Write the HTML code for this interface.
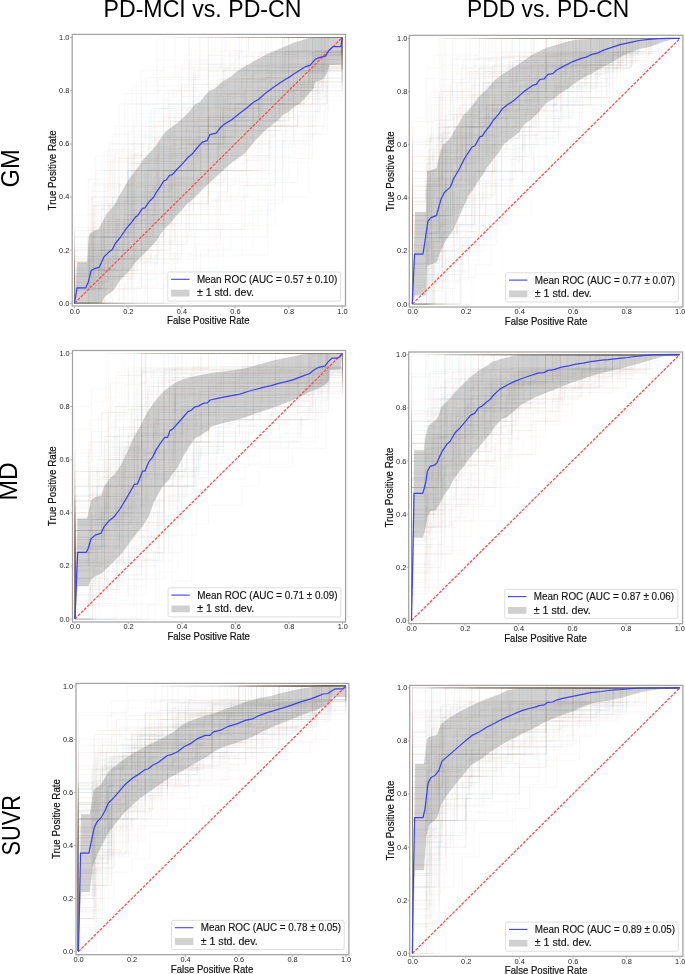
<!DOCTYPE html>
<html><head><meta charset="utf-8"><title>ROC curves</title>
<style>html,body{margin:0;padding:0;background:#fff;width:685px;height:974px;overflow:hidden}
svg{display:block;font-family:"Liberation Sans",sans-serif;will-change:transform;opacity:0.999}</style></head>
<body>
<svg width="685" height="974" viewBox="0 0 685 974" font-family='"Liberation Sans", sans-serif'>
<g><g fill="none" stroke-width="0.9" stroke-opacity="0.05"><path d="M74.5 303.3V288.5H108V259H141.4V214.7H174.9V155.7H208.3V140.9H241.8V111.4H275.3V81.9H308.7V52.4H342.2V37.6" stroke="#437394"/>
<path d="M74.5 303.3V256.4H104.2V225.2H134V147H163.7V115.7H193.5V84.5H223.2V68.9H253V53.2H282.7V37.6H312.5H342.2" stroke="#c88143"/>
<path d="M74.5 303.3V236.9H104.2V187.1H134V153.8H163.7V120.6H193.5V87.4H223.2V70.8H253H282.7V54.2H312.5V37.6H342.2" stroke="#3d7d3d"/>
<path d="M74.5 303.3H95.1V276.7H115.7H136.3V263.4H156.9H177.5V236.9H198.1H218.6V197H239.2V170.5H259.8V130.6H280.4V117.3H301V90.7H321.6V64.2H342.2V37.6" stroke="#a24142"/>
<path d="M74.5 303.3V276.7H87.9H101.3V197H114.7H128H141.4H154.8V170.5H168.2V117.3H181.6H195H208.3V64.2H221.7H235.1H248.5H261.9H275.3H288.7H302H315.4V37.6H328.8H342.2" stroke="#937baa"/>
<path d="M74.5 303.3H93.6V289.3H112.7H131.9V261.3H151V219.4H170.1V205.4H189.2H208.3V191.4H227.5V163.5H246.6V121.5H265.7H284.8V107.5H304V93.5H323.1V65.6H342.2V37.6" stroke="#7a5c56"/>
<path d="M74.5 303.3V265.3H91.2H108V189.4H124.7H141.4H158.2V151.5H174.9H191.6V132.5H208.3V113.5H225.1H241.8V75.6H258.5V56.6H275.3H292H308.7V37.6H325.5H342.2" stroke="#ce92bc"/>
<path d="M74.5 303.3V286.7H90.2V270.1H106V236.9H121.7H137.5H153.2V203.7H169V170.5H184.7H200.5V137.2H216.2H232V120.6H247.7H263.5H279.2V87.4H295H310.7V70.8H326.5V54.2H342.2V37.6" stroke="#7f7f7f"/>
<path d="M74.5 303.3H108H141.4H174.9V256.4H208.3H241.8V225.2H275.3V162.6H308.7V100.1H342.2V37.6" stroke="#a5a650"/>
<path d="M74.5 303.3H92.3H110.2H128H145.9H163.7V285.6H181.6H199.4V267.9H217.3V250.2H235.1H253V214.7H270.8V179.3H288.7V143.9H306.5V126.2H324.4V90.7H342.2V37.6" stroke="#4ca8b1"/>
<path d="M74.5 303.3V281.2H91.2H108V259H124.7V214.7H141.4H158.2V170.5H174.9H191.6H208.3H225.1V126.2H241.8H258.5V81.9H275.3H292H308.7V59.7H325.5H342.2V37.6" stroke="#437394"/>
<path d="M74.5 303.3V281.2H92.3H110.2V259H128V214.7H145.9H163.7V148.3H181.6H199.4V126.2H217.3H235.1H253V104H270.8V81.9H288.7V37.6H306.5H324.4H342.2" stroke="#c88143"/>
<path d="M74.5 303.3H89.4H104.2H119.1V273.8H134V244.3H148.9H163.7V214.7H178.6H193.5V185.2H208.3H223.2V155.7H238.1V126.2H253H267.8H282.7H297.6V96.6H312.5V67.1H327.3H342.2V37.6" stroke="#3d7d3d"/>
<path d="M74.5 303.3V287.7H92.3H110.2V256.4H128V240.8H145.9V225.2H163.7H181.6V193.9H199.4V162.6H217.3V147H235.1H253V115.7H270.8H288.7V84.5H306.5H324.4V68.9H342.2V37.6" stroke="#a24142"/>
<path d="M74.5 303.3V272H95.1V240.8H115.7V225.2H136.3V209.5H156.9V131.4H177.5H198.1V68.9H218.6H239.2V37.6H259.8H280.4H301H321.6H342.2" stroke="#937baa"/>
<path d="M74.5 303.3H87.9H101.3V270.1H114.7V236.9H128H141.4V203.7H154.8H168.2V170.5H181.6H195H208.3V137.2H221.7H235.1H248.5H261.9H275.3V70.8H288.7H302H315.4V37.6H328.8H342.2" stroke="#7a5c56"/>
<path d="M74.5 303.3H96.8V289.3H119.1H141.4V205.4H163.7H186V191.4H208.3V149.5H230.7H253V135.5H275.3V93.5H297.6H319.9V65.6H342.2V37.6" stroke="#ce92bc"/>
<path d="M74.5 303.3V273.8H89.4V244.3H104.2V214.7H119.1V185.2H134V126.2H148.9H163.7H178.6H193.5V67.1H208.3H223.2H238.1H253H267.8H282.7V37.6H297.6H312.5H327.3H342.2" stroke="#7f7f7f"/>
<path d="M74.5 303.3H93.6H112.7H131.9V262.4H151V242H170.1V201.1H189.2H208.3H227.5V180.7H246.6V139.8H265.7V119.4H284.8H304V98.9H323.1V58H342.2V37.6" stroke="#a5a650"/>
<path d="M74.5 303.3V270.1H87.9H101.3V236.9H114.7H128V137.2H141.4H154.8V104H168.2H181.6H195H208.3H221.7V70.8H235.1H248.5H261.9H275.3H288.7V37.6H302H315.4H328.8H342.2" stroke="#4ca8b1"/>
<path d="M74.5 303.3H92.3H110.2V244.3H128V155.7H145.9H163.7H181.6H199.4V126.2H217.3V67.1H235.1H253H270.8H288.7H306.5V37.6H324.4H342.2" stroke="#437394"/>
<path d="M74.5 303.3V244.3H101.3V229.5H128V155.7H154.8V126.2H181.6H208.3V81.9H235.1H261.9V37.6H288.7H315.4H342.2" stroke="#c88143"/>
<path d="M74.5 303.3H92.3H110.2H128V273.8H145.9V259H163.7H181.6V229.5H199.4H217.3V185.2H235.1V155.7H253H270.8V126.2H288.7V111.4H306.5V81.9H324.4V52.4H342.2V37.6" stroke="#3d7d3d"/>
<path d="M74.5 303.3H93.6V288.5H112.7V229.5H131.9H151V214.7H170.1V170.5H189.2H208.3V155.7H227.5H246.6V111.4H265.7H284.8V96.6H304V67.1H323.1V52.4H342.2V37.6" stroke="#a24142"/>
<path d="M74.5 303.3H95.1V270.1H115.7H136.3V203.7H156.9H177.5V170.5H198.1H218.6V137.2H239.2H259.8V104H280.4H301V70.8H321.6V37.6H342.2" stroke="#937baa"/>
<path d="M74.5 303.3V270.1H87.9V236.9H101.3V203.7H114.7V153.8H128H141.4V104H154.8H168.2H181.6V87.4H195V70.8H208.3H221.7V37.6H235.1H248.5H261.9H275.3H288.7H302H315.4H328.8H342.2" stroke="#7a5c56"/>
<path d="M74.5 303.3V276.7H88.6V236.9H102.7H116.8V223.6H130.9H144.9V210.3H159H173.1V183.7H187.2V117.3H201.3H215.4V90.7H229.5H243.6H257.7H271.8H285.8V50.9H299.9H314H328.1V37.6H342.2" stroke="#ce92bc"/>
<path d="M74.5 303.3V273.8H96.8V244.3H119.1H141.4V214.7H163.7H186V126.2H208.3H230.7H253H275.3V67.1H297.6H319.9V37.6H342.2" stroke="#7f7f7f"/>
<path d="M74.5 303.3H88.6V288.5H102.7V259H116.8H130.9H144.9V185.2H159H173.1H187.2H201.3V140.9H215.4H229.5H243.6H257.7V126.2H271.8V67.1H285.8H299.9H314H328.1H342.2V37.6" stroke="#a5a650"/>
<path d="M74.5 303.3V286.7H92.3V236.9H110.2H128V170.5H145.9H163.7V153.8H181.6V137.2H199.4V104H217.3V87.4H235.1H253V70.8H270.8V54.2H288.7H306.5H324.4V37.6H342.2" stroke="#4ca8b1"/>
<path d="M74.5 303.3H89.4V267.9H104.2H119.1H134V250.2H148.9V197H163.7H178.6H193.5V161.6H208.3H223.2V126.2H238.1H253V108.5H267.8H282.7V90.7H297.6V73H312.5H327.3V55.3H342.2V37.6" stroke="#437394"/>
<path d="M74.5 303.3H108V259H141.4V236.9H174.9V170.5H208.3V126.2H241.8H275.3H308.7V59.7H342.2V37.6" stroke="#c88143"/>
<path d="M74.5 303.3V227.4H108H141.4V151.5H174.9H208.3V94.5H241.8V56.6H275.3H308.7H342.2V37.6" stroke="#3d7d3d"/>
<path d="M74.5 303.3H96.8V288.5H119.1H141.4V273.8H163.7V244.3H186V214.7H208.3H230.7V185.2H253H275.3V126.2H297.6V111.4H319.9V67.1H342.2V37.6" stroke="#a24142"/>
<path d="M74.5 303.3V288.5H101.3V273.8H128V229.5H154.8V200H181.6V140.9H208.3V126.2H235.1H261.9V96.6H288.7V67.1H315.4V52.4H342.2V37.6" stroke="#937baa"/>
<path d="M74.5 303.3V282.9H98.8V201.1H123.2H147.5V160.2H171.8V139.8H196.2V119.4H220.5V78.5H244.9H269.2V58H293.5V37.6H317.9H342.2" stroke="#7a5c56"/>
<path d="M74.5 303.3V282.9H101.3V221.5H128H154.8V139.8H181.6H208.3H235.1V78.5H261.9H288.7V58H315.4H342.2V37.6" stroke="#ce92bc"/>
<path d="M74.5 303.3H108H141.4H174.9V223.6H208.3H241.8V197H275.3H308.7V90.7H342.2V37.6" stroke="#7f7f7f"/>
<path d="M74.5 303.3V285.6H98.8V250.2H123.2H147.5H171.8V197H196.2V179.3H220.5V108.5H244.9V73H269.2H293.5H317.9V55.3H342.2V37.6" stroke="#a5a650"/>
<path d="M74.5 303.3V270.1H89.4V236.9H104.2V170.5H119.1H134V137.2H148.9V104H163.7H178.6H193.5H208.3H223.2V70.8H238.1H253H267.8H282.7V37.6H297.6H312.5H327.3H342.2" stroke="#4ca8b1"/>
<path d="M74.5 303.3H98.8V270.1H123.2V220.3H147.5V187.1H171.8V153.8H196.2H220.5H244.9V87.4H269.2V70.8H293.5H317.9V54.2H342.2V37.6" stroke="#437394"/>
<path d="M74.5 303.3V261.3H95.1V205.4H115.7V191.4H136.3V163.5H156.9V121.5H177.5H198.1H218.6V93.5H239.2V79.6H259.8H280.4V51.6H301H321.6V37.6H342.2" stroke="#c88143"/>
<path d="M74.5 303.3V256.4H101.3V209.5H128V131.4H154.8H181.6V84.5H208.3V37.6H235.1H261.9H288.7H315.4H342.2" stroke="#3d7d3d"/>
<path d="M74.5 303.3V285.6H88.6H102.7V232.4H116.8H130.9V214.7H144.9V197H159H173.1H187.2V143.9H201.3H215.4H229.5V108.5H243.6H257.7V90.7H271.8H285.8H299.9V73H314V55.3H328.1H342.2V37.6" stroke="#a24142"/>
<path d="M74.5 303.3V230.8H93.6V206.7H112.7V158.4H131.9V85.9H151H170.1H189.2V37.6H208.3H227.5H246.6H265.7H284.8H304H323.1H342.2" stroke="#937baa"/>
<path d="M74.5 303.3H92.3H110.2V236.9H128H145.9H163.7V170.5H181.6H199.4H217.3V137.2H235.1V104H253H270.8V70.8H288.7H306.5H324.4V37.6H342.2" stroke="#7a5c56"/>
<path d="M74.5 303.3H98.8H123.2H147.5V236.9H171.8H196.2H220.5V170.5H244.9H269.2V137.2H293.5V104H317.9V70.8H342.2V37.6" stroke="#ce92bc"/>
<path d="M74.5 303.3H87.9V289.3H101.3H114.7V233.4H128H141.4V191.4H154.8V177.4H168.2H181.6H195H208.3V135.5H221.7V121.5H235.1H248.5V107.5H261.9V93.5H275.3H288.7H302V79.6H315.4V65.6H328.8V51.6H342.2V37.6" stroke="#7f7f7f"/>
<path d="M74.5 303.3H98.8V276.7H123.2V250.2H147.5V197H171.8V143.9H196.2H220.5V117.3H244.9V90.7H269.2H293.5H317.9V64.2H342.2V37.6" stroke="#a5a650"/>
<path d="M74.5 303.3H98.8V250.2H123.2H147.5V197H171.8V170.5H196.2V143.9H220.5V117.3H244.9V90.7H269.2H293.5V64.2H317.9V37.6H342.2" stroke="#4ca8b1"/>
<path d="M74.5 303.3H92.3V236.9H110.2V203.7H128H145.9H163.7V170.5H181.6H199.4V137.2H217.3H235.1V104H253H270.8H288.7V70.8H306.5H324.4V37.6H342.2" stroke="#437394"/>
<path d="M74.5 303.3V261.3H90.2V205.4H106V177.4H121.7V149.5H137.5V135.5H153.2V121.5H169V93.5H184.7V79.6H200.5V37.6H216.2H232H247.7H263.5H279.2H295H310.7H326.5H342.2" stroke="#c88143"/>
<path d="M74.5 303.3V276.7H93.6V250.2H112.7V197H131.9H151V170.5H170.1H189.2H208.3V117.3H227.5V104H246.6H265.7V77.5H284.8V37.6H304H323.1H342.2" stroke="#3d7d3d"/>
<path d="M74.5 303.3H98.8H123.2H147.5V273.8H171.8V259H196.2V244.3H220.5V229.5H244.9V185.2H269.2V126.2H293.5H317.9V81.9H342.2V37.6" stroke="#a24142"/>
<path d="M74.5 303.3V265.3H104.2V151.5H134V113.5H163.7H193.5V75.6H223.2V56.6H253H282.7V37.6H312.5H342.2" stroke="#937baa"/>
<path d="M74.5 303.3V263.4H87.9V236.9H101.3H114.7V157.2H128H141.4V143.9H154.8H168.2V104H181.6H195V64.2H208.3H221.7V50.9H235.1H248.5V37.6H261.9H275.3H288.7H302H315.4H328.8H342.2" stroke="#7a5c56"/>
<path d="M74.5 303.3V273.8H101.3H128V214.7H154.8V185.2H181.6V126.2H208.3H235.1H261.9V96.6H288.7H315.4V67.1H342.2V37.6" stroke="#ce92bc"/>
<path d="M74.5 303.3V281.2H89.4H104.2V236.9H119.1H134V214.7H148.9H163.7H178.6V192.6H193.5V148.3H208.3H223.2H238.1V104H253H267.8H282.7V81.9H297.6H312.5H327.3V59.7H342.2V37.6" stroke="#7f7f7f"/>
<path d="M74.5 303.3V286.7H89.4V253.5H104.2H119.1V220.3H134V187.1H148.9V137.2H163.7H178.6H193.5V70.8H208.3H223.2H238.1H253H267.8V54.2H282.7H297.6V37.6H312.5H327.3H342.2" stroke="#a5a650"/>
<path d="M74.5 303.3H89.4V250.2H104.2H119.1H134H148.9V223.6H163.7H178.6V170.5H193.5H208.3V143.9H223.2V117.3H238.1H253H267.8H282.7V90.7H297.6H312.5H327.3V64.2H342.2V37.6" stroke="#4ca8b1"/>
<path d="M74.5 303.3V244.3H95.1V155.7H115.7V126.2H136.3V81.9H156.9V37.6H177.5H198.1H218.6H239.2H259.8H280.4H301H321.6H342.2" stroke="#437394"/>
<path d="M74.5 303.3H93.6H112.7H131.9V259H151H170.1V236.9H189.2V214.7H208.3V192.6H227.5V170.5H246.6H265.7V126.2H284.8V104H304V81.9H323.1V59.7H342.2V37.6" stroke="#c88143"/>
<path d="M74.5 303.3H98.8V270.1H123.2V236.9H147.5V170.5H171.8H196.2V137.2H220.5V104H244.9H269.2H293.5V70.8H317.9V37.6H342.2" stroke="#3d7d3d"/>
<path d="M74.5 303.3V282.9H91.2H108V221.5H124.7V201.1H141.4V160.2H158.2V139.8H174.9H191.6H208.3V119.4H225.1H241.8H258.5V98.9H275.3V78.5H292V37.6H308.7H325.5H342.2" stroke="#a24142"/>
<path d="M74.5 303.3V270.1H95.1V236.9H115.7V203.7H136.3V187.1H156.9V153.8H177.5H198.1V137.2H218.6V120.6H239.2H259.8V87.4H280.4H301H321.6V54.2H342.2V37.6" stroke="#937baa"/>
<path d="M74.5 303.3V284.3H98.8V246.4H123.2V227.4H147.5V189.4H171.8V170.5H196.2V132.5H220.5V113.5H244.9H269.2H293.5V94.5H317.9V56.6H342.2V37.6" stroke="#7a5c56"/>
<path d="M74.5 303.3V284.3H93.6V227.4H112.7H131.9V170.5H151H170.1H189.2V132.5H208.3H227.5V94.5H246.6H265.7V75.6H284.8V37.6H304H323.1H342.2" stroke="#ce92bc"/>
<path d="M74.5 303.3H91.2V276.7H108H124.7V223.6H141.4H158.2V210.3H174.9V197H191.6H208.3V157.2H225.1V130.6H241.8H258.5H275.3V104H292V90.7H308.7V64.2H325.5V50.9H342.2V37.6" stroke="#7f7f7f"/>
<path d="M74.5 303.3H91.2H108H124.7V273.8H141.4V259H158.2H174.9V244.3H191.6V229.5H208.3H225.1H241.8H258.5V185.2H275.3V155.7H292V140.9H308.7V126.2H325.5V81.9H342.2V37.6" stroke="#a5a650"/>
<path d="M74.5 303.3V270.1H108V203.7H141.4V137.2H174.9V104H208.3H241.8V70.8H275.3V37.6H308.7H342.2" stroke="#4ca8b1"/>
<path d="M74.5 303.3H104.2H134V288.5H163.7V229.5H193.5H223.2V214.7H253V200H282.7V140.9H312.5V96.6H342.2V37.6" stroke="#437394"/>
<path d="M74.5 303.3V259H96.8V170.5H119.1V155.7H141.4V126.2H163.7V67.1H186H208.3H230.7V37.6H253H275.3H297.6H319.9H342.2" stroke="#c88143"/>
<path d="M74.5 303.3V267.9H96.8V250.2H119.1V214.7H141.4V161.6H163.7H186V143.9H208.3V108.5H230.7V90.7H253V73H275.3H297.6H319.9V55.3H342.2V37.6" stroke="#3d7d3d"/>
<path d="M74.5 303.3V279.1H96.8V255H119.1V158.4H141.4H163.7H186V110.1H208.3H230.7H253H275.3V61.8H297.6H319.9V37.6H342.2" stroke="#a24142"/>
<path d="M74.5 303.3V289.3H98.8V247.4H123.2V219.4H147.5V191.4H171.8V163.5H196.2V149.5H220.5V93.5H244.9H269.2V65.6H293.5H317.9V51.6H342.2V37.6" stroke="#937baa"/>
<path d="M74.5 303.3V273.8H93.6V185.2H112.7H131.9V155.7H151V126.2H170.1V96.6H189.2V37.6H208.3H227.5H246.6H265.7H284.8H304H323.1H342.2" stroke="#7a5c56"/>
<path d="M74.5 303.3V250.2H92.3V197H110.2H128H145.9V170.5H163.7V117.3H181.6H199.4H217.3V90.7H235.1V64.2H253H270.8H288.7V37.6H306.5H324.4H342.2" stroke="#ce92bc"/>
<path d="M74.5 303.3H95.1V270.1H115.7V236.9H136.3V220.3H156.9H177.5V153.8H198.1V120.6H218.6H239.2V104H259.8V54.2H280.4H301H321.6V37.6H342.2" stroke="#7f7f7f"/>
<path d="M74.5 303.3V259H104.2H134V185.2H163.7V155.7H193.5V140.9H223.2V81.9H253H282.7H312.5V52.4H342.2V37.6" stroke="#a5a650"/>
<path d="M74.5 303.3H88.6V270.1H102.7H116.8V236.9H130.9V203.7H144.9V170.5H159V137.2H173.1H187.2H201.3H215.4V104H229.5H243.6H257.7H271.8H285.8V70.8H299.9H314V37.6H328.1H342.2" stroke="#4ca8b1"/>
<path d="M74.5 303.3V275.3H89.4V247.4H104.2V205.4H119.1V177.4H134H148.9V121.5H163.7V93.5H178.6V79.6H193.5H208.3V65.6H223.2H238.1H253H267.8V37.6H282.7H297.6H312.5H327.3H342.2" stroke="#437394"/>
<path d="M74.5 303.3V256.4H92.3V209.5H110.2V162.6H128H145.9H163.7V100.1H181.6V68.9H199.4H217.3H235.1H253V37.6H270.8H288.7H306.5H324.4H342.2" stroke="#c88143"/>
<path d="M74.5 303.3H104.2V236.9H134H163.7V170.5H193.5V137.2H223.2H253V104H282.7V70.8H312.5V37.6H342.2" stroke="#3d7d3d"/>
<path d="M74.5 303.3V290H93.6V263.4H112.7V250.2H131.9V210.3H151V197H170.1V157.2H189.2V130.6H208.3V117.3H227.5H246.6V90.7H265.7V77.5H284.8V50.9H304H323.1V37.6H342.2" stroke="#a24142"/>
<path d="M74.5 303.3V288.5H101.3V229.5H128V214.7H154.8V170.5H181.6V140.9H208.3V96.6H235.1H261.9V81.9H288.7V52.4H315.4H342.2V37.6" stroke="#937baa"/>
<path d="M74.5 303.3H96.8H119.1V259H141.4V244.3H163.7V229.5H186V185.2H208.3V170.5H230.7H253V155.7H275.3V126.2H297.6V81.9H319.9H342.2V37.6" stroke="#7a5c56"/>
<path d="M74.5 303.3V272H108V225.2H141.4V209.5H174.9V178.3H208.3V115.7H241.8V100.1H275.3V84.5H308.7V53.2H342.2V37.6" stroke="#ce92bc"/>
<path d="M74.5 303.3V279.1H93.6V230.8H112.7H131.9V158.4H151H170.1V110.1H189.2H208.3V85.9H227.5H246.6V61.8H265.7H284.8V37.6H304H323.1H342.2" stroke="#7f7f7f"/>
<path d="M74.5 303.3H93.6H112.7V259H131.9H151V214.7H170.1H189.2V170.5H208.3H227.5V126.2H246.6H265.7H284.8V104H304V81.9H323.1V59.7H342.2V37.6" stroke="#a5a650"/>
<path d="M74.5 303.3H93.6H112.7H131.9H151V262.4H170.1V242H189.2V201.1H208.3H227.5H246.6V160.2H265.7H284.8V139.8H304V78.5H323.1H342.2V37.6" stroke="#4ca8b1"/>
<path d="M74.5 303.3V259H101.3H128V170.5H154.8H181.6V96.6H208.3H235.1H261.9V81.9H288.7V37.6H315.4H342.2" stroke="#437394"/>
<path d="M74.5 303.3V285.6H93.6H112.7H131.9V232.4H151H170.1H189.2V197H208.3V179.3H227.5V143.9H246.6V126.2H265.7H284.8V90.7H304H323.1V55.3H342.2V37.6" stroke="#c88143"/>
<path d="M74.5 303.3V272H108V256.4H141.4V240.8H174.9V178.3H208.3V100.1H241.8H275.3H308.7V68.9H342.2V37.6" stroke="#3d7d3d"/>
<path d="M74.5 303.3V276.7H89.4V250.2H104.2H119.1V223.6H134H148.9H163.7V170.5H178.6H193.5V143.9H208.3V117.3H223.2H238.1H253H267.8V90.7H282.7H297.6V64.2H312.5H327.3H342.2V37.6" stroke="#a24142"/>
<path d="M74.5 303.3H95.1V270.1H115.7V203.7H136.3H156.9V170.5H177.5H198.1H218.6V104H239.2H259.8H280.4H301V70.8H321.6V37.6H342.2" stroke="#937baa"/>
<path d="M74.5 303.3V250.2H92.3V197H110.2V143.9H128H145.9V117.3H163.7H181.6V64.2H199.4H217.3H235.1V37.6H253H270.8H288.7H306.5H324.4H342.2" stroke="#7a5c56"/>
<path d="M74.5 303.3V250.2H88.6V179.3H102.7H116.8H130.9V143.9H144.9V126.2H159V108.5H173.1V90.7H187.2V55.3H201.3H215.4V37.6H229.5H243.6H257.7H271.8H285.8H299.9H314H328.1H342.2" stroke="#ce92bc"/>
<path d="M74.5 303.3H90.2H106V285.6H121.7V232.4H137.5H153.2V214.7H169V179.3H184.7H200.5V143.9H216.2V126.2H232V108.5H247.7H263.5H279.2H295V55.3H310.7H326.5H342.2V37.6" stroke="#7f7f7f"/>
<path d="M74.5 303.3V288.5H88.6V229.5H102.7H116.8V185.2H130.9H144.9H159V170.5H173.1V126.2H187.2H201.3V111.4H215.4V96.6H229.5H243.6H257.7V67.1H271.8V52.4H285.8H299.9H314H328.1H342.2V37.6" stroke="#a5a650"/>
<path d="M74.5 303.3V259H101.3H128V170.5H154.8V148.3H181.6V126.2H208.3H235.1V81.9H261.9V59.7H288.7V37.6H315.4H342.2" stroke="#4ca8b1"/>
<path d="M74.5 303.3H87.9H101.3V279.1H114.7H128H141.4H154.8V255H168.2H181.6H195V230.8H208.3V182.5H221.7H235.1H248.5H261.9V134.2H275.3H288.7H302H315.4V85.9H328.8V61.8H342.2V37.6" stroke="#437394"/>
<path d="M74.5 303.3H104.2V279.1H134V255H163.7V182.5H193.5H223.2V110.1H253H282.7V85.9H312.5V61.8H342.2V37.6" stroke="#c88143"/>
<path d="M74.5 303.3V273.8H95.1V244.3H115.7H136.3H156.9V155.7H177.5H198.1H218.6V126.2H239.2H259.8V96.6H280.4V67.1H301H321.6V37.6H342.2" stroke="#3d7d3d"/>
<path d="M74.5 303.3H90.2H106H121.7H137.5H153.2H169V290H184.7V276.7H200.5V250.2H216.2V197H232H247.7V157.2H263.5H279.2H295V143.9H310.7V104H326.5V77.5H342.2V37.6" stroke="#a24142"/>
<path d="M74.5 303.3V236.9H95.1V170.5H115.7H136.3V104H156.9V59.7H177.5H198.1H218.6H239.2V37.6H259.8H280.4H301H321.6H342.2" stroke="#937baa"/>
<path d="M74.5 303.3V236.9H96.8V203.7H119.1V104H141.4V70.8H163.7V37.6H186H208.3H230.7H253H275.3H297.6H319.9H342.2" stroke="#7a5c56"/>
<path d="M74.5 303.3V281.2H93.6V236.9H112.7V214.7H131.9V170.5H151H170.1V148.3H189.2V126.2H208.3H227.5V81.9H246.6H265.7V59.7H284.8H304V37.6H323.1H342.2" stroke="#ce92bc"/>
<path d="M74.5 303.3V250.2H104.2V232.4H134V161.6H163.7H193.5V126.2H223.2V108.5H253V73H282.7V55.3H312.5H342.2V37.6" stroke="#7f7f7f"/>
<path d="M74.5 303.3V247.4H108V219.4H141.4V177.4H174.9V107.5H208.3H241.8V79.6H275.3V51.6H308.7V37.6H342.2" stroke="#a5a650"/>
<path d="M74.5 303.3V290H101.3V276.7H128V210.3H154.8V197H181.6V183.7H208.3V170.5H235.1V104H261.9V77.5H288.7H315.4V50.9H342.2V37.6" stroke="#4ca8b1"/>
<path d="M74.5 303.3H98.8V263.4H123.2V236.9H147.5V223.6H171.8V183.7H196.2H220.5V130.6H244.9H269.2V117.3H293.5V50.9H317.9H342.2V37.6" stroke="#437394"/>
<path d="M74.5 303.3H101.3V270.1H128H154.8V253.5H181.6V203.7H208.3V170.5H235.1H261.9V120.6H288.7H315.4V70.8H342.2V37.6" stroke="#c88143"/>
<path d="M74.5 303.3H98.8V250.2H123.2V223.6H147.5H171.8V170.5H196.2H220.5V143.9H244.9H269.2V117.3H293.5V90.7H317.9V64.2H342.2V37.6" stroke="#3d7d3d"/>
<path d="M74.5 303.3V261.3H88.6H102.7H116.8V219.4H130.9V205.4H144.9H159V135.5H173.1V121.5H187.2H201.3H215.4H229.5V93.5H243.6H257.7V79.6H271.8V37.6H285.8H299.9H314H328.1H342.2" stroke="#a24142"/>
<path d="M74.5 303.3H104.2H134H163.7V253.5H193.5V170.5H223.2H253H282.7V104H312.5V87.4H342.2V37.6" stroke="#937baa"/>
<path d="M74.5 303.3V261.3H92.3V233.4H110.2V205.4H128V163.5H145.9V149.5H163.7H181.6V107.5H199.4V93.5H217.3V79.6H235.1H253V65.6H270.8V51.6H288.7H306.5V37.6H324.4H342.2" stroke="#7a5c56"/>
<path d="M74.5 303.3H88.6V279.1H102.7H116.8H130.9V255H144.9V230.8H159H173.1V182.5H187.2H201.3H215.4V158.4H229.5H243.6V134.2H257.7H271.8H285.8V85.9H299.9H314V61.8H328.1H342.2V37.6" stroke="#ce92bc"/>
<path d="M74.5 303.3V275.3H93.6V233.4H112.7H131.9V219.4H151V191.4H170.1V163.5H189.2V107.5H208.3H227.5V93.5H246.6V65.6H265.7V37.6H284.8H304H323.1H342.2" stroke="#7f7f7f"/>
<path d="M74.5 303.3H89.4V276.7H104.2V250.2H119.1H134V197H148.9H163.7H178.6H193.5V143.9H208.3H223.2H238.1H253V117.3H267.8V64.2H282.7H297.6H312.5H327.3V37.6H342.2" stroke="#a5a650"/>
<path d="M74.5 303.3V281.2H89.4V236.9H104.2H119.1V214.7H134V192.6H148.9H163.7V170.5H178.6V148.3H193.5H208.3V126.2H223.2V104H238.1H253H267.8V81.9H282.7H297.6V37.6H312.5H327.3H342.2" stroke="#4ca8b1"/>
<path d="M74.5 303.3H101.3V236.9H128V220.3H154.8V187.1H181.6V170.5H208.3V120.6H235.1H261.9H288.7V87.4H315.4V54.2H342.2V37.6" stroke="#437394"/>
<path d="M74.5 303.3V282.9H92.3V221.5H110.2V160.2H128H145.9H163.7V139.8H181.6V119.4H199.4H217.3V98.9H235.1V58H253H270.8V37.6H288.7H306.5H324.4H342.2" stroke="#c88143"/>
<path d="M74.5 303.3V270.1H87.9H101.3V236.9H114.7V203.7H128V170.5H141.4H154.8V137.2H168.2H181.6V104H195H208.3V70.8H221.7H235.1H248.5H261.9H275.3H288.7V37.6H302H315.4H328.8H342.2" stroke="#3d7d3d"/>
<path d="M74.5 303.3V263.4H92.3V183.7H110.2H128V104H145.9V77.5H163.7H181.6H199.4V37.6H217.3H235.1H253H270.8H288.7H306.5H324.4H342.2" stroke="#a24142"/>
<path d="M74.5 303.3V285.6H88.6H102.7V267.9H116.8H130.9V214.7H144.9H159V179.3H173.1H187.2H201.3V143.9H215.4V126.2H229.5H243.6V108.5H257.7H271.8V73H285.8H299.9H314H328.1V37.6H342.2" stroke="#937baa"/>
<path d="M74.5 303.3V230.8H93.6H112.7V134.2H131.9H151V110.1H170.1H189.2V61.8H208.3V37.6H227.5H246.6H265.7H284.8H304H323.1H342.2" stroke="#7a5c56"/>
<path d="M74.5 303.3V214.7H108V143.9H141.4V90.7H174.9H208.3V55.3H241.8V37.6H275.3H308.7H342.2" stroke="#ce92bc"/>
<path d="M74.5 303.3V267.9H87.9V179.3H101.3V161.6H114.7H128H141.4V143.9H154.8V108.5H168.2V90.7H181.6H195H208.3V55.3H221.7H235.1H248.5V37.6H261.9H275.3H288.7H302H315.4H328.8H342.2" stroke="#7f7f7f"/>
<path d="M74.5 303.3H108V250.2H141.4V197H174.9V143.9H208.3H241.8V117.3H275.3V90.7H308.7V64.2H342.2V37.6" stroke="#a5a650"/>
<path d="M74.5 303.3H96.8V270.1H119.1H141.4V236.9H163.7V203.7H186H208.3V170.5H230.7V104H253H275.3H297.6V70.8H319.9H342.2V37.6" stroke="#4ca8b1"/>
<path d="M74.5 303.3H87.9V286.7H101.3V270.1H114.7H128H141.4V203.7H154.8H168.2V153.8H181.6H195H208.3V137.2H221.7H235.1V120.6H248.5H261.9H275.3H288.7V87.4H302H315.4V54.2H328.8H342.2V37.6" stroke="#437394"/>
<path d="M74.5 303.3V279.1H93.6V230.8H112.7V206.7H131.9V182.5H151H170.1H189.2V158.4H208.3H227.5V110.1H246.6V85.9H265.7H284.8H304V61.8H323.1V37.6H342.2" stroke="#c88143"/>
<path d="M74.5 303.3H89.4H104.2H119.1H134H148.9H163.7V279.1H178.6H193.5V255H208.3H223.2H238.1H253H267.8V182.5H282.7H297.6V158.4H312.5V134.2H327.3V85.9H342.2V37.6" stroke="#3d7d3d"/>
<path d="M74.5 303.3V282.9H91.2V242H108H124.7V201.1H141.4H158.2V180.7H174.9V139.8H191.6V119.4H208.3H225.1V98.9H241.8V78.5H258.5H275.3H292V58H308.7H325.5V37.6H342.2" stroke="#a24142"/>
<path d="M74.5 303.3V289.3H93.6V205.4H112.7H131.9V191.4H151H170.1V121.5H189.2H208.3V93.5H227.5H246.6V79.6H265.7V51.6H284.8H304V37.6H323.1H342.2" stroke="#937baa"/>
<path d="M74.5 303.3V290H104.2V263.4H134V223.6H163.7V210.3H193.5V143.9H223.2H253V104H282.7V90.7H312.5V64.2H342.2V37.6" stroke="#7a5c56"/>
<path d="M74.5 303.3V275.3H101.3V219.4H128H154.8V205.4H181.6V191.4H208.3V135.5H235.1V107.5H261.9V51.6H288.7H315.4H342.2V37.6" stroke="#ce92bc"/>
<path d="M74.5 303.3V275.3H93.6V261.3H112.7V247.4H131.9V163.5H151H170.1V121.5H189.2H208.3H227.5H246.6V79.6H265.7V65.6H284.8V51.6H304V37.6H323.1H342.2" stroke="#7f7f7f"/>
<path d="M74.5 303.3H95.1V284.3H115.7V265.3H136.3H156.9V208.4H177.5V189.4H198.1V170.5H218.6V132.5H239.2H259.8V113.5H280.4V94.5H301V75.6H321.6V56.6H342.2V37.6" stroke="#a5a650"/>
<path d="M74.5 303.3H98.8H123.2V287.7H147.5V272H171.8H196.2V209.5H220.5V178.3H244.9H269.2V147H293.5V115.7H317.9V68.9H342.2V37.6" stroke="#4ca8b1"/>
<path d="M74.5 303.3V287.7H88.6V256.4H102.7H116.8V225.2H130.9V193.9H144.9H159V147H173.1V131.4H187.2V115.7H201.3V84.5H215.4H229.5V53.2H243.6H257.7H271.8H285.8H299.9H314V37.6H328.1H342.2" stroke="#437394"/>
<path d="M74.5 303.3H89.4H104.2V270.1H119.1V203.7H134H148.9H163.7H178.6H193.5H208.3V170.5H223.2V137.2H238.1V104H253H267.8H282.7H297.6H312.5V70.8H327.3H342.2V37.6" stroke="#c88143"/>
<path d="M74.5 303.3V276.7H89.4V250.2H104.2V223.6H119.1H134H148.9V143.9H163.7H178.6H193.5V117.3H208.3H223.2H238.1H253V90.7H267.8V64.2H282.7H297.6V37.6H312.5H327.3H342.2" stroke="#3d7d3d"/>
<path d="M74.5 303.3H93.6H112.7V276.7H131.9V250.2H151H170.1V210.3H189.2V197H208.3V170.5H227.5H246.6V130.6H265.7V104H284.8H304V90.7H323.1V50.9H342.2V37.6" stroke="#a24142"/>
<path d="M74.5 303.3V270.1H92.3H110.2V236.9H128H145.9V203.7H163.7H181.6V137.2H199.4H217.3H235.1V104H253H270.8V70.8H288.7H306.5H324.4V37.6H342.2" stroke="#937baa"/>
<path d="M74.5 303.3H88.6H102.7H116.8H130.9H144.9V244.3H159H173.1H187.2V214.7H201.3V200H215.4H229.5H243.6V185.2H257.7V140.9H271.8H285.8V126.2H299.9H314V111.4H328.1V67.1H342.2V37.6" stroke="#7a5c56"/>
<path d="M74.5 303.3H98.8H123.2V259H147.5H171.8V170.5H196.2H220.5H244.9V148.3H269.2V126.2H293.5V81.9H317.9V59.7H342.2V37.6" stroke="#ce92bc"/>
<path d="M74.5 303.3V288.5H104.2V244.3H134V229.5H163.7V185.2H193.5V96.6H223.2H253H282.7V67.1H312.5V52.4H342.2V37.6" stroke="#7f7f7f"/>
<path d="M74.5 303.3V263.4H91.2V197H108V183.7H124.7V143.9H141.4V104H158.2V90.7H174.9H191.6V50.9H208.3H225.1H241.8V37.6H258.5H275.3H292H308.7H325.5H342.2" stroke="#a5a650"/>
<path d="M74.5 303.3V267.9H93.6H112.7V197H131.9H151V108.5H170.1H189.2H208.3V90.7H227.5V73H246.6V55.3H265.7V37.6H284.8H304H323.1H342.2" stroke="#4ca8b1"/>
<path d="M74.5 303.3H91.2V282.9H108V262.4H124.7H141.4H158.2V201.1H174.9H191.6V160.2H208.3V139.8H225.1V119.4H241.8H258.5V98.9H275.3H292V78.5H308.7H325.5V58H342.2V37.6" stroke="#437394"/>
<path d="M74.5 303.3H89.4H104.2V281.2H119.1V259H134H148.9V192.6H163.7H178.6V170.5H193.5H208.3V126.2H223.2H238.1H253H267.8H282.7V104H297.6H312.5V59.7H327.3H342.2V37.6" stroke="#c88143"/>
<path d="M74.5 303.3V247.4H91.2V191.4H108V149.5H124.7V93.5H141.4H158.2V79.6H174.9V37.6H191.6H208.3H225.1H241.8H258.5H275.3H292H308.7H325.5H342.2" stroke="#3d7d3d"/>
<path d="M74.5 303.3V273.8H90.2H106V244.3H121.7H137.5H153.2V185.2H169H184.7H200.5V126.2H216.2H232H247.7H263.5H279.2V67.1H295H310.7H326.5H342.2V37.6" stroke="#a24142"/>
<path d="M74.5 303.3H91.2H108H124.7V282.9H141.4V242H158.2H174.9V201.1H191.6V180.7H208.3H225.1V160.2H241.8H258.5V98.9H275.3H292H308.7H325.5V78.5H342.2V37.6" stroke="#937baa"/>
<path d="M74.5 303.3H90.2H106V276.7H121.7V250.2H137.5H153.2H169V223.6H184.7H200.5V143.9H216.2H232H247.7H263.5H279.2H295V90.7H310.7V64.2H326.5H342.2V37.6" stroke="#7a5c56"/>
<path d="M74.5 303.3V272H91.2V256.4H108V225.2H124.7V193.9H141.4H158.2V147H174.9V131.4H191.6H208.3V115.7H225.1V68.9H241.8H258.5V53.2H275.3H292H308.7V37.6H325.5H342.2" stroke="#ce92bc"/>
<path d="M74.5 303.3H89.4H104.2H119.1H134H148.9H163.7H178.6V270.1H193.5H208.3H223.2V236.9H238.1H253H267.8V203.7H282.7V137.2H297.6H312.5V104H327.3V70.8H342.2V37.6" stroke="#7f7f7f"/>
<path d="M74.5 303.3H101.3V250.2H128V210.3H154.8V197H181.6V130.6H208.3V117.3H235.1H261.9V90.7H288.7H315.4V50.9H342.2V37.6" stroke="#a5a650"/>
<path d="M74.5 303.3H92.3V250.2H110.2H128H145.9V157.2H163.7H181.6H199.4H217.3V130.6H235.1V117.3H253H270.8V104H288.7V50.9H306.5H324.4H342.2V37.6" stroke="#4ca8b1"/>
<path d="M74.5 303.3V287.7H91.2V256.4H108H124.7H141.4H158.2V209.5H174.9V193.9H191.6H208.3V115.7H225.1H241.8H258.5V100.1H275.3H292V84.5H308.7V68.9H325.5H342.2V37.6" stroke="#437394"/>
<path d="M74.5 303.3H101.3V276.7H128V250.2H154.8V223.6H181.6V143.9H208.3H235.1H261.9V130.6H288.7V104H315.4V64.2H342.2V37.6" stroke="#c88143"/>
<path d="M74.5 303.3H104.2V236.9H134V170.5H163.7V137.2H193.5H223.2V104H253V70.8H282.7H312.5V37.6H342.2" stroke="#3d7d3d"/>
<path d="M74.5 303.3H89.4V270.1H104.2H119.1H134V236.9H148.9H163.7V203.7H178.6H193.5H208.3V170.5H223.2V104H238.1H253H267.8H282.7H297.6H312.5H327.3V70.8H342.2V37.6" stroke="#a24142"/>
<path d="M74.5 303.3V276.7H104.2H134V223.6H163.7V143.9H193.5H223.2V117.3H253H282.7V64.2H312.5H342.2V37.6" stroke="#937baa"/>
<path d="M74.5 303.3V287.7H90.2H106V272H121.7H137.5V240.8H153.2V178.3H169H184.7H200.5H216.2V147H232V131.4H247.7H263.5V115.7H279.2V84.5H295H310.7V68.9H326.5V53.2H342.2V37.6" stroke="#7a5c56"/>
<path d="M74.5 303.3H93.6H112.7H131.9H151H170.1V279.1H189.2V255H208.3V206.7H227.5H246.6H265.7V158.4H284.8H304V134.2H323.1V85.9H342.2V37.6" stroke="#ce92bc"/>
<path d="M74.5 303.3V290H88.6V263.4H102.7H116.8V197H130.9H144.9V170.5H159H173.1V143.9H187.2H201.3H215.4V117.3H229.5V104H243.6V90.7H257.7V77.5H271.8V64.2H285.8H299.9H314V50.9H328.1V37.6H342.2" stroke="#7f7f7f"/>
<path d="M74.5 303.3H98.8H123.2V273.8H147.5V229.5H171.8V214.7H196.2H220.5V155.7H244.9H269.2V140.9H293.5V96.6H317.9V81.9H342.2V37.6" stroke="#a5a650"/>
<path d="M74.5 303.3H96.8H119.1H141.4H163.7H186H208.3V250.2H230.7V223.6H253V210.3H275.3V130.6H297.6V117.3H319.9V90.7H342.2V37.6" stroke="#4ca8b1"/>
<path d="M74.5 303.3V261.3H95.1H115.7V219.4H136.3V163.5H156.9H177.5H198.1V149.5H218.6V93.5H239.2V51.6H259.8H280.4H301H321.6H342.2V37.6" stroke="#437394"/>
<path d="M74.5 303.3V276.7H101.3V250.2H128V183.7H154.8H181.6V143.9H208.3V104H235.1V90.7H261.9H288.7V64.2H315.4V50.9H342.2V37.6" stroke="#c88143"/>
<path d="M74.5 303.3V276.7H91.2V250.2H108H124.7V197H141.4H158.2H174.9V170.5H191.6V143.9H208.3H225.1V117.3H241.8H258.5V90.7H275.3H292H308.7V64.2H325.5V37.6H342.2" stroke="#3d7d3d"/>
<path d="M74.5 303.3V267.9H104.2V250.2H134H163.7V161.6H193.5V143.9H223.2V108.5H253V90.7H282.7H312.5V55.3H342.2V37.6" stroke="#a24142"/>
<path d="M74.5 303.3H95.1H115.7H136.3V286.7H156.9V236.9H177.5V203.7H198.1H218.6V120.6H239.2H259.8H280.4V104H301V87.4H321.6V70.8H342.2V37.6" stroke="#937baa"/>
<path d="M74.5 303.3V290H93.6V223.6H112.7H131.9V170.5H151H170.1H189.2V157.2H208.3V104H227.5V90.7H246.6V37.6H265.7H284.8H304H323.1H342.2" stroke="#7a5c56"/>
<path d="M74.5 303.3V265.3H88.6V246.4H102.7V208.4H116.8H130.9V170.5H144.9H159V132.5H173.1H187.2V113.5H201.3H215.4V94.5H229.5H243.6H257.7V56.6H271.8H285.8H299.9H314H328.1V37.6H342.2" stroke="#ce92bc"/>
<path d="M74.5 303.3V276.7H91.2V236.9H108V197H124.7H141.4V170.5H158.2H174.9V117.3H191.6H208.3H225.1V37.6H241.8H258.5H275.3H292H308.7H325.5H342.2" stroke="#7f7f7f"/>
<path d="M74.5 303.3V288.5H92.3H110.2H128V244.3H145.9V185.2H163.7H181.6V155.7H199.4V126.2H217.3H235.1V111.4H253H270.8V81.9H288.7V67.1H306.5V52.4H324.4H342.2V37.6" stroke="#a5a650"/>
<path d="M74.5 303.3V273.8H104.2V259H134V200H163.7V170.5H193.5V126.2H223.2V96.6H253H282.7H312.5V52.4H342.2V37.6" stroke="#4ca8b1"/></g></g>
<polygon points="74.5,303.3 77.2,262.1 87.2,262.1 88.4,241.7 89.5,233.5 95.4,230 98.2,229.4 102.2,222.4 106.2,214.3 114.3,205.3 119.8,195 128.6,179.7 137.3,168 144.6,157.8 150.5,151.9 157.8,143.2 163.6,133.7 169.5,128.6 176.8,123.5 184,116.9 189.9,111.1 195,103.9 199.7,102.2 204.3,96.3 209,91.1 213.7,89.3 218.4,85.2 223,81.1 227.7,78.8 232.4,75.3 237,71.2 241.7,68.3 246.4,65.4 251.1,63 255.7,60.1 260.4,57.8 266,54.6 271.8,52.3 277.7,49.4 283.5,47 289.4,44.7 295.2,42.3 301,40.6 306.9,38.8 310.4,37.9 342.3,37.6 342.3,37.6 340.7,64.5 329.6,65.1 327.9,70.4 325.6,76.2 322.1,79.7 315.1,82 313.9,87.9 311,91.3 305.5,97.7 299.3,103.8 293.3,107.6 288.1,112.2 282.8,114.8 277.6,120.7 272.3,124.7 265.7,129.9 260.5,135.2 255.2,140.4 250,147 244.7,153.6 238.1,158.2 231.6,162.8 224.5,169 218.8,174.5 213.6,179.1 208.3,183.7 203.1,188.9 197.8,194.2 192.6,199.4 187.3,203.4 182,209.9 176.8,215.2 171.5,221.8 166.3,227 161,233.6 155.8,241.5 149.1,248.7 144.4,253.4 139.7,258 135.1,262.7 130.4,269.7 125.7,274.4 121,279 116.4,286.1 112.9,290.7 109.4,293.6 104.7,296.6 101.8,303.3 77.2,303.3" fill="#808080" fill-opacity="0.37"/>
<line x1="74.5" y1="303.3" x2="342.2" y2="37.6" stroke="#ff4d4d" stroke-width="1.3" stroke-dasharray="2.98 1.35" stroke-dashoffset="-0.2"/>
<polyline points="74.4,303.3 77,287.8 85.7,287.8 88.1,282.8 91.1,270.7 94.2,268.7 99.2,267.3 104.2,256.6 108.3,252.6 112.3,249.6 115.3,243.5 120.3,237.5 126.4,228.4 132.4,221.4 135.5,216.9 137.5,215.9 142.5,208.3 144.9,207.9 149.6,201.2 153.6,197.2 156.6,191.8 159.2,188.4 163.6,181.1 166.5,179.7 169.5,175.3 172.4,174.6 176.8,169.5 182.6,163.6 188.4,157 192.1,154.1 197,148 202.1,142.4 207.3,140.3 209.8,134.7 216.2,133.1 220.1,128 224,124.4 231.7,119.8 239.4,113.4 245.8,108.7 253.5,102.3 258.6,99.2 265.1,93.6 272.8,87.7 283.1,80.7 290.8,76.1 298.5,71 306.2,66.3 310,65.3 315.2,59.4 319,57.6 325.4,56.1 329.3,49.9 333.2,46.6 340.9,46.6 342.3,37.6" fill="none" stroke="#4040f0" stroke-width="1.25" stroke-linejoin="round"/>
<rect x="72.2" y="34.4" width="273.3" height="271.6" fill="none" stroke="#a2a2a2" stroke-width="1.25"/>
<line x1="74.5" y1="306.3" x2="74.5" y2="308.5" stroke="#a2a2a2" stroke-width="0.8"/>
<line x1="70" y1="303.3" x2="72.2" y2="303.3" stroke="#a2a2a2" stroke-width="0.8"/>
<text x="74.8" y="313.6" text-anchor="middle" font-size="7.4" fill="#262626">0.0</text>
<text x="69.4" y="305.7" text-anchor="end" font-size="7.4" fill="#262626">0.0</text>
<line x1="128" y1="306.3" x2="128" y2="308.5" stroke="#a2a2a2" stroke-width="0.8"/>
<line x1="70" y1="250.2" x2="72.2" y2="250.2" stroke="#a2a2a2" stroke-width="0.8"/>
<text x="128.3" y="313.6" text-anchor="middle" font-size="7.4" fill="#262626">0.2</text>
<text x="69.4" y="252.6" text-anchor="end" font-size="7.4" fill="#262626">0.2</text>
<line x1="181.6" y1="306.3" x2="181.6" y2="308.5" stroke="#a2a2a2" stroke-width="0.8"/>
<line x1="70" y1="197" x2="72.2" y2="197" stroke="#a2a2a2" stroke-width="0.8"/>
<text x="181.9" y="313.6" text-anchor="middle" font-size="7.4" fill="#262626">0.4</text>
<text x="69.4" y="199.4" text-anchor="end" font-size="7.4" fill="#262626">0.4</text>
<line x1="235.1" y1="306.3" x2="235.1" y2="308.5" stroke="#a2a2a2" stroke-width="0.8"/>
<line x1="70" y1="143.9" x2="72.2" y2="143.9" stroke="#a2a2a2" stroke-width="0.8"/>
<text x="235.4" y="313.6" text-anchor="middle" font-size="7.4" fill="#262626">0.6</text>
<text x="69.4" y="146.3" text-anchor="end" font-size="7.4" fill="#262626">0.6</text>
<line x1="288.7" y1="306.3" x2="288.7" y2="308.5" stroke="#a2a2a2" stroke-width="0.8"/>
<line x1="70" y1="90.7" x2="72.2" y2="90.7" stroke="#a2a2a2" stroke-width="0.8"/>
<text x="289" y="313.6" text-anchor="middle" font-size="7.4" fill="#262626">0.8</text>
<text x="69.4" y="93.1" text-anchor="end" font-size="7.4" fill="#262626">0.8</text>
<line x1="342.2" y1="306.3" x2="342.2" y2="308.5" stroke="#a2a2a2" stroke-width="0.8"/>
<line x1="70" y1="37.6" x2="72.2" y2="37.6" stroke="#a2a2a2" stroke-width="0.8"/>
<text x="342.5" y="313.6" text-anchor="middle" font-size="7.4" fill="#262626">1.0</text>
<text x="69.4" y="40" text-anchor="end" font-size="7.4" fill="#262626">1.0</text>
<text x="208.3" y="324.3" text-anchor="middle" font-size="10.3" fill="#111" stroke="#111" stroke-width="0.2" textLength="82.5" lengthAdjust="spacingAndGlyphs">False Positive Rate</text>
<text transform="translate(55.9,170.4) rotate(-90)" x="0" y="0" text-anchor="middle" font-size="10.3" fill="#111" stroke="#111" stroke-width="0.2" textLength="80" lengthAdjust="spacingAndGlyphs">True Positive Rate</text>
<rect x="167.8" y="272" width="172.8" height="29.1" rx="1.6" fill="#ffffff" fill-opacity="0.85" stroke="#d6d6d6" stroke-width="0.8"/>
<line x1="171.1" y1="279.3" x2="189.5" y2="279.3" stroke="#4040f0" stroke-width="1.1"/>
<rect x="171.1" y="289.7" width="18.4" height="6.8" fill="#d0d0d0"/>
<text x="196.9" y="282.7" font-size="10.0" fill="#111" stroke="#111" stroke-width="0.15" textLength="140.3" lengthAdjust="spacingAndGlyphs">Mean ROC (AUC = 0.57 ± 0.10)</text>
<text x="196.9" y="296.3" font-size="10.0" fill="#111" stroke="#111" stroke-width="0.15" textLength="57" lengthAdjust="spacingAndGlyphs">± 1 std. dev.</text>
<g><g fill="none" stroke-width="0.9" stroke-opacity="0.05"><path d="M412.4 304.1H433V241.6H453.6V226H474.1V194.7H494.7V179.1H515.3V147.9H535.9V116.6H556.4V101H577V85.4H597.6V54.1H618.2H638.7V38.5H659.3H679.9" stroke="#437394"/>
<path d="M412.4 304.1V215.6H442.1V162.4H471.8V109.3H501.6V56.2H531.3H561H590.7V38.5H620.5H650.2H679.9" stroke="#c88143"/>
<path d="M412.4 304.1H434.7V237.7H457V224.4H479.3V144.7H501.6V131.5H523.9H546.1H568.4V78.3H590.7V65.1H613V51.8H635.3V38.5H657.6H679.9" stroke="#3d7d3d"/>
<path d="M412.4 304.1H427.3V268.7H442.1V233.3H457V180.2H471.8V162.4H486.7V127H501.6H516.4V109.3H531.3H546.1H561V73.9H575.9H590.7H605.6V56.2H620.5V38.5H635.3H650.2H665H679.9" stroke="#a24142"/>
<path d="M412.4 304.1H430.2H448.1V264.3H465.9V251H483.7V211.1H501.6V171.3H519.4V144.7H537.2V131.5H555.1V91.6H572.9H590.7V78.3H608.6V65.1H626.4V51.8H644.2H662.1V38.5H679.9" stroke="#937baa"/>
<path d="M412.4 304.1V190.3H445.8V114.4H479.3V76.4H512.7H546.1H579.6V38.5H613H646.5H679.9" stroke="#7a5c56"/>
<path d="M412.4 304.1V193.4H429.1H445.8V127H462.6V104.9H479.3H496H512.7V60.6H529.4H546.1V38.5H562.9H579.6H596.3H613H629.7H646.5H663.2H679.9" stroke="#ce92bc"/>
<path d="M412.4 304.1V268.7H426.5V233.3H440.6V197.9H454.6H468.7V144.7H482.8H496.9V109.3H511H525H539.1V73.9H553.2H567.3V56.2H581.3H595.4H609.5H623.6V38.5H637.7H651.7H665.8H679.9" stroke="#7f7f7f"/>
<path d="M412.4 304.1V186.1H428.1V97.5H443.9V68H459.6H475.3V38.5H491.1H506.8H522.5H538.3H554H569.8H585.5H601.2H617H632.7H648.4H664.2H679.9" stroke="#a5a650"/>
<path d="M412.4 304.1V255.8H427.3V183.4H442.1V159.2H457H471.8H486.7V86.8H501.6H516.4H531.3V62.6H546.1H561H575.9V38.5H590.7H605.6H620.5H635.3H650.2H665H679.9" stroke="#4ca8b1"/>
<path d="M412.4 304.1H431.5V231.7H450.6V207.5H469.7V183.4H488.8V110.9H507.9V86.8H527H546.1H565.3H584.4V62.6H603.5H622.6V38.5H641.7H660.8H679.9" stroke="#437394"/>
<path d="M412.4 304.1V204.5H429.1V138.1H445.8H462.6V88.3H479.3H496V38.5H512.7H529.4H546.1H562.9H579.6H596.3H613H629.7H646.5H663.2H679.9" stroke="#c88143"/>
<path d="M412.4 304.1V272.9H428.1V241.6H443.9V210.4H459.6V179.1H475.3V147.9H491.1H506.8V101H522.5H538.3V85.4H554H569.8H585.5V69.7H601.2V54.1H617V38.5H632.7H648.4H664.2H679.9" stroke="#3d7d3d"/>
<path d="M412.4 304.1V270.9H429.1V204.5H445.8V171.3H462.6V138.1H479.3V104.9H496H512.7H529.4V71.7H546.1H562.9H579.6H596.3V38.5H613H629.7H646.5H663.2H679.9" stroke="#a24142"/>
<path d="M412.4 304.1V224.4H430.2V171.3H448.1H465.9V118.2H483.7H501.6V65.1H519.4H537.2H555.1H572.9V38.5H590.7H608.6H626.4H644.2H662.1H679.9" stroke="#937baa"/>
<path d="M412.4 304.1V156.5H445.8H479.3V68H512.7H546.1H579.6H613V38.5H646.5H679.9" stroke="#7a5c56"/>
<path d="M412.4 304.1V204.5H442.1H471.8V138.1H501.6V104.9H531.3V71.7H561H590.7V55.1H620.5V38.5H650.2H679.9" stroke="#ce92bc"/>
<path d="M412.4 304.1H436.7H461V237.7H485.4V204.5H509.7V171.3H534V138.1H558.3V104.9H582.6H606.9V71.7H631.3V38.5H655.6H679.9" stroke="#7f7f7f"/>
<path d="M412.4 304.1V231.7H439.1V135.1H465.9H492.6V110.9H519.4V86.8H546.1V62.6H572.9H599.6V38.5H626.4H653.1H679.9" stroke="#a5a650"/>
<path d="M412.4 304.1H429.1V233.3H445.8H462.6V180.2H479.3H496H512.7V144.7H529.4V91.6H546.1H562.9H579.6V73.9H596.3H613V56.2H629.7V38.5H646.5H663.2H679.9" stroke="#4ca8b1"/>
<path d="M412.4 304.1H426.5H440.6H454.6V270.9H468.7V237.7H482.8H496.9V204.5H511V171.3H525H539.1V138.1H553.2V104.9H567.3H581.3H595.4H609.5V71.7H623.6V38.5H637.7H651.7H665.8H679.9" stroke="#437394"/>
<path d="M412.4 304.1V186.1H426.5H440.6V141.8H454.6V97.5H468.7H482.8V82.8H496.9V53.3H511V38.5H525H539.1H553.2H567.3H581.3H595.4H609.5H623.6H637.7H651.7H665.8H679.9" stroke="#c88143"/>
<path d="M412.4 304.1V285.1H428.1V266.2H443.9V209.2H459.6V190.3H475.3V152.3H491.1H506.8H522.5V114.4H538.3H554V95.4H569.8V76.4H585.5V57.5H601.2H617H632.7V38.5H648.4H664.2H679.9" stroke="#3d7d3d"/>
<path d="M412.4 304.1H433V251H453.6V224.4H474.1V171.3H494.7V91.6H515.3H535.9H556.4V65.1H577H597.6H618.2V38.5H638.7H659.3H679.9" stroke="#a24142"/>
<path d="M412.4 304.1V251H442.1V171.3H471.8V118.2H501.6V91.6H531.3V65.1H561H590.7V38.5H620.5H650.2H679.9" stroke="#937baa"/>
<path d="M412.4 304.1V141.8H431.5V127H450.6V82.8H469.7V38.5H488.8H507.9H527H546.1H565.3H584.4H603.5H622.6H641.7H660.8H679.9" stroke="#7a5c56"/>
<path d="M412.4 304.1V141.8H442.1V53.3H471.8V38.5H501.6H531.3H561H590.7H620.5H650.2H679.9" stroke="#ce92bc"/>
<path d="M412.4 304.1V171.3H439.1V127H465.9V38.5H492.6H519.4H546.1H572.9H599.6H626.4H653.1H679.9" stroke="#7f7f7f"/>
<path d="M412.4 304.1V285.1H427.3V228.2H442.1V152.3H457V133.4H471.8H486.7V114.4H501.6H516.4V76.4H531.3H546.1V57.5H561H575.9H590.7H605.6V38.5H620.5H635.3H650.2H665H679.9" stroke="#a5a650"/>
<path d="M412.4 304.1H434.7V288.5H457V226H479.3H501.6V179.1H523.9H546.1V116.6H568.4V101H590.7V85.4H613V54.1H635.3H657.6V38.5H679.9" stroke="#4ca8b1"/>
<path d="M412.4 304.1V215.6H434.7V144.7H457V56.2H479.3V38.5H501.6H523.9H546.1H568.4H590.7H613H635.3H657.6H679.9" stroke="#437394"/>
<path d="M412.4 304.1V247.2H433V152.3H453.6H474.1V95.4H494.7H515.3H535.9V76.4H556.4V57.5H577H597.6V38.5H618.2H638.7H659.3H679.9" stroke="#c88143"/>
<path d="M412.4 304.1V226H427.3H442.1V132.2H457H471.8V85.4H486.7H501.6H516.4V69.7H531.3V54.1H546.1H561H575.9H590.7V38.5H605.6H620.5H635.3H650.2H665H679.9" stroke="#3d7d3d"/>
<path d="M412.4 304.1V228.2H427.3V171.3H442.1V133.4H457V114.4H471.8H486.7V76.4H501.6V57.5H516.4H531.3V38.5H546.1H561H575.9H590.7H605.6H620.5H635.3H650.2H665H679.9" stroke="#a24142"/>
<path d="M412.4 304.1V237.7H445.8V149.2H479.3V82.8H512.7V60.6H546.1V38.5H579.6H613H646.5H679.9" stroke="#937baa"/>
<path d="M412.4 304.1V257.2H428.1V226H443.9V163.5H459.6H475.3V147.9H491.1V132.2H506.8V116.6H522.5H538.3V69.7H554V54.1H569.8H585.5H601.2H617V38.5H632.7H648.4H664.2H679.9" stroke="#7a5c56"/>
<path d="M412.4 304.1V197.9H428.1V180.2H443.9H459.6V144.7H475.3V127H491.1V109.3H506.8V73.9H522.5V56.2H538.3H554H569.8H585.5H601.2V38.5H617H632.7H648.4H664.2H679.9" stroke="#ce92bc"/>
<path d="M412.4 304.1V209.2H433V152.3H453.6V114.4H474.1V76.4H494.7V38.5H515.3H535.9H556.4H577H597.6H618.2H638.7H659.3H679.9" stroke="#7f7f7f"/>
<path d="M412.4 304.1V127H427.3V68H442.1V38.5H457H471.8H486.7H501.6H516.4H531.3H546.1H561H575.9H590.7H605.6H620.5H635.3H650.2H665H679.9" stroke="#a5a650"/>
<path d="M412.4 304.1V282H426.5V237.7H440.6V215.6H454.6V171.3H468.7H482.8V149.2H496.9V104.9H511H525V82.8H539.1H553.2V60.6H567.3H581.3H595.4H609.5H623.6H637.7V38.5H651.7H665.8H679.9" stroke="#4ca8b1"/>
<path d="M412.4 304.1V144.7H442.1V65.1H471.8H501.6V38.5H531.3H561H590.7H620.5H650.2H679.9" stroke="#437394"/>
<path d="M412.4 304.1H429.1H445.8V274.6H462.6V245.1H479.3H496V186.1H512.7V156.5H529.4V97.5H546.1H562.9H579.6H596.3V68H613H629.7V38.5H646.5H663.2H679.9" stroke="#c88143"/>
<path d="M412.4 304.1V190.3H445.8V95.4H479.3V57.5H512.7V38.5H546.1H579.6H613H646.5H679.9" stroke="#3d7d3d"/>
<path d="M412.4 304.1V197.9H430.2V91.6H448.1H465.9H483.7V38.5H501.6H519.4H537.2H555.1H572.9H590.7H608.6H626.4H644.2H662.1H679.9" stroke="#a24142"/>
<path d="M412.4 304.1V224.4H431.5V197.9H450.6V144.7H469.7H488.8V118.2H507.9V91.6H527H546.1V65.1H565.3H584.4H603.5H622.6V38.5H641.7H660.8H679.9" stroke="#937baa"/>
<path d="M412.4 304.1H427.3H442.1V231.7H457H471.8H486.7V183.4H501.6V159.2H516.4V135.1H531.3H546.1H561V86.8H575.9H590.7H605.6V62.6H620.5H635.3V38.5H650.2H665H679.9" stroke="#7a5c56"/>
<path d="M412.4 304.1V136.4H442.1V108.4H471.8V94.4H501.6V38.5H531.3H561H590.7H620.5H650.2H679.9" stroke="#ce92bc"/>
<path d="M412.4 304.1V254.3H427.3V187.9H442.1V171.3H457V138.1H471.8H486.7V104.9H501.6H516.4H531.3V71.7H546.1H561H575.9V55.1H590.7H605.6H620.5V38.5H635.3H650.2H665H679.9" stroke="#7f7f7f"/>
<path d="M412.4 304.1V215.6H428.1V156.5H443.9V127H459.6V97.5H475.3H491.1V38.5H506.8H522.5H538.3H554H569.8H585.5H601.2H617H632.7H648.4H664.2H679.9" stroke="#a5a650"/>
<path d="M412.4 304.1V254.3H431.5V204.5H450.6H469.7V138.1H488.8V121.5H507.9H527V88.3H546.1H565.3V55.1H584.4H603.5V38.5H622.6H641.7H660.8H679.9" stroke="#4ca8b1"/>
<path d="M412.4 304.1V215.6H430.2V171.3H448.1H465.9V127H483.7V60.6H501.6H519.4H537.2H555.1H572.9H590.7V38.5H608.6H626.4H644.2H662.1H679.9" stroke="#437394"/>
<path d="M412.4 304.1V171.3H431.5V104.9H450.6V71.7H469.7H488.8V38.5H507.9H527H546.1H565.3H584.4H603.5H622.6H641.7H660.8H679.9" stroke="#c88143"/>
<path d="M412.4 304.1V245.1H430.2V215.6H448.1V127H465.9V97.5H483.7H501.6H519.4H537.2V68H555.1H572.9V38.5H590.7H608.6H626.4H644.2H662.1H679.9" stroke="#3d7d3d"/>
<path d="M412.4 304.1V215.6H428.1V162.4H443.9V127H459.6H475.3V73.9H491.1H506.8H522.5H538.3V56.2H554H569.8H585.5H601.2V38.5H617H632.7H648.4H664.2H679.9" stroke="#a24142"/>
<path d="M412.4 304.1V245.1H429.1V186.1H445.8V156.5H462.6V127H479.3V68H496H512.7H529.4H546.1H562.9V38.5H579.6H596.3H613H629.7H646.5H663.2H679.9" stroke="#937baa"/>
<path d="M412.4 304.1V201.9H433V120.2H453.6V99.8H474.1V58.9H494.7H515.3V38.5H535.9H556.4H577H597.6H618.2H638.7H659.3H679.9" stroke="#7a5c56"/>
<path d="M412.4 304.1V251H430.2H448.1V224.4H465.9V144.7H483.7H501.6V118.2H519.4V91.6H537.2H555.1V65.1H572.9H590.7H608.6H626.4V38.5H644.2H662.1H679.9" stroke="#ce92bc"/>
<path d="M412.4 304.1V263.2H439.1V222.4H465.9V181.5H492.6V161.1H519.4V99.8H546.1H572.9V79.4H599.6V58.9H626.4V38.5H653.1H679.9" stroke="#7f7f7f"/>
<path d="M412.4 304.1V230.3H430.2V171.3H448.1V156.5H465.9V127H483.7V82.8H501.6H519.4V53.3H537.2H555.1H572.9H590.7V38.5H608.6H626.4H644.2H662.1H679.9" stroke="#a5a650"/>
<path d="M412.4 304.1V237.7H433V149.2H453.6V127H474.1V104.9H494.7V82.8H515.3V60.6H535.9H556.4H577H597.6H618.2V38.5H638.7H659.3H679.9" stroke="#4ca8b1"/>
<path d="M412.4 304.1V221.1H439.1V171.3H465.9V154.7H492.6V104.9H519.4V38.5H546.1H572.9H599.6H626.4H653.1H679.9" stroke="#437394"/>
<path d="M412.4 304.1V264.3H433V184.6H453.6V118.2H474.1H494.7V65.1H515.3H535.9H556.4V38.5H577H597.6H618.2H638.7H659.3H679.9" stroke="#c88143"/>
<path d="M412.4 304.1V247.2H425.8V190.3H439.1V152.3H452.5H465.9V133.4H479.3V95.4H492.6V76.4H506H519.4V57.5H532.8V38.5H546.1H559.5H572.9H586.3H599.6H613H626.4H639.8H653.1H666.5H679.9" stroke="#3d7d3d"/>
<path d="M412.4 304.1V233.3H436.7V180.2H461V127H485.4V109.3H509.7V56.2H534H558.3V38.5H582.6H606.9H631.3H655.6H679.9" stroke="#a24142"/>
<path d="M412.4 304.1H433V237.7H453.6V171.3H474.1H494.7V118.2H515.3V104.9H535.9H556.4H577V78.3H597.6V65.1H618.2V51.8H638.7V38.5H659.3H679.9" stroke="#937baa"/>
<path d="M412.4 304.1V282H431.5V215.6H450.6V171.3H469.7V127H488.8V104.9H507.9H527V82.8H546.1H565.3V60.6H584.4V38.5H603.5H622.6H641.7H660.8H679.9" stroke="#7a5c56"/>
<path d="M412.4 304.1V220.2H431.5V178.3H450.6V136.4H469.7V122.4H488.8V38.5H507.9H527H546.1H565.3H584.4H603.5H622.6H641.7H660.8H679.9" stroke="#ce92bc"/>
<path d="M412.4 304.1V286.4H427.3V233.3H442.1H457V197.9H471.8H486.7V144.7H501.6V127H516.4V109.3H531.3H546.1V91.6H561H575.9H590.7V73.9H605.6V56.2H620.5H635.3V38.5H650.2H665H679.9" stroke="#7f7f7f"/>
<path d="M412.4 304.1V263.2H425.8V242.8H439.1V201.9H452.5V161.1H465.9H479.3H492.6V120.2H506V99.8H519.4H532.8H546.1V79.4H559.5H572.9H586.3V58.9H599.6H613H626.4V38.5H639.8H653.1H666.5H679.9" stroke="#a5a650"/>
<path d="M412.4 304.1H436.7H461V245.1H485.4V171.3H509.7H534V141.8H558.3V112.3H582.6V82.8H606.9V68H631.3V53.3H655.6V38.5H679.9" stroke="#4ca8b1"/>
<path d="M412.4 304.1V181.5H439.1V79.4H465.9V58.9H492.6V38.5H519.4H546.1H572.9H599.6H626.4H653.1H679.9" stroke="#437394"/>
<path d="M412.4 304.1V158H436.7V144.7H461V78.3H485.4V51.8H509.7H534V38.5H558.3H582.6H606.9H631.3H655.6H679.9" stroke="#c88143"/>
<path d="M412.4 304.1V224.4H445.8V184.6H479.3V118.2H512.7V91.6H546.1V78.3H579.6V65.1H613V51.8H646.5V38.5H679.9" stroke="#3d7d3d"/>
<path d="M412.4 304.1V215.6H436.7V186.1H461V127H485.4V97.5H509.7V68H534V38.5H558.3H582.6H606.9H631.3H655.6H679.9" stroke="#a24142"/>
<path d="M412.4 304.1V234.2H434.7V178.3H457V108.4H479.3H501.6V80.4H523.9V66.5H546.1H568.4V38.5H590.7H613H635.3H657.6H679.9" stroke="#937baa"/>
<path d="M412.4 304.1V245.1H425.8V215.6H439.1H452.5V186.1H465.9V127H479.3H492.6H506V68H519.4H532.8H546.1H559.5H572.9H586.3V38.5H599.6H613H626.4H639.8H653.1H666.5H679.9" stroke="#7a5c56"/>
<path d="M412.4 304.1V204.5H436.7V171.3H461V138.1H485.4V71.7H509.7H534H558.3H582.6V38.5H606.9H631.3H655.6H679.9" stroke="#ce92bc"/>
<path d="M412.4 304.1H426.5V259.8H440.6V215.6H454.6V200.8H468.7H482.8V186.1H496.9V141.8H511V127H525V112.3H539.1V97.5H553.2H567.3H581.3V68H595.4V53.3H609.5H623.6H637.7H651.7V38.5H665.8H679.9" stroke="#7f7f7f"/>
<path d="M412.4 304.1V290.8H442.1V237.7H471.8V171.3H501.6V158H531.3V118.2H561V104.9H590.7V65.1H620.5V51.8H650.2V38.5H679.9" stroke="#a5a650"/>
<path d="M412.4 304.1V233.3H425.8H439.1V162.4H452.5H465.9V127H479.3V109.3H492.6H506V91.6H519.4H532.8H546.1V73.9H559.5H572.9V56.2H586.3V38.5H599.6H613H626.4H639.8H653.1H666.5H679.9" stroke="#4ca8b1"/>
<path d="M412.4 304.1V138.1H445.8V38.5H479.3H512.7H546.1H579.6H613H646.5H679.9" stroke="#437394"/>
<path d="M412.4 304.1V251H425.8V184.6H439.1H452.5V158H465.9V144.7H479.3V131.5H492.6V104.9H506V91.6H519.4H532.8H546.1V51.8H559.5V38.5H572.9H586.3H599.6H613H626.4H639.8H653.1H666.5H679.9" stroke="#c88143"/>
<path d="M412.4 304.1V201.9H425.8V140.7H439.1V120.2H452.5V38.5H465.9H479.3H492.6H506H519.4H532.8H546.1H559.5H572.9H586.3H599.6H613H626.4H639.8H653.1H666.5H679.9" stroke="#3d7d3d"/>
<path d="M412.4 304.1H433V237.7H453.6H474.1V171.3H494.7V149.2H515.3V127H535.9V104.9H556.4V82.8H577V60.6H597.6H618.2V38.5H638.7H659.3H679.9" stroke="#a24142"/>
<path d="M412.4 304.1V248.2H439.1V150.3H465.9H492.6V136.4H519.4V80.4H546.1H572.9V66.5H599.6V52.5H626.4V38.5H653.1H679.9" stroke="#937baa"/>
<path d="M412.4 304.1V201.9H425.8V181.5H439.1V99.8H452.5V58.9H465.9H479.3H492.6H506V38.5H519.4H532.8H546.1H559.5H572.9H586.3H599.6H613H626.4H639.8H653.1H666.5H679.9" stroke="#7a5c56"/>
<path d="M412.4 304.1V245.1H430.2V156.5H448.1V127H465.9H483.7H501.6V38.5H519.4H537.2H555.1H572.9H590.7H608.6H626.4H644.2H662.1H679.9" stroke="#ce92bc"/>
<path d="M412.4 304.1V287.5H442.1V237.7H471.8V204.5H501.6V171.3H531.3V121.5H561V104.9H590.7V71.7H620.5V55.1H650.2V38.5H679.9" stroke="#7f7f7f"/>
<path d="M412.4 304.1V226H445.8V194.7H479.3V147.9H512.7V101H546.1V85.4H579.6V69.7H613V38.5H646.5H679.9" stroke="#a5a650"/>
<path d="M412.4 304.1V264.3H426.5V237.7H440.6V184.6H454.6H468.7V171.3H482.8V131.5H496.9V118.2H511V104.9H525V91.6H539.1H553.2H567.3V65.1H581.3H595.4V51.8H609.5H623.6H637.7V38.5H651.7H665.8H679.9" stroke="#4ca8b1"/>
<path d="M412.4 304.1V237.7H427.3V171.3H442.1V138.1H457H471.8V104.9H486.7H501.6V71.7H516.4H531.3H546.1H561V38.5H575.9H590.7H605.6H620.5H635.3H650.2H665H679.9" stroke="#437394"/>
<path d="M412.4 304.1V259.8H436.7V193.4H461H485.4V127H509.7H534V104.9H558.3V82.8H582.6V60.6H606.9V38.5H631.3H655.6H679.9" stroke="#c88143"/>
<path d="M412.4 304.1V241.6H439.1V179.1H465.9V116.6H492.6V101H519.4V85.4H546.1V54.1H572.9H599.6V38.5H626.4H653.1H679.9" stroke="#3d7d3d"/>
<path d="M412.4 304.1V215.6H442.1V91.6H471.8V73.9H501.6V56.2H531.3H561V38.5H590.7H620.5H650.2H679.9" stroke="#a24142"/>
<path d="M412.4 304.1V228.2H433V133.4H453.6V114.4H474.1H494.7V95.4H515.3V76.4H535.9V57.5H556.4V38.5H577H597.6H618.2H638.7H659.3H679.9" stroke="#937baa"/>
<path d="M412.4 304.1V251H429.1V233.3H445.8V180.2H462.6V144.7H479.3H496V109.3H512.7H529.4V73.9H546.1V56.2H562.9H579.6V38.5H596.3H613H629.7H646.5H663.2H679.9" stroke="#7a5c56"/>
<path d="M412.4 304.1V234.2H430.2V220.2H448.1V192.3H465.9V136.4H483.7V108.4H501.6H519.4V66.5H537.2H555.1H572.9V38.5H590.7H608.6H626.4H644.2H662.1H679.9" stroke="#ce92bc"/>
<path d="M412.4 304.1H429.1V270.9H445.8V254.3H462.6V237.7H479.3V204.5H496V154.7H512.7V138.1H529.4V121.5H546.1H562.9V88.3H579.6H596.3V71.7H613V55.1H629.7V38.5H646.5H663.2H679.9" stroke="#7f7f7f"/>
<path d="M412.4 304.1V288.5H428.1V241.6H443.9V194.7H459.6V163.5H475.3H491.1V116.6H506.8H522.5V101H538.3V85.4H554V69.7H569.8H585.5H601.2H617V54.1H632.7V38.5H648.4H664.2H679.9" stroke="#a5a650"/>
<path d="M412.4 304.1V237.7H431.5V204.5H450.6V138.1H469.7V71.7H488.8H507.9H527H546.1V38.5H565.3H584.4H603.5H622.6H641.7H660.8H679.9" stroke="#4ca8b1"/>
<path d="M412.4 304.1V144.7H439.1V91.6H465.9H492.6V65.1H519.4V51.8H546.1V38.5H572.9H599.6H626.4H653.1H679.9" stroke="#437394"/>
<path d="M412.4 304.1V156.5H436.7H461V68H485.4H509.7V53.3H534H558.3H582.6V38.5H606.9H631.3H655.6H679.9" stroke="#c88143"/>
<path d="M412.4 304.1H430.2V237.7H448.1V204.5H465.9H483.7V171.3H501.6V138.1H519.4V104.9H537.2V71.7H555.1H572.9H590.7H608.6V38.5H626.4H644.2H662.1H679.9" stroke="#3d7d3d"/>
<path d="M412.4 304.1V251H426.5H440.6H454.6V171.3H468.7H482.8V118.2H496.9H511H525V65.1H539.1H553.2H567.3H581.3V38.5H595.4H609.5H623.6H637.7H651.7H665.8H679.9" stroke="#a24142"/>
<path d="M412.4 304.1V171.3H428.1H443.9V38.5H459.6H475.3H491.1H506.8H522.5H538.3H554H569.8H585.5H601.2H617H632.7H648.4H664.2H679.9" stroke="#937baa"/>
<path d="M412.4 304.1V282H428.1H443.9H459.6V215.6H475.3H491.1V171.3H506.8H522.5V127H538.3V82.8H554H569.8H585.5H601.2V60.6H617H632.7H648.4V38.5H664.2H679.9" stroke="#7a5c56"/>
<path d="M412.4 304.1V280H429.1H445.8V159.2H462.6V135.1H479.3H496V110.9H512.7V62.6H529.4H546.1H562.9V38.5H579.6H596.3H613H629.7H646.5H663.2H679.9" stroke="#ce92bc"/>
<path d="M412.4 304.1V178.3H439.1V94.4H465.9H492.6V66.5H519.4V38.5H546.1H572.9H599.6H626.4H653.1H679.9" stroke="#7f7f7f"/>
<path d="M412.4 304.1V234.2H442.1V150.3H471.8V94.4H501.6H531.3V66.5H561H590.7V52.5H620.5V38.5H650.2H679.9" stroke="#a5a650"/>
<path d="M412.4 304.1V224.4H436.7V197.9H461V144.7H485.4H509.7V91.6H534H558.3V38.5H582.6H606.9H631.3H655.6H679.9" stroke="#4ca8b1"/>
<path d="M412.4 304.1V268.7H425.8V233.3H439.1V215.6H452.5V162.4H465.9H479.3V127H492.6H506H519.4V109.3H532.8V91.6H546.1H559.5V73.9H572.9H586.3H599.6V56.2H613V38.5H626.4H639.8H653.1H666.5H679.9" stroke="#437394"/>
<path d="M412.4 304.1H433V215.6H453.6V186.1H474.1H494.7V127H515.3V97.5H535.9H556.4V68H577H597.6H618.2V38.5H638.7H659.3H679.9" stroke="#c88143"/>
<path d="M412.4 304.1V237.7H427.3V184.6H442.1H457V144.7H471.8H486.7V104.9H501.6V91.6H516.4H531.3V78.3H546.1H561V51.8H575.9V38.5H590.7H605.6H620.5H635.3H650.2H665H679.9" stroke="#3d7d3d"/>
<path d="M412.4 304.1V274.6H427.3H442.1V245.1H457V215.6H471.8V156.5H486.7V127H501.6H516.4H531.3V97.5H546.1H561V68H575.9H590.7H605.6H620.5V38.5H635.3H650.2H665H679.9" stroke="#a24142"/>
<path d="M412.4 304.1V231.7H442.1H471.8V135.1H501.6V110.9H531.3H561V62.6H590.7H620.5V38.5H650.2H679.9" stroke="#937baa"/>
<path d="M412.4 304.1V215.6H429.1V149.2H445.8V127H462.6V60.6H479.3V38.5H496H512.7H529.4H546.1H562.9H579.6H596.3H613H629.7H646.5H663.2H679.9" stroke="#7a5c56"/>
<path d="M412.4 304.1V211.1H442.1V144.7H471.8V118.2H501.6V51.8H531.3V38.5H561H590.7H620.5H650.2H679.9" stroke="#ce92bc"/>
<path d="M412.4 304.1V197.9H445.8V184.6H479.3V104.9H512.7V78.3H546.1V51.8H579.6H613V38.5H646.5H679.9" stroke="#7f7f7f"/>
<path d="M412.4 304.1V204.5H430.2V138.1H448.1H465.9V71.7H483.7H501.6H519.4V38.5H537.2H555.1H572.9H590.7H608.6H626.4H644.2H662.1H679.9" stroke="#a5a650"/>
<path d="M412.4 304.1H426.5V274.6H440.6H454.6V245.1H468.7H482.8H496.9V186.1H511H525V127H539.1H553.2H567.3H581.3V97.5H595.4V68H609.5H623.6H637.7V38.5H651.7H665.8H679.9" stroke="#4ca8b1"/>
<path d="M412.4 304.1V207.5H430.2V135.1H448.1V110.9H465.9H483.7V86.8H501.6V62.6H519.4H537.2V38.5H555.1H572.9H590.7H608.6H626.4H644.2H662.1H679.9" stroke="#437394"/>
<path d="M412.4 304.1H442.1H471.8V274.6H501.6V215.6H531.3V171.3H561V141.8H590.7V97.5H620.5V53.3H650.2V38.5H679.9" stroke="#c88143"/>
<path d="M412.4 304.1H439.1V251H465.9V197.9H492.6V144.7H519.4H546.1V118.2H572.9V65.1H599.6H626.4V38.5H653.1H679.9" stroke="#3d7d3d"/>
<path d="M412.4 304.1H428.1V255.8H443.9V231.7H459.6H475.3V135.1H491.1H506.8H522.5H538.3V110.9H554V86.8H569.8V62.6H585.5H601.2H617H632.7V38.5H648.4H664.2H679.9" stroke="#a24142"/>
<path d="M412.4 304.1V197.9H445.8V144.7H479.3V91.6H512.7V65.1H546.1H579.6V38.5H613H646.5H679.9" stroke="#937baa"/>
<path d="M412.4 304.1H428.1H443.9H459.6V277.5H475.3V264.3H491.1V224.4H506.8V197.9H522.5V131.5H538.3H554V118.2H569.8V104.9H585.5H601.2V78.3H617V65.1H632.7V51.8H648.4H664.2V38.5H679.9" stroke="#7a5c56"/>
<path d="M412.4 304.1V197.9H425.8V180.2H439.1V127H452.5V73.9H465.9H479.3H492.6V56.2H506H519.4H532.8H546.1V38.5H559.5H572.9H586.3H599.6H613H626.4H639.8H653.1H666.5H679.9" stroke="#ce92bc"/>
<path d="M412.4 304.1V262.2H427.3V248.2H442.1V220.2H457V164.3H471.8V136.4H486.7H501.6V94.4H516.4H531.3H546.1V66.5H561H575.9H590.7V52.5H605.6H620.5V38.5H635.3H650.2H665H679.9" stroke="#7f7f7f"/>
<path d="M412.4 304.1V171.3H426.5V138.1H440.6V38.5H454.6H468.7H482.8H496.9H511H525H539.1H553.2H567.3H581.3H595.4H609.5H623.6H637.7H651.7H665.8H679.9" stroke="#a5a650"/>
<path d="M412.4 304.1V237.7H431.5H450.6V138.1H469.7V121.5H488.8V88.3H507.9H527H546.1V55.1H565.3V38.5H584.4H603.5H622.6H641.7H660.8H679.9" stroke="#4ca8b1"/>
<path d="M412.4 304.1V274.6H436.7V215.6H461V127H485.4H509.7H534V97.5H558.3V68H582.6H606.9H631.3V38.5H655.6H679.9" stroke="#437394"/>
<path d="M412.4 304.1V159.2H436.7H461V110.9H485.4V86.8H509.7V62.6H534H558.3V38.5H582.6H606.9H631.3H655.6H679.9" stroke="#c88143"/>
<path d="M412.4 304.1H434.7V215.6H457H479.3V171.3H501.6V149.2H523.9V127H546.1V104.9H568.4V82.8H590.7V60.6H613H635.3V38.5H657.6H679.9" stroke="#3d7d3d"/>
<path d="M412.4 304.1V118.2H425.8V78.3H439.1V38.5H452.5H465.9H479.3H492.6H506H519.4H532.8H546.1H559.5H572.9H586.3H599.6H613H626.4H639.8H653.1H666.5H679.9" stroke="#a24142"/>
<path d="M412.4 304.1V285.1H433V247.2H453.6V171.3H474.1V152.3H494.7V133.4H515.3V114.4H535.9V76.4H556.4H577V57.5H597.6V38.5H618.2H638.7H659.3H679.9" stroke="#937baa"/>
<path d="M412.4 304.1H431.5V224.4H450.6V197.9H469.7V171.3H488.8V144.7H507.9V118.2H527V91.6H546.1H565.3V65.1H584.4H603.5V38.5H622.6H641.7H660.8H679.9" stroke="#7a5c56"/>
<path d="M412.4 304.1V242.8H427.3V201.9H442.1V140.7H457H471.8V120.2H486.7V99.8H501.6H516.4V79.4H531.3H546.1V58.9H561H575.9V38.5H590.7H605.6H620.5H635.3H650.2H665H679.9" stroke="#ce92bc"/>
<path d="M412.4 304.1V237.7H427.3H442.1V171.3H457V82.8H471.8H486.7H501.6H516.4V60.6H531.3H546.1H561V38.5H575.9H590.7H605.6H620.5H635.3H650.2H665H679.9" stroke="#7f7f7f"/>
<path d="M412.4 304.1H434.7V251H457H479.3V144.7H501.6H523.9V118.2H546.1V91.6H568.4H590.7V65.1H613V38.5H635.3H657.6H679.9" stroke="#a5a650"/>
<path d="M412.4 304.1V163.5H445.8V116.6H479.3V69.7H512.7V38.5H546.1H579.6H613H646.5H679.9" stroke="#4ca8b1"/>
<path d="M412.4 304.1V186.1H436.7V97.5H461V68H485.4V38.5H509.7H534H558.3H582.6H606.9H631.3H655.6H679.9" stroke="#437394"/>
<path d="M412.4 304.1V234.2H429.1V150.3H445.8H462.6V122.4H479.3H496V108.4H512.7V80.4H529.4V66.5H546.1V38.5H562.9H579.6H596.3H613H629.7H646.5H663.2H679.9" stroke="#c88143"/>
<path d="M412.4 304.1V264.3H425.8V224.4H439.1V158H452.5H465.9H479.3V118.2H492.6H506V104.9H519.4V91.6H532.8V78.3H546.1H559.5H572.9V65.1H586.3V51.8H599.6H613H626.4H639.8V38.5H653.1H666.5H679.9" stroke="#3d7d3d"/>
<path d="M412.4 304.1V266.2H428.1V247.2H443.9V209.2H459.6V190.3H475.3V171.3H491.1V152.3H506.8V114.4H522.5H538.3V95.4H554V76.4H569.8H585.5H601.2V57.5H617H632.7H648.4V38.5H664.2H679.9" stroke="#a24142"/>
<path d="M412.4 304.1H426.5V259.8H440.6H454.6V230.3H468.7V186.1H482.8V171.3H496.9V156.5H511H525V112.3H539.1H553.2V97.5H567.3H581.3V82.8H595.4V68H609.5V53.3H623.6H637.7V38.5H651.7H665.8H679.9" stroke="#937baa"/>
<path d="M412.4 304.1V251H427.3V184.6H442.1V171.3H457V158H471.8H486.7V104.9H501.6H516.4V91.6H531.3H546.1V65.1H561V51.8H575.9H590.7H605.6V38.5H620.5H635.3H650.2H665H679.9" stroke="#7a5c56"/>
<path d="M412.4 304.1V171.3H436.7V138.1H461V104.9H485.4V71.7H509.7H534V38.5H558.3H582.6H606.9H631.3H655.6H679.9" stroke="#ce92bc"/>
<path d="M412.4 304.1V280H445.8V207.5H479.3V110.9H512.7H546.1V86.8H579.6V62.6H613V38.5H646.5H679.9" stroke="#7f7f7f"/>
<path d="M412.4 304.1V221.1H431.5V171.3H450.6V88.3H469.7V71.7H488.8H507.9V38.5H527H546.1H565.3H584.4H603.5H622.6H641.7H660.8H679.9" stroke="#a5a650"/>
<path d="M412.4 304.1V257.2H436.7V179.1H461V163.5H485.4V116.6H509.7V101H534V69.7H558.3H582.6V54.1H606.9V38.5H631.3H655.6H679.9" stroke="#4ca8b1"/>
<path d="M412.4 304.1V200.8H426.5V186.1H440.6V141.8H454.6V127H468.7V112.3H482.8V82.8H496.9H511V68H525V38.5H539.1H553.2H567.3H581.3H595.4H609.5H623.6H637.7H651.7H665.8H679.9" stroke="#437394"/>
<path d="M412.4 304.1H445.8V259.8H479.3V215.6H512.7V171.3H546.1V127H579.6V82.8H613V60.6H646.5V38.5H679.9" stroke="#c88143"/>
<path d="M412.4 304.1V268.7H431.5V215.6H450.6V144.7H469.7V127H488.8V73.9H507.9H527V56.2H546.1H565.3V38.5H584.4H603.5H622.6H641.7H660.8H679.9" stroke="#3d7d3d"/>
<path d="M412.4 304.1V194.7H434.7V163.5H457V116.6H479.3V101H501.6V69.7H523.9H546.1V54.1H568.4V38.5H590.7H613H635.3H657.6H679.9" stroke="#a24142"/>
<path d="M412.4 304.1V290.8H442.1V224.4H471.8V131.5H501.6H531.3V104.9H561V51.8H590.7H620.5H650.2V38.5H679.9" stroke="#937baa"/>
<path d="M412.4 304.1H429.1H445.8V274.6H462.6V245.1H479.3V215.6H496V156.5H512.7H529.4V127H546.1H562.9H579.6V97.5H596.3H613V68H629.7V38.5H646.5H663.2H679.9" stroke="#7a5c56"/>
<path d="M412.4 304.1V194.7H426.5V163.5H440.6V85.4H454.6H468.7H482.8H496.9V54.1H511V38.5H525H539.1H553.2H567.3H581.3H595.4H609.5H623.6H637.7H651.7H665.8H679.9" stroke="#ce92bc"/>
<path d="M412.4 304.1V121.5H434.7V55.1H457H479.3V38.5H501.6H523.9H546.1H568.4H590.7H613H635.3H657.6H679.9" stroke="#7f7f7f"/>
<path d="M412.4 304.1V220.2H439.1V206.2H465.9V150.3H492.6V94.4H519.4H546.1V80.4H572.9V52.5H599.6H626.4V38.5H653.1H679.9" stroke="#a5a650"/>
<path d="M412.4 304.1V255.8H431.5V231.7H450.6V159.2H469.7H488.8V110.9H507.9V86.8H527H546.1H565.3V62.6H584.4H603.5H622.6V38.5H641.7H660.8H679.9" stroke="#4ca8b1"/>
<path d="M412.4 304.1V231.7H427.3V159.2H442.1H457V135.1H471.8H486.7V86.8H501.6H516.4V62.6H531.3H546.1H561H575.9V38.5H590.7H605.6H620.5H635.3H650.2H665H679.9" stroke="#437394"/>
<path d="M412.4 304.1V224.4H439.1V144.7H465.9V118.2H492.6V91.6H519.4V65.1H546.1V38.5H572.9H599.6H626.4H653.1H679.9" stroke="#c88143"/>
<path d="M412.4 304.1V245.1H431.5V186.1H450.6H469.7V127H488.8V112.3H507.9H527V68H546.1H565.3V53.3H584.4H603.5V38.5H622.6H641.7H660.8H679.9" stroke="#3d7d3d"/>
<path d="M412.4 304.1V264.3H428.1V197.9H443.9V171.3H459.6V104.9H475.3V78.3H491.1H506.8H522.5H538.3V65.1H554H569.8V51.8H585.5H601.2V38.5H617H632.7H648.4H664.2H679.9" stroke="#a24142"/>
<path d="M412.4 304.1V287.5H433V237.7H453.6V204.5H474.1V171.3H494.7H515.3V138.1H535.9V104.9H556.4V88.3H577H597.6V55.1H618.2H638.7V38.5H659.3H679.9" stroke="#937baa"/>
<path d="M412.4 304.1H425.8V277.5H439.1V224.4H452.5V171.3H465.9H479.3H492.6V144.7H506V118.2H519.4V91.6H532.8H546.1H559.5H572.9H586.3V65.1H599.6H613H626.4V38.5H639.8H653.1H666.5H679.9" stroke="#7a5c56"/>
<path d="M412.4 304.1V231.7H439.1V159.2H465.9V135.1H492.6V110.9H519.4V62.6H546.1H572.9H599.6V38.5H626.4H653.1H679.9" stroke="#ce92bc"/>
<path d="M412.4 304.1V263.2H445.8V161.1H479.3V140.7H512.7V58.9H546.1H579.6H613V38.5H646.5H679.9" stroke="#7f7f7f"/>
<path d="M412.4 304.1V228.2H427.3V209.2H442.1V171.3H457V133.4H471.8V95.4H486.7H501.6V76.4H516.4H531.3V57.5H546.1V38.5H561H575.9H590.7H605.6H620.5H635.3H650.2H665H679.9" stroke="#a5a650"/>
<path d="M412.4 304.1H430.2V237.7H448.1V204.5H465.9V171.3H483.7V138.1H501.6H519.4V104.9H537.2H555.1V71.7H572.9H590.7V38.5H608.6H626.4H644.2H662.1H679.9" stroke="#4ca8b1"/>
<path d="M412.4 304.1H428.1H443.9V251H459.6V224.4H475.3V197.9H491.1V171.3H506.8H522.5V144.7H538.3H554V91.6H569.8H585.5H601.2H617V65.1H632.7V38.5H648.4H664.2H679.9" stroke="#437394"/>
<path d="M412.4 304.1H425.8H439.1H452.5V241.6H465.9H479.3V194.7H492.6V163.5H506H519.4V132.2H532.8H546.1H559.5V116.6H572.9V101H586.3V69.7H599.6H613H626.4V54.1H639.8H653.1V38.5H666.5H679.9" stroke="#c88143"/>
<path d="M412.4 304.1V178.3H442.1V136.4H471.8V66.5H501.6H531.3V52.5H561V38.5H590.7H620.5H650.2H679.9" stroke="#3d7d3d"/>
<path d="M412.4 304.1H436.7H461V215.6H485.4V186.1H509.7H534V156.5H558.3V127H582.6V97.5H606.9V68H631.3V38.5H655.6H679.9" stroke="#a24142"/>
<path d="M412.4 304.1V263.2H439.1V181.5H465.9V140.7H492.6V99.8H519.4H546.1V58.9H572.9H599.6H626.4V38.5H653.1H679.9" stroke="#937baa"/>
<path d="M412.4 304.1H426.5V280H440.6H454.6H468.7V231.7H482.8V183.4H496.9H511V159.2H525V135.1H539.1V110.9H553.2H567.3V86.8H581.3H595.4H609.5V62.6H623.6H637.7H651.7V38.5H665.8H679.9" stroke="#7a5c56"/>
<path d="M412.4 304.1V186.1H445.8V141.8H479.3V82.8H512.7V68H546.1V53.3H579.6V38.5H613H646.5H679.9" stroke="#ce92bc"/>
<path d="M412.4 304.1V206.2H439.1V178.3H465.9V122.4H492.6V80.4H519.4H546.1V66.5H572.9V52.5H599.6V38.5H626.4H653.1H679.9" stroke="#7f7f7f"/>
<path d="M412.4 304.1V274.6H442.1V156.5H471.8H501.6V127H531.3V97.5H561V68H590.7H620.5V38.5H650.2H679.9" stroke="#a5a650"/>
<path d="M412.4 304.1V237.7H430.2V138.1H448.1H465.9V104.9H483.7V71.7H501.6V38.5H519.4H537.2H555.1H572.9H590.7H608.6H626.4H644.2H662.1H679.9" stroke="#4ca8b1"/></g></g>
<polygon points="412.4,304.1 415.1,212 426,212 427,171 430,170.6 436.4,168.2 440.4,152 442.8,144.1 445.5,143.4 450.7,137.2 454.7,130.1 458.8,123.9 462.9,115.8 468,110.7 473.1,104.5 477.2,98.4 483.4,92.3 487.3,89 494.6,80.3 501.9,74.4 509.2,70 516.5,65.7 523.8,60.5 531.1,55.4 538.4,51.8 545.7,48.1 553,46 560.3,43.8 567.6,41.6 574.9,40.1 580,39.4 596.2,38.6 679.9,38.5 679.9,38.5 671.4,39.4 663.3,41.8 655.3,45 647.3,47.5 639.2,49.1 631.2,52.3 623.2,55.5 615.1,60.3 607.1,65.1 599.1,69.1 591.1,74 583,78 575,83 567.6,89 560.3,93.4 553,99.2 545.7,103.6 538.4,112.4 531.1,119.7 524.7,124 518.5,133 511.9,137.7 503.9,144.1 499.1,152.1 494.2,158.5 487.8,166.6 483,174.6 478.2,181 473.4,189 468.5,195.5 462.1,209.9 453.3,230 446,240 441,250 437,262 427,266 425.6,295.6 415.1,295.6" fill="#808080" fill-opacity="0.37"/>
<line x1="412.4" y1="304.1" x2="679.9" y2="38.5" stroke="#ff4d4d" stroke-width="1.3" stroke-dasharray="2.98 1.35" stroke-dashoffset="-0.2"/>
<polyline points="412.2,304.1 414.6,254 423,254 428,221 431,217.6 436.4,215.6 441.2,198.7 444.5,192.3 450.1,187.4 454.1,177.8 458.9,169.8 464.5,158.5 471.8,147.3 475,145.7 479.8,136.9 482.2,136.1 485.4,131.1 489.4,126.4 493.4,120 499,113.8 501.9,109.2 507,105.1 513.6,100.7 519.4,95.6 525.3,90.5 532.6,85.4 536.2,84.3 539.9,79.5 544.2,78.8 547.9,74.4 553,73.7 555.9,70.5 561.8,67.1 567.6,64.2 573.4,61.3 581.4,58.4 586.2,57.1 591.1,54.7 597.5,53.1 602.3,50.7 610.3,47.8 620,44.6 629.6,42.6 639.2,40.5 648.9,39.4 658.5,38.6 668.1,38.3 679.9,38.3" fill="none" stroke="#4040f0" stroke-width="1.25" stroke-linejoin="round"/>
<rect x="409.3" y="35.3" width="273.6" height="271.7" fill="none" stroke="#a2a2a2" stroke-width="1.25"/>
<line x1="412.4" y1="307.1" x2="412.4" y2="309.3" stroke="#a2a2a2" stroke-width="0.8"/>
<line x1="407.9" y1="304.1" x2="410.1" y2="304.1" stroke="#a2a2a2" stroke-width="0.8"/>
<text x="412.7" y="314.4" text-anchor="middle" font-size="7.4" fill="#262626">0.0</text>
<text x="407.3" y="306.5" text-anchor="end" font-size="7.4" fill="#262626">0.0</text>
<line x1="465.9" y1="307.1" x2="465.9" y2="309.3" stroke="#a2a2a2" stroke-width="0.8"/>
<line x1="407.9" y1="251" x2="410.1" y2="251" stroke="#a2a2a2" stroke-width="0.8"/>
<text x="466.2" y="314.4" text-anchor="middle" font-size="7.4" fill="#262626">0.2</text>
<text x="407.3" y="253.4" text-anchor="end" font-size="7.4" fill="#262626">0.2</text>
<line x1="519.4" y1="307.1" x2="519.4" y2="309.3" stroke="#a2a2a2" stroke-width="0.8"/>
<line x1="407.9" y1="197.9" x2="410.1" y2="197.9" stroke="#a2a2a2" stroke-width="0.8"/>
<text x="519.7" y="314.4" text-anchor="middle" font-size="7.4" fill="#262626">0.4</text>
<text x="407.3" y="200.3" text-anchor="end" font-size="7.4" fill="#262626">0.4</text>
<line x1="572.9" y1="307.1" x2="572.9" y2="309.3" stroke="#a2a2a2" stroke-width="0.8"/>
<line x1="407.9" y1="144.7" x2="410.1" y2="144.7" stroke="#a2a2a2" stroke-width="0.8"/>
<text x="573.2" y="314.4" text-anchor="middle" font-size="7.4" fill="#262626">0.6</text>
<text x="407.3" y="147.1" text-anchor="end" font-size="7.4" fill="#262626">0.6</text>
<line x1="626.4" y1="307.1" x2="626.4" y2="309.3" stroke="#a2a2a2" stroke-width="0.8"/>
<line x1="407.9" y1="91.6" x2="410.1" y2="91.6" stroke="#a2a2a2" stroke-width="0.8"/>
<text x="626.7" y="314.4" text-anchor="middle" font-size="7.4" fill="#262626">0.8</text>
<text x="407.3" y="94" text-anchor="end" font-size="7.4" fill="#262626">0.8</text>
<line x1="679.9" y1="307.1" x2="679.9" y2="309.3" stroke="#a2a2a2" stroke-width="0.8"/>
<line x1="407.9" y1="38.5" x2="410.1" y2="38.5" stroke="#a2a2a2" stroke-width="0.8"/>
<text x="680.2" y="314.4" text-anchor="middle" font-size="7.4" fill="#262626">1.0</text>
<text x="407.3" y="40.9" text-anchor="end" font-size="7.4" fill="#262626">1.0</text>
<text x="546.1" y="325.1" text-anchor="middle" font-size="10.3" fill="#111" stroke="#111" stroke-width="0.2" textLength="82.5" lengthAdjust="spacingAndGlyphs">False Positive Rate</text>
<text transform="translate(393.8,171.3) rotate(-90)" x="0" y="0" text-anchor="middle" font-size="10.3" fill="#111" stroke="#111" stroke-width="0.2" textLength="80" lengthAdjust="spacingAndGlyphs">True Positive Rate</text>
<rect x="505.7" y="272.8" width="172.6" height="29.1" rx="1.6" fill="#ffffff" fill-opacity="0.85" stroke="#d6d6d6" stroke-width="0.8"/>
<line x1="509" y1="280.1" x2="527.4" y2="280.1" stroke="#4040f0" stroke-width="1.1"/>
<rect x="509" y="290.5" width="18.4" height="6.8" fill="#d0d0d0"/>
<text x="534.8" y="283.5" font-size="10.0" fill="#111" stroke="#111" stroke-width="0.15" textLength="140.3" lengthAdjust="spacingAndGlyphs">Mean ROC (AUC = 0.77 ± 0.07)</text>
<text x="534.8" y="297.1" font-size="10.0" fill="#111" stroke="#111" stroke-width="0.15" textLength="57" lengthAdjust="spacingAndGlyphs">± 1 std. dev.</text>
<g><g fill="none" stroke-width="0.9" stroke-opacity="0.05"><path d="M74.8 619.1V525.3H90.5H106.3H122V447.2H137.8V415.9H153.5V369H169.3H185H200.8H216.5H232.3H248H263.8H279.5H295.3V353.4H311H326.8H342.5" stroke="#437394"/>
<path d="M74.8 619.1H89.7V589.6H104.5H119.4H134.3V530.5H149.2V501H164H178.9V471.5H193.8V442H208.6H223.5H238.4H253.3V412.4H268.1H283H297.9H312.8V382.9H327.6H342.5V353.4" stroke="#c88143"/>
<path d="M74.8 619.1V462.8H91.5V431.5H108.3V415.9H125V384.7H141.7V353.4H158.5H175.2H191.9H208.6H225.4H242.1H258.8H275.6H292.3H309H325.8H342.5" stroke="#3d7d3d"/>
<path d="M74.8 619.1V536.1H104.5V486.2H134.3V419.8H164V370H193.8H223.5H253.3H283V353.4H312.8H342.5" stroke="#a24142"/>
<path d="M74.8 619.1V552.7H104.5V519.5H134.3V486.2H164V453H193.8V386.6H223.5H253.3H283H312.8H342.5V353.4" stroke="#937baa"/>
<path d="M74.8 619.1V512.8H88.9V442H103H117.1H131.2V406.5H145.2V353.4H159.3H173.4H187.5H201.6H215.7H229.8H243.9H258H272.1H286.1H300.2H314.3H328.4H342.5" stroke="#7a5c56"/>
<path d="M74.8 619.1V603.5H88.9V572.2H103H117.1V525.3H131.2V509.7H145.2V478.4H159.3H173.4V447.2H187.5V400.3H201.6H215.7H229.8H243.9H258H272.1H286.1V384.7H300.2H314.3V369H328.4H342.5V353.4" stroke="#ce92bc"/>
<path d="M74.8 619.1H92.6V570.8H110.5H128.3V522.5H146.2H164V450H181.9H199.7H217.6H235.4V425.9H253.3H271.1V401.7H289H306.8V377.6H324.7H342.5V353.4" stroke="#7f7f7f"/>
<path d="M74.8 619.1V429.3H95.4H116V372.4H136.6V353.4H157.2H177.8H198.4H218.9H239.5H260.1H280.7H301.3H321.9H342.5" stroke="#a5a650"/>
<path d="M74.8 619.1V530.5H97.1V459.7H119.4H141.7V406.5H164V353.4H186.3H208.6H231H253.3H275.6H297.9H320.2H342.5" stroke="#4ca8b1"/>
<path d="M74.8 619.1V501H97.1V486.2H119.4V427.2H141.7V382.9H164V353.4H186.3H208.6H231H253.3H275.6H297.9H320.2H342.5" stroke="#437394"/>
<path d="M74.8 619.1V479.3H108.3H141.7V409.3H175.2V353.4H208.6H242.1H275.6H309H342.5" stroke="#c88143"/>
<path d="M74.8 619.1V594.9H99.1V546.6H123.5V498.3H147.8V474.2H172.1V425.9H196.5V401.7H220.8V377.6H245.2H269.5H293.8H318.2V353.4H342.5" stroke="#3d7d3d"/>
<path d="M74.8 619.1V552.7H104.5V486.2H134.3V453H164V419.8H193.8V386.6H223.5H253.3H283H312.8V353.4H342.5" stroke="#a24142"/>
<path d="M74.8 619.1V570.8H90.5V522.5H106.3H122V498.3H137.8V450H153.5H169.3V425.9H185H200.8H216.5V401.7H232.3V377.6H248H263.8H279.5H295.3H311V353.4H326.8H342.5" stroke="#937baa"/>
<path d="M74.8 619.1V539.4H91.5V512.8H108.3V473H125V446.4H141.7V406.5H158.5H175.2V393.3H191.9H208.6V380H225.4H242.1V366.7H258.8H275.6H292.3H309V353.4H325.8H342.5" stroke="#7a5c56"/>
<path d="M74.8 619.1V505.2H99.1H123.5V429.3H147.8V410.3H172.1V372.4H196.5H220.8V353.4H245.2H269.5H293.8H318.2H342.5" stroke="#ce92bc"/>
<path d="M74.8 619.1V574.8H108.3H141.7V486.2H175.2V442H208.6V419.8H242.1H275.6H309V375.5H342.5V353.4" stroke="#7f7f7f"/>
<path d="M74.8 619.1V545.3H90.5H106.3V471.5H122H137.8V427.2H153.5H169.3V353.4H185H200.8H216.5H232.3H248H263.8H279.5H295.3H311H326.8H342.5" stroke="#a5a650"/>
<path d="M74.8 619.1V505.2H97.1V486.2H119.4V467.3H141.7V372.4H164H186.3V353.4H208.6H231H253.3H275.6H297.9H320.2H342.5" stroke="#4ca8b1"/>
<path d="M74.8 619.1V562.2H101.6H128.3V505.2H155.1V410.3H181.9H208.6V391.4H235.4V372.4H262.2H289H315.7H342.5V353.4" stroke="#437394"/>
<path d="M74.8 619.1V592.5H92.6H110.5H128.3V579.2H146.2V486.2H164H181.9V459.7H199.7V446.4H217.6V433.1H235.4V419.8H253.3V406.5H271.1H289V393.3H306.8V380H324.7V366.7H342.5V353.4" stroke="#c88143"/>
<path d="M74.8 619.1V560.1H97.1V545.3H119.4V530.5H141.7V471.5H164H186.3V442H208.6V412.4H231H253.3V397.7H275.6H297.9V382.9H320.2V368.2H342.5V353.4" stroke="#3d7d3d"/>
<path d="M74.8 619.1V501H92.6V442H110.5V382.9H128.3H146.2V353.4H164H181.9H199.7H217.6H235.4H253.3H271.1H289H306.8H324.7H342.5" stroke="#a24142"/>
<path d="M74.8 619.1V563.2H88.2V549.2H101.6V507.2H115H128.3V493.2H141.7V479.3H155.1V409.3H168.5H181.9H195.3H208.6V381.4H222H235.4V367.4H248.8H262.2H275.6H289H302.3H315.7H329.1V353.4H342.5" stroke="#937baa"/>
<path d="M74.8 619.1V549.2H90.5H106.3V521.2H122V451.3H137.8H153.5H169.3V423.3H185V395.4H200.8H216.5H232.3H248V367.4H263.8H279.5H295.3H311H326.8V353.4H342.5" stroke="#7a5c56"/>
<path d="M74.8 619.1V519.5H104.5H134.3V419.8H164H193.8V386.6H223.5V353.4H253.3H283H312.8H342.5" stroke="#ce92bc"/>
<path d="M74.8 619.1V530.5H97.1V464.1H119.4V375.5H141.7V353.4H164H186.3H208.6H231H253.3H275.6H297.9H320.2H342.5" stroke="#7f7f7f"/>
<path d="M74.8 619.1V552.7H93.9V530.5H113V419.8H132.2H151.3H170.4H189.5V375.5H208.6H227.8H246.9H266V353.4H285.1H304.3H323.4H342.5" stroke="#a5a650"/>
<path d="M74.8 619.1V406.5H91.5V388.8H108.3V353.4H125H141.7H158.5H175.2H191.9H208.6H225.4H242.1H258.8H275.6H292.3H309H325.8H342.5" stroke="#4ca8b1"/>
<path d="M74.8 619.1V578.2H89.7V557.8H104.5V496.5H119.4H134.3V435.2H149.2H164H178.9H193.8V414.7H208.6V394.3H223.5H238.4H253.3V373.8H268.1H283H297.9H312.8H327.6V353.4H342.5" stroke="#437394"/>
<path d="M74.8 619.1V512.8H104.5V446.4H134.3H164V393.3H193.8V366.7H223.5H253.3V353.4H283H312.8H342.5" stroke="#c88143"/>
<path d="M74.8 619.1V578.2H97.1H119.4V537.3H141.7H164V496.5H186.3V455.6H208.6V414.7H231H253.3H275.6H297.9V373.8H320.2V353.4H342.5" stroke="#3d7d3d"/>
<path d="M74.8 619.1V530.5H101.6V508.4H128.3V486.2H155.1V442H181.9V397.7H208.6H235.4H262.2H289V375.5H315.7H342.5V353.4" stroke="#a24142"/>
<path d="M74.8 619.1V471.5H108.3V412.4H141.7H175.2V382.9H208.6H242.1H275.6V353.4H309H342.5" stroke="#937baa"/>
<path d="M74.8 619.1V566H88.2V539.4H101.6V512.8H115H128.3H141.7H155.1V433.1H168.5H181.9V406.5H195.3H208.6H222H235.4V380H248.8H262.2H275.6H289H302.3H315.7H329.1V353.4H342.5" stroke="#7a5c56"/>
<path d="M74.8 619.1V560.1H90.5H106.3H122V501H137.8V471.5H153.5H169.3H185V442H200.8V412.4H216.5V382.9H232.3H248H263.8H279.5H295.3H311H326.8V353.4H342.5" stroke="#ce92bc"/>
<path d="M74.8 619.1V499.5H108.3V459.7H141.7V433.1H175.2V366.7H208.6H242.1H275.6H309V353.4H342.5" stroke="#7f7f7f"/>
<path d="M74.8 619.1V486.2H90.5V469.6H106.3H122H137.8V370H153.5H169.3H185H200.8H216.5H232.3H248V353.4H263.8H279.5H295.3H311H326.8H342.5" stroke="#a5a650"/>
<path d="M74.8 619.1V539.4H89.7H104.5H119.4V512.8H134.3V486.2H149.2H164V433.1H178.9V406.5H193.8H208.6H223.5H238.4H253.3H268.1V380H283H297.9H312.8H327.6V353.4H342.5" stroke="#4ca8b1"/>
<path d="M74.8 619.1V546.6H89.7H104.5V522.5H119.4V450H134.3H149.2H164H178.9V425.9H193.8H208.6V401.7H223.5V377.6H238.4H253.3H268.1H283H297.9H312.8V353.4H327.6H342.5" stroke="#437394"/>
<path d="M74.8 619.1V543.2H95.4V524.2H116V448.3H136.6H157.2V429.3H177.8V410.3H198.4V391.4H218.9H239.5V372.4H260.1H280.7H301.3H321.9V353.4H342.5" stroke="#c88143"/>
<path d="M74.8 619.1V585.9H95.4V536.1H116H136.6H157.2V486.2H177.8V436.4H198.4H218.9V403.2H239.5H260.1V386.6H280.7H301.3H321.9V370H342.5V353.4" stroke="#3d7d3d"/>
<path d="M74.8 619.1V496.5H108.3V476H141.7V435.2H175.2V373.8H208.6H242.1V353.4H275.6H309H342.5" stroke="#a24142"/>
<path d="M74.8 619.1V604.3H88.9H103V589.6H117.1V560.1H131.2H145.2H159.3V486.2H173.4H187.5V456.7H201.6V442H215.7V427.2H229.8V412.4H243.9H258H272.1H286.1H300.2V397.7H314.3V382.9H328.4V368.2H342.5V353.4" stroke="#937baa"/>
<path d="M74.8 619.1H95.4V598.7H116V557.8H136.6V537.3H157.2V516.9H177.8V476H198.4V435.2H218.9H239.5V414.7H260.1V394.3H280.7H301.3H321.9V373.8H342.5V353.4" stroke="#7a5c56"/>
<path d="M74.8 619.1V524.2H91.5H108.3V486.2H125V448.3H141.7V391.4H158.5H175.2H191.9V372.4H208.6H225.4H242.1H258.8H275.6H292.3V353.4H309H325.8H342.5" stroke="#ce92bc"/>
<path d="M74.8 619.1V552.7H90.5V519.5H106.3V486.2H122H137.8V453H153.5V419.8H169.3V386.6H185H200.8H216.5H232.3H248V353.4H263.8H279.5H295.3H311H326.8H342.5" stroke="#7f7f7f"/>
<path d="M74.8 619.1V521.2H92.6V479.3H110.5V437.3H128.3V409.3H146.2H164V395.4H181.9V367.4H199.7H217.6H235.4V353.4H253.3H271.1H289H306.8H324.7H342.5" stroke="#a5a650"/>
<path d="M74.8 619.1V524.2H99.1V486.2H123.5V448.3H147.8V391.4H172.1H196.5H220.8H245.2V353.4H269.5H293.8H318.2H342.5" stroke="#4ca8b1"/>
<path d="M74.8 619.1V562.2H97.1V524.2H119.4H141.7V486.2H164V429.3H186.3H208.6V410.3H231H253.3V391.4H275.6V353.4H297.9H320.2H342.5" stroke="#437394"/>
<path d="M74.8 619.1V581.1H92.6V562.2H110.5V524.2H128.3H146.2V467.3H164H181.9V448.3H199.7V391.4H217.6H235.4H253.3H271.1H289H306.8H324.7V372.4H342.5V353.4" stroke="#c88143"/>
<path d="M74.8 619.1V583.7H93.9V566H113V548.2H132.2H151.3V477.4H170.4H189.5H208.6V406.5H227.8H246.9H266H285.1H304.3V388.8H323.4V371.1H342.5V353.4" stroke="#3d7d3d"/>
<path d="M74.8 619.1H91.5H108.3H125H141.7H158.5H175.2V581.1H191.9V524.2H208.6V505.2H225.4H242.1V486.2H258.8V467.3H275.6H292.3V448.3H309H325.8V391.4H342.5V353.4" stroke="#a24142"/>
<path d="M74.8 619.1V552.7H91.5V519.5H108.3V486.2H125V453H141.7H158.5H175.2V386.6H191.9H208.6H225.4H242.1H258.8V353.4H275.6H292.3H309H325.8H342.5" stroke="#937baa"/>
<path d="M74.8 619.1V563.2H88.2V535.2H101.6H115V507.2H128.3H141.7V437.3H155.1V423.3H168.5H181.9H195.3V409.3H208.6V395.4H222H235.4H248.8H262.2H275.6V367.4H289H302.3H315.7H329.1V353.4H342.5" stroke="#7a5c56"/>
<path d="M74.8 619.1V578.2H108.3V516.9H141.7V476H175.2V394.3H208.6H242.1H275.6H309V373.8H342.5V353.4" stroke="#ce92bc"/>
<path d="M74.8 619.1V605.8H104.5H134.3V579.2H164V486.2H193.8V433.1H223.5V419.8H253.3H283H312.8V380H342.5V353.4" stroke="#7f7f7f"/>
<path d="M74.8 619.1V549.2H88.2H101.6V535.2H115H128.3H141.7V465.3H155.1V437.3H168.5H181.9V423.3H195.3H208.6H222H235.4V409.3H248.8H262.2V395.4H275.6V381.4H289H302.3H315.7V367.4H329.1H342.5V353.4" stroke="#a5a650"/>
<path d="M74.8 619.1V570.8H88.9V450H103H117.1H131.2H145.2V401.7H159.3H173.4V377.6H187.5H201.6H215.7H229.8H243.9H258V353.4H272.1H286.1H300.2H314.3H328.4H342.5" stroke="#4ca8b1"/>
<path d="M74.8 619.1V486.2H99.1V436.4H123.5V403.2H147.8V386.6H172.1V353.4H196.5H220.8H245.2H269.5H293.8H318.2H342.5" stroke="#437394"/>
<path d="M74.8 619.1V552.7H90.5V508.4H106.3V486.2H122H137.8V442H153.5V419.8H169.3V397.7H185V375.5H200.8H216.5H232.3H248H263.8H279.5H295.3H311H326.8V353.4H342.5" stroke="#c88143"/>
<path d="M74.8 619.1V495.1H108.3V406.5H141.7V371.1H175.2V353.4H208.6H242.1H275.6H309H342.5" stroke="#3d7d3d"/>
<path d="M74.8 619.1V471.5H108.3V427.2H141.7V353.4H175.2H208.6H242.1H275.6H309H342.5" stroke="#a24142"/>
<path d="M74.8 619.1V519.5H95.4H116V453H136.6H157.2V386.6H177.8V353.4H198.4H218.9H239.5H260.1H280.7H301.3H321.9H342.5" stroke="#937baa"/>
<path d="M74.8 619.1V524.2H97.1V486.2H119.4V429.3H141.7V372.4H164H186.3H208.6H231H253.3H275.6V353.4H297.9H320.2H342.5" stroke="#7a5c56"/>
<path d="M74.8 619.1V563.2H88.2H101.6H115H128.3V521.2H141.7H155.1V507.2H168.5V437.3H181.9H195.3V423.3H208.6H222H235.4V409.3H248.8H262.2H275.6V395.4H289V381.4H302.3H315.7H329.1V367.4H342.5V353.4" stroke="#ce92bc"/>
<path d="M74.8 619.1V516.9H95.4V496.5H116V435.2H136.6V373.8H157.2H177.8H198.4V353.4H218.9H239.5H260.1H280.7H301.3H321.9H342.5" stroke="#7f7f7f"/>
<path d="M74.8 619.1V572.2H93.9H113V541H132.2V494.1H151.3V478.4H170.4V431.5H189.5V415.9H208.6H227.8H246.9V369H266H285.1H304.3H323.4H342.5V353.4" stroke="#a5a650"/>
<path d="M74.8 619.1V548.2H92.6V530.5H110.5V477.4H128.3H146.2V442H164H181.9V406.5H199.7H217.6H235.4H253.3V371.1H271.1H289H306.8H324.7V353.4H342.5" stroke="#4ca8b1"/>
<path d="M74.8 619.1H101.6H128.3H155.1V552.7H181.9V486.2H208.6V464.1H235.4H262.2H289V442H315.7V397.7H342.5V353.4" stroke="#437394"/>
<path d="M74.8 619.1H90.5V583.7H106.3H122H137.8V566H153.5V548.2H169.3V495.1H185H200.8V477.4H216.5V442H232.3H248H263.8H279.5V424.3H295.3H311V406.5H326.8V388.8H342.5V353.4" stroke="#c88143"/>
<path d="M74.8 619.1V522.5H99.1V498.3H123.5V450H147.8V377.6H172.1H196.5H220.8H245.2V353.4H269.5H293.8H318.2H342.5" stroke="#3d7d3d"/>
<path d="M74.8 619.1V548.2H99.1V477.4H123.5H147.8V424.3H172.1H196.5V406.5H220.8H245.2V388.8H269.5H293.8H318.2V353.4H342.5" stroke="#a24142"/>
<path d="M74.8 619.1V566H97.1V548.2H119.4V512.8H141.7H164V442H186.3V406.5H208.6V388.8H231H253.3H275.6H297.9H320.2V371.1H342.5V353.4" stroke="#937baa"/>
<path d="M74.8 619.1V512.8H90.5H106.3V459.7H122H137.8H153.5V433.1H169.3V380H185H200.8H216.5V353.4H232.3H248H263.8H279.5H295.3H311H326.8H342.5" stroke="#7a5c56"/>
<path d="M74.8 619.1V546.6H92.6V498.3H110.5H128.3V425.9H146.2H164V401.7H181.9V377.6H199.7H217.6H235.4H253.3V353.4H271.1H289H306.8H324.7H342.5" stroke="#ce92bc"/>
<path d="M74.8 619.1V546.6H108.3H141.7V474.2H175.2V377.6H208.6H242.1H275.6H309V353.4H342.5" stroke="#7f7f7f"/>
<path d="M74.8 619.1V512.8H90.5V459.7H106.3H122H137.8V442H153.5V406.5H169.3V371.1H185H200.8V353.4H216.5H232.3H248H263.8H279.5H295.3H311H326.8H342.5" stroke="#a5a650"/>
<path d="M74.8 619.1V577.1H101.6V563.2H128.3V507.2H155.1V479.3H181.9V409.3H208.6H235.4H262.2H289H315.7V367.4H342.5V353.4" stroke="#4ca8b1"/>
<path d="M74.8 619.1V522.5H91.5H108.3V474.2H125V450H141.7V425.9H158.5V377.6H175.2H191.9H208.6H225.4H242.1H258.8H275.6V353.4H292.3H309H325.8H342.5" stroke="#437394"/>
<path d="M74.8 619.1V471.5H90.5V442H106.3V412.4H122V353.4H137.8H153.5H169.3H185H200.8H216.5H232.3H248H263.8H279.5H295.3H311H326.8H342.5" stroke="#c88143"/>
<path d="M74.8 619.1H97.1H119.4H141.7V560.1H164V471.5H186.3H208.6V442H231H253.3H275.6H297.9V412.4H320.2V382.9H342.5V353.4" stroke="#3d7d3d"/>
<path d="M74.8 619.1V525.3H108.3V447.2H141.7V369H175.2H208.6V353.4H242.1H275.6H309H342.5" stroke="#a24142"/>
<path d="M74.8 619.1V539.4H104.5V499.5H134.3V433.1H164V380H193.8H223.5V366.7H253.3V353.4H283H312.8H342.5" stroke="#937baa"/>
<path d="M74.8 619.1V552.7H92.6V519.5H110.5H128.3V486.2H146.2V453H164H181.9V419.8H199.7V386.6H217.6H235.4H253.3H271.1H289H306.8H324.7V353.4H342.5" stroke="#7a5c56"/>
<path d="M74.8 619.1V519.5H108.3V486.2H141.7V469.6H175.2V419.8H208.6V386.6H242.1H275.6V370H309V353.4H342.5" stroke="#ce92bc"/>
<path d="M74.8 619.1V579.2H104.5H134.3V499.5H164V486.2H193.8V446.4H223.5V433.1H253.3V406.5H283H312.8V393.3H342.5V353.4" stroke="#7f7f7f"/>
<path d="M74.8 619.1V530.5H90.5H106.3V501H122V471.5H137.8H153.5V412.4H169.3H185V382.9H200.8H216.5H232.3H248H263.8H279.5V353.4H295.3H311H326.8H342.5" stroke="#a5a650"/>
<path d="M74.8 619.1V585.9H88.9V552.7H103V536.1H117.1H131.2V502.9H145.2V469.6H159.3H173.4H187.5V419.8H201.6V403.2H215.7H229.8H243.9H258H272.1V386.6H286.1H300.2H314.3H328.4V370H342.5V353.4" stroke="#4ca8b1"/>
<path d="M74.8 619.1H95.4H116H136.6V566H157.2V526.1H177.8V486.2H198.4V446.4H218.9H239.5H260.1H280.7V433.1H301.3V419.8H321.9V366.7H342.5V353.4" stroke="#437394"/>
<path d="M74.8 619.1V530.5H101.6H128.3V495.1H155.1V442H181.9H208.6V406.5H235.4H262.2V371.1H289H315.7H342.5V353.4" stroke="#c88143"/>
<path d="M74.8 619.1V456.7H101.6V412.4H128.3V368.2H155.1H181.9V353.4H208.6H235.4H262.2H289H315.7H342.5" stroke="#3d7d3d"/>
<path d="M74.8 619.1V501H97.1V471.5H119.4V442H141.7V397.7H164V368.2H186.3H208.6V353.4H231H253.3H275.6H297.9H320.2H342.5" stroke="#a24142"/>
<path d="M74.8 619.1V578.2H97.1V557.8H119.4H141.7V516.9H164V455.6H186.3V435.2H208.6V414.7H231H253.3H275.6V394.3H297.9H320.2V353.4H342.5" stroke="#937baa"/>
<path d="M74.8 619.1V560.1H88.9V545.3H103V515.8H117.1H131.2V456.7H145.2H159.3H173.4V427.2H187.5H201.6V412.4H215.7V397.7H229.8H243.9H258H272.1H286.1V382.9H300.2V353.4H314.3H328.4H342.5" stroke="#7a5c56"/>
<path d="M74.8 619.1V521.2H91.5V493.2H108.3V479.3H125V465.3H141.7V381.4H158.5H175.2V353.4H191.9H208.6H225.4H242.1H258.8H275.6H292.3H309H325.8H342.5" stroke="#ce92bc"/>
<path d="M74.8 619.1V519.5H108.3H141.7V453H175.2V403.2H208.6V370H242.1H275.6H309V353.4H342.5" stroke="#7f7f7f"/>
<path d="M74.8 619.1V569.3H92.6V519.5H110.5V453H128.3V436.4H146.2V403.2H164H181.9V386.6H199.7H217.6H235.4V370H253.3H271.1V353.4H289H306.8H324.7H342.5" stroke="#a5a650"/>
<path d="M74.8 619.1V530.5H91.5H108.3V508.4H125H141.7V442H158.5H175.2V419.8H191.9H208.6V397.7H225.4H242.1V375.5H258.8H275.6H292.3H309H325.8V353.4H342.5" stroke="#4ca8b1"/>
<path d="M74.8 619.1V562.2H99.1H123.5V505.2H147.8V486.2H172.1V410.3H196.5H220.8H245.2H269.5V372.4H293.8H318.2V353.4H342.5" stroke="#437394"/>
<path d="M74.8 619.1V539.4H95.4V512.8H116V486.2H136.6V433.1H157.2V406.5H177.8H198.4V380H218.9H239.5H260.1H280.7H301.3V353.4H321.9H342.5" stroke="#c88143"/>
<path d="M74.8 619.1V600.1H90.5V581.1H106.3H122V524.2H137.8V505.2H153.5H169.3H185V467.3H200.8V448.3H216.5H232.3H248V429.3H263.8H279.5V410.3H295.3H311V391.4H326.8V372.4H342.5V353.4" stroke="#3d7d3d"/>
<path d="M74.8 619.1V566H101.6V512.8H128.3V459.7H155.1H181.9V424.3H208.6V406.5H235.4V371.1H262.2H289H315.7V353.4H342.5" stroke="#a24142"/>
<path d="M74.8 619.1V589.6H97.1H119.4V501H141.7H164V442H186.3V412.4H208.6H231H253.3H275.6V382.9H297.9H320.2V353.4H342.5" stroke="#937baa"/>
<path d="M74.8 619.1V604.3H99.1V560.1H123.5H147.8V515.8H172.1V471.5H196.5V442H220.8H245.2V397.7H269.5H293.8H318.2V368.2H342.5V353.4" stroke="#7a5c56"/>
<path d="M74.8 619.1V543.2H88.9V524.2H103H117.1V505.2H131.2H145.2V448.3H159.3V429.3H173.4H187.5H201.6H215.7V410.3H229.8V391.4H243.9V372.4H258H272.1H286.1H300.2H314.3H328.4V353.4H342.5" stroke="#ce92bc"/>
<path d="M74.8 619.1V530.5H90.5H106.3V501H122V442H137.8H153.5V382.9H169.3H185H200.8V353.4H216.5H232.3H248H263.8H279.5H295.3H311H326.8H342.5" stroke="#7f7f7f"/>
<path d="M74.8 619.1V548.2H90.5V530.5H106.3V477.4H122V459.7H137.8H153.5V424.3H169.3V388.8H185H200.8H216.5H232.3H248H263.8H279.5V371.1H295.3H311V353.4H326.8H342.5" stroke="#a5a650"/>
<path d="M74.8 619.1H88.2V597H101.6H115H128.3V574.8H141.7H155.1V552.7H168.5V508.4H181.9V486.2H195.3V464.1H208.6H222V442H235.4H248.8V419.8H262.2H275.6H289H302.3H315.7V397.7H329.1V375.5H342.5V353.4" stroke="#4ca8b1"/>
<path d="M74.8 619.1V566H88.9V539.4H103V512.8H117.1H131.2H145.2H159.3V486.2H173.4V433.1H187.5H201.6V406.5H215.7H229.8H243.9V380H258H272.1H286.1H300.2H314.3H328.4V353.4H342.5" stroke="#437394"/>
<path d="M74.8 619.1V594.9H92.6H110.5H128.3H146.2V522.5H164H181.9V474.2H199.7H217.6V450H235.4V425.9H253.3H271.1H289V401.7H306.8H324.7V377.6H342.5V353.4" stroke="#c88143"/>
<path d="M74.8 619.1V537.3H101.6V496.5H128.3V435.2H155.1H181.9V414.7H208.6V394.3H235.4V373.8H262.2H289V353.4H315.7H342.5" stroke="#3d7d3d"/>
<path d="M74.8 619.1V530.5H91.5H108.3V501H125V486.2H141.7V427.2H158.5V382.9H175.2H191.9H208.6H225.4H242.1H258.8H275.6H292.3H309V368.2H325.8H342.5V353.4" stroke="#a24142"/>
<path d="M74.8 619.1V507.2H108.3V493.2H141.7V423.3H175.2V395.4H208.6V381.4H242.1V367.4H275.6H309H342.5V353.4" stroke="#937baa"/>
<path d="M74.8 619.1V537.3H88.9H103V455.6H117.1H131.2H145.2H159.3V435.2H173.4V414.7H187.5V394.3H201.6H215.7V373.8H229.8H243.9H258H272.1H286.1H300.2H314.3V353.4H328.4H342.5" stroke="#7a5c56"/>
<path d="M74.8 619.1V530.5H101.6V501H128.3V471.5H155.1H181.9V412.4H208.6H235.4H262.2V382.9H289H315.7V353.4H342.5" stroke="#ce92bc"/>
<path d="M74.8 619.1V516.9H104.5V496.5H134.3V394.3H164H193.8H223.5V373.8H253.3V353.4H283H312.8H342.5" stroke="#7f7f7f"/>
<path d="M74.8 619.1V486.2H89.7H104.5V459.7H119.4H134.3V433.1H149.2V380H164H178.9H193.8V353.4H208.6H223.5H238.4H253.3H268.1H283H297.9H312.8H327.6H342.5" stroke="#a5a650"/>
<path d="M74.8 619.1V591.1H89.7V563.2H104.5V507.2H119.4H134.3V479.3H149.2V465.3H164V409.3H178.9H193.8H208.6H223.5H238.4H253.3V395.4H268.1H283H297.9H312.8V367.4H327.6V353.4H342.5" stroke="#4ca8b1"/>
<path d="M74.8 619.1V581.1H88.2H101.6V524.2H115H128.3H141.7V429.3H155.1H168.5H181.9H195.3V391.4H208.6H222H235.4H248.8H262.2H275.6H289H302.3H315.7H329.1V372.4H342.5V353.4" stroke="#437394"/>
<path d="M74.8 619.1V585.9H104.5V552.7H134.3H164V486.2H193.8V453H223.5V419.8H253.3V386.6H283H312.8H342.5V353.4" stroke="#c88143"/>
<path d="M74.8 619.1V530.5H91.5V515.8H108.3H125V471.5H141.7V427.2H158.5V412.4H175.2V397.7H191.9V368.2H208.6H225.4H242.1H258.8V353.4H275.6H292.3H309H325.8H342.5" stroke="#3d7d3d"/>
<path d="M74.8 619.1V537.3H99.1V516.9H123.5V455.6H147.8V394.3H172.1H196.5H220.8V373.8H245.2H269.5H293.8H318.2V353.4H342.5" stroke="#a24142"/>
<path d="M74.8 619.1V526.1H95.4V473H116V406.5H136.6H157.2V380H177.8V353.4H198.4H218.9H239.5H260.1H280.7H301.3H321.9H342.5" stroke="#937baa"/>
<path d="M74.8 619.1V545.3H88.9V530.5H103H117.1V515.8H131.2V486.2H145.2H159.3V442H173.4H187.5H201.6V427.2H215.7V382.9H229.8H243.9H258H272.1H286.1H300.2H314.3H328.4V368.2H342.5V353.4" stroke="#7a5c56"/>
<path d="M74.8 619.1V546.6H101.6V522.5H128.3V474.2H155.1V450H181.9V401.7H208.6H235.4H262.2V377.6H289H315.7H342.5V353.4" stroke="#ce92bc"/>
<path d="M74.8 619.1V587.8H89.7H104.5V556.6H119.4V525.3H134.3H149.2H164H178.9V494.1H193.8V431.5H208.6H223.5H238.4H253.3H268.1V415.9H283H297.9V400.3H312.8H327.6V369H342.5V353.4" stroke="#7f7f7f"/>
<path d="M74.8 619.1V507.2H108.3V409.3H141.7V367.4H175.2H208.6V353.4H242.1H275.6H309H342.5" stroke="#a5a650"/>
<path d="M74.8 619.1H88.9H103H117.1V604.3H131.2H145.2H159.3V560.1H173.4V501H187.5V471.5H201.6H215.7V456.7H229.8H243.9H258V442H272.1H286.1V427.2H300.2V412.4H314.3H328.4V382.9H342.5V353.4" stroke="#4ca8b1"/>
<path d="M74.8 619.1H92.6V585.9H110.5H128.3H146.2V552.7H164V519.5H181.9V453H199.7H217.6V419.8H235.4H253.3H271.1H289H306.8V386.6H324.7H342.5V353.4" stroke="#437394"/>
<path d="M74.8 619.1V579.2H89.7V566H104.5H119.4V539.4H134.3V526.1H149.2V512.8H164V446.4H178.9V433.1H193.8H208.6V419.8H223.5H238.4H253.3V406.5H268.1V393.3H283H297.9V380H312.8H327.6V366.7H342.5V353.4" stroke="#c88143"/>
<path d="M74.8 619.1H92.6V545.3H110.5H128.3V530.5H146.2V486.2H164V471.5H181.9V442H199.7V427.2H217.6H235.4H253.3H271.1V412.4H289V382.9H306.8H324.7V368.2H342.5V353.4" stroke="#3d7d3d"/>
<path d="M74.8 619.1V552.7H91.5H108.3V519.5H125V453H141.7H158.5V419.8H175.2V386.6H191.9H208.6H225.4H242.1H258.8H275.6H292.3H309H325.8V353.4H342.5" stroke="#a24142"/>
<path d="M74.8 619.1V486.2H88.2V453H101.6H115V419.8H128.3H141.7V353.4H155.1H168.5H181.9H195.3H208.6H222H235.4H248.8H262.2H275.6H289H302.3H315.7H329.1H342.5" stroke="#937baa"/>
<path d="M74.8 619.1V566H88.9V539.4H103H117.1V512.8H131.2V459.7H145.2H159.3H173.4V433.1H187.5V406.5H201.6H215.7H229.8H243.9H258V380H272.1H286.1H300.2V353.4H314.3H328.4H342.5" stroke="#7a5c56"/>
<path d="M74.8 619.1V450H91.5V401.7H108.3V377.6H125V353.4H141.7H158.5H175.2H191.9H208.6H225.4H242.1H258.8H275.6H292.3H309H325.8H342.5" stroke="#ce92bc"/>
<path d="M74.8 619.1V560.1H95.4V530.5H116V501H136.6H157.2H177.8V412.4H198.4H218.9V382.9H239.5H260.1H280.7H301.3H321.9V353.4H342.5" stroke="#7f7f7f"/>
<path d="M74.8 619.1V486.2H88.9V419.8H103V397.7H117.1V375.5H131.2H145.2V353.4H159.3H173.4H187.5H201.6H215.7H229.8H243.9H258H272.1H286.1H300.2H314.3H328.4H342.5" stroke="#a5a650"/>
<path d="M74.8 619.1V569.3H95.4V536.1H116H136.6H157.2H177.8V469.6H198.4V453H218.9V436.4H239.5V419.8H260.1V403.2H280.7H301.3H321.9V370H342.5V353.4" stroke="#4ca8b1"/>
<path d="M74.8 619.1V552.7H101.6V512.8H128.3V433.1H155.1V419.8H181.9V406.5H208.6V393.3H235.4V380H262.2V366.7H289H315.7H342.5V353.4" stroke="#437394"/>
<path d="M74.8 619.1V453H90.5V419.8H106.3V353.4H122H137.8H153.5H169.3H185H200.8H216.5H232.3H248H263.8H279.5H295.3H311H326.8H342.5" stroke="#c88143"/>
<path d="M74.8 619.1V519.5H90.5V486.2H106.3V436.4H122H137.8V386.6H153.5H169.3V370H185H200.8H216.5H232.3H248V353.4H263.8H279.5H295.3H311H326.8H342.5" stroke="#3d7d3d"/>
<path d="M74.8 619.1V530.5H90.5H106.3H122H137.8V471.5H153.5V442H169.3H185H200.8V412.4H216.5H232.3H248V382.9H263.8H279.5H295.3H311H326.8V353.4H342.5" stroke="#a24142"/>
<path d="M74.8 619.1V601.4H90.5V583.7H106.3V566H122V548.2H137.8H153.5V512.8H169.3V459.7H185H200.8V424.3H216.5H232.3V406.5H248H263.8H279.5H295.3H311V388.8H326.8V371.1H342.5V353.4" stroke="#937baa"/>
<path d="M74.8 619.1V516.9H97.1H119.4H141.7V435.2H164V373.8H186.3H208.6H231H253.3H275.6H297.9H320.2V353.4H342.5" stroke="#7a5c56"/>
<path d="M74.8 619.1H95.4V603.5H116H136.6H157.2V572.2H177.8V509.7H198.4V478.4H218.9V462.8H239.5H260.1V447.2H280.7H301.3V415.9H321.9V384.7H342.5V353.4" stroke="#ce92bc"/>
<path d="M74.8 619.1V585.9H91.5H108.3V552.7H125H141.7H158.5V519.5H175.2V486.2H191.9V453H208.6H225.4H242.1V419.8H258.8H275.6H292.3H309V386.6H325.8V353.4H342.5" stroke="#7f7f7f"/>
<path d="M74.8 619.1V552.7H89.7V486.2H104.5H119.4H134.3V419.8H149.2V386.6H164H178.9H193.8H208.6H223.5H238.4H253.3H268.1H283H297.9V353.4H312.8H327.6H342.5" stroke="#a5a650"/>
<path d="M74.8 619.1H99.1V585.9H123.5V552.7H147.8V486.2H172.1H196.5V419.8H220.8H245.2H269.5H293.8V386.6H318.2V353.4H342.5" stroke="#4ca8b1"/>
<path d="M74.8 619.1V524.2H88.9V467.3H103H117.1H131.2V410.3H145.2V353.4H159.3H173.4H187.5H201.6H215.7H229.8H243.9H258H272.1H286.1H300.2H314.3H328.4H342.5" stroke="#437394"/>
<path d="M74.8 619.1V471.5H101.6V412.4H128.3V353.4H155.1H181.9H208.6H235.4H262.2H289H315.7H342.5" stroke="#c88143"/>
<path d="M74.8 619.1V578.2H104.5V496.5H134.3V476H164H193.8V414.7H223.5V394.3H253.3H283H312.8V373.8H342.5V353.4" stroke="#3d7d3d"/>
<path d="M74.8 619.1V508.4H92.6V486.2H110.5V464.1H128.3V442H146.2V375.5H164H181.9V353.4H199.7H217.6H235.4H253.3H271.1H289H306.8H324.7H342.5" stroke="#a24142"/>
<path d="M74.8 619.1V566H89.7V539.4H104.5H119.4V512.8H134.3V486.2H149.2V459.7H164V406.5H178.9H193.8V380H208.6H223.5H238.4H253.3H268.1H283H297.9H312.8H327.6V353.4H342.5" stroke="#937baa"/>
<path d="M74.8 619.1V512.8H108.3H141.7V459.7H175.2V388.8H208.6H242.1H275.6H309V353.4H342.5" stroke="#7a5c56"/>
<path d="M74.8 619.1V605.8H104.5V552.7H134.3H164V473H193.8V459.7H223.5V433.1H253.3V406.5H283H312.8V393.3H342.5V353.4" stroke="#ce92bc"/>
<path d="M74.8 619.1V530.5H95.4H116H136.6V442H157.2V412.4H177.8V382.9H198.4H218.9H239.5H260.1H280.7H301.3H321.9V353.4H342.5" stroke="#7f7f7f"/>
<path d="M74.8 619.1V563.2H108.3V507.2H141.7V479.3H175.2V395.4H208.6H242.1H275.6H309V367.4H342.5V353.4" stroke="#a5a650"/>
<path d="M74.8 619.1V519.5H104.5V436.4H134.3V353.4H164H193.8H223.5H253.3H283H312.8H342.5" stroke="#4ca8b1"/>
<path d="M74.8 619.1V546.6H88.9H103V522.5H117.1H131.2V474.2H145.2H159.3V425.9H173.4V401.7H187.5H201.6V377.6H215.7H229.8H243.9H258H272.1H286.1H300.2H314.3V353.4H328.4H342.5" stroke="#437394"/>
<path d="M74.8 619.1V512.8H88.9V495.1H103H117.1V477.4H131.2H145.2V424.3H159.3V406.5H173.4V388.8H187.5H201.6H215.7H229.8V371.1H243.9H258H272.1V353.4H286.1H300.2H314.3H328.4H342.5" stroke="#c88143"/>
<path d="M74.8 619.1V501H89.7V471.5H104.5V442H119.4H134.3V353.4H149.2H164H178.9H193.8H208.6H223.5H238.4H253.3H268.1H283H297.9H312.8H327.6H342.5" stroke="#3d7d3d"/>
<path d="M74.8 619.1H88.9V589.6H103H117.1V560.1H131.2H145.2H159.3V501H173.4V442H187.5H201.6H215.7H229.8H243.9H258H272.1H286.1H300.2V412.4H314.3H328.4V382.9H342.5V353.4" stroke="#a24142"/>
<path d="M74.8 619.1V501H93.9V471.5H113H132.2V412.4H151.3V353.4H170.4H189.5H208.6H227.8H246.9H266H285.1H304.3H323.4H342.5" stroke="#937baa"/>
<path d="M74.8 619.1V548.2H97.1V530.5H119.4V477.4H141.7V459.7H164V388.8H186.3H208.6H231H253.3H275.6V371.1H297.9V353.4H320.2H342.5" stroke="#7a5c56"/>
<path d="M74.8 619.1V601.4H89.7V583.7H104.5V548.2H119.4V530.5H134.3H149.2V495.1H164H178.9V442H193.8H208.6H223.5V424.3H238.4H253.3H268.1V406.5H283H297.9H312.8V388.8H327.6V371.1H342.5V353.4" stroke="#ce92bc"/>
<path d="M74.8 619.1V496.5H88.9V476H103H117.1V414.7H131.2H145.2H159.3H173.4V394.3H187.5H201.6V353.4H215.7H229.8H243.9H258H272.1H286.1H300.2H314.3H328.4H342.5" stroke="#7f7f7f"/>
<path d="M74.8 619.1V541H90.5V494.1H106.3H122H137.8V462.8H153.5H169.3V431.5H185V384.7H200.8H216.5H232.3H248H263.8H279.5V369H295.3H311H326.8V353.4H342.5" stroke="#a5a650"/>
<path d="M74.8 619.1V594.9H95.4V570.8H116V522.5H136.6H157.2V474.2H177.8V450H198.4H218.9V425.9H239.5H260.1V401.7H280.7V377.6H301.3H321.9V353.4H342.5" stroke="#4ca8b1"/>
<path d="M74.8 619.1V495.1H88.2H101.6V477.4H115V406.5H128.3V371.1H141.7H155.1H168.5V353.4H181.9H195.3H208.6H222H235.4H248.8H262.2H275.6H289H302.3H315.7H329.1H342.5" stroke="#437394"/>
<path d="M74.8 619.1V587.8H93.9V556.6H113H132.2V541H151.3V525.3H170.4V462.8H189.5V415.9H208.6H227.8H246.9H266H285.1V400.3H304.3V384.7H323.4V369H342.5V353.4" stroke="#c88143"/>
<path d="M74.8 619.1V570.8H97.1V546.6H119.4V522.5H141.7V474.2H164V425.9H186.3H208.6V401.7H231H253.3H275.6H297.9V377.6H320.2H342.5V353.4" stroke="#3d7d3d"/>
<path d="M74.8 619.1V543.2H90.5H106.3H122V486.2H137.8V467.3H153.5H169.3V429.3H185H200.8V391.4H216.5H232.3H248H263.8H279.5H295.3H311V353.4H326.8H342.5" stroke="#a24142"/>
<path d="M74.8 619.1H88.2H101.6H115V600.1H128.3V562.2H141.7H155.1H168.5V524.2H181.9V505.2H195.3V467.3H208.6H222H235.4H248.8V448.3H262.2H275.6H289V429.3H302.3V410.3H315.7H329.1V372.4H342.5V353.4" stroke="#937baa"/>
<path d="M74.8 619.1V552.7H95.4H116V486.2H136.6H157.2V419.8H177.8H198.4V397.7H218.9H239.5V375.5H260.1V353.4H280.7H301.3H321.9H342.5" stroke="#7a5c56"/>
<path d="M74.8 619.1V603.5H108.3V587.8H141.7V462.8H175.2H208.6V400.3H242.1H275.6H309V384.7H342.5V353.4" stroke="#ce92bc"/>
<path d="M74.8 619.1H99.1H123.5H147.8V605.1H172.1V535.2H196.5V479.3H220.8H245.2V465.3H269.5V437.3H293.8H318.2V381.4H342.5V353.4" stroke="#7f7f7f"/>
<path d="M74.8 619.1V519.5H90.5H106.3V502.9H122V469.6H137.8V436.4H153.5V403.2H169.3V370H185H200.8H216.5H232.3H248H263.8H279.5H295.3H311V353.4H326.8H342.5" stroke="#a5a650"/>
<path d="M74.8 619.1V509.7H108.3V447.2H141.7V353.4H175.2H208.6H242.1H275.6H309H342.5" stroke="#4ca8b1"/></g></g>
<polygon points="74.8,619.1 77.5,518.6 87.1,518.6 91.1,500.4 94.2,497.4 101.2,495.4 104.2,486.3 109.3,479.3 116.3,472.2 122.4,462.2 127.4,452.1 132.4,440 140,426.5 147.3,411.9 154.6,401.7 161.9,393 169.2,387.1 176.5,382 183.8,379.1 191.1,376.9 198.4,375.4 205.7,374 213,372.8 220.3,371.8 227.6,371.1 240,369.3 247.7,367.8 255.5,365.5 263.2,363.2 271,361.1 278.7,359.3 286.4,357.7 294.2,356.2 301.9,354.6 306.5,353.9 342.5,353.4 342.5,353.4 340.6,369.3 335.9,369.8 329.8,370.1 329,381 325.1,384.8 317.4,388.7 309.6,391.8 301.9,395.7 294.2,399.5 286.4,402.6 278.7,405.7 271,408.5 263.2,411.1 255.5,413.4 247.7,416.5 240,418.9 232.4,421 224.2,422.8 216.1,425.1 210.2,426.9 209.1,430.4 204.4,432.7 200.9,435 195,438.5 189.2,446.7 183.4,456.1 177.5,467.7 171.7,474.7 168.8,480 162.7,486.3 154.6,500.4 148.6,516.6 142.5,526.6 132.4,538.7 122.4,552.8 112.3,562.9 102.2,573 92.1,578 88.1,586 77.5,586" fill="#808080" fill-opacity="0.37"/>
<line x1="74.8" y1="619.1" x2="342.5" y2="353.4" stroke="#ff4d4d" stroke-width="1.3" stroke-dasharray="2.98 1.35" stroke-dashoffset="-0.2"/>
<polyline points="75,619.1 77.6,552.4 86.1,552.4 88.1,548.8 91.1,538.7 95.2,535.1 101.2,533.1 104.2,526.6 108.3,521.6 114.3,516.6 120.3,508.5 126.4,498.4 134.5,484.3 137.5,483.9 142.5,471.2 144.9,471.2 148.6,462.2 152.6,457.1 156.6,449.1 160,443.8 164.7,437.4 167.6,437.4 169.9,430.6 172.3,429.4 179.9,421 188,411.7 190.9,410.5 195,406.8 198.5,406.1 203.2,403.3 207.3,402.9 210.2,400 218.7,398.1 230.1,395.8 240,394.1 247.7,391.5 255.5,389.5 263.2,387.4 271,385.6 278.7,383.3 286.4,381.7 294.2,379.4 301.9,376.3 309.6,373.5 314.3,369.8 318.9,367.3 325.1,365.8 328.2,361.6 332.1,358 337.5,358 339.8,357 342.3,353.4" fill="none" stroke="#4040f0" stroke-width="1.25" stroke-linejoin="round"/>
<rect x="72.5" y="350.5" width="273.1" height="271.5" fill="none" stroke="#a2a2a2" stroke-width="1.25"/>
<line x1="74.8" y1="622.1" x2="74.8" y2="624.3" stroke="#a2a2a2" stroke-width="0.8"/>
<line x1="70.3" y1="619.1" x2="72.5" y2="619.1" stroke="#a2a2a2" stroke-width="0.8"/>
<text x="75.1" y="629.4" text-anchor="middle" font-size="7.4" fill="#262626">0.0</text>
<text x="69.7" y="621.5" text-anchor="end" font-size="7.4" fill="#262626">0.0</text>
<line x1="128.3" y1="622.1" x2="128.3" y2="624.3" stroke="#a2a2a2" stroke-width="0.8"/>
<line x1="70.3" y1="566" x2="72.5" y2="566" stroke="#a2a2a2" stroke-width="0.8"/>
<text x="128.6" y="629.4" text-anchor="middle" font-size="7.4" fill="#262626">0.2</text>
<text x="69.7" y="568.4" text-anchor="end" font-size="7.4" fill="#262626">0.2</text>
<line x1="181.9" y1="622.1" x2="181.9" y2="624.3" stroke="#a2a2a2" stroke-width="0.8"/>
<line x1="70.3" y1="512.8" x2="72.5" y2="512.8" stroke="#a2a2a2" stroke-width="0.8"/>
<text x="182.2" y="629.4" text-anchor="middle" font-size="7.4" fill="#262626">0.4</text>
<text x="69.7" y="515.2" text-anchor="end" font-size="7.4" fill="#262626">0.4</text>
<line x1="235.4" y1="622.1" x2="235.4" y2="624.3" stroke="#a2a2a2" stroke-width="0.8"/>
<line x1="70.3" y1="459.7" x2="72.5" y2="459.7" stroke="#a2a2a2" stroke-width="0.8"/>
<text x="235.7" y="629.4" text-anchor="middle" font-size="7.4" fill="#262626">0.6</text>
<text x="69.7" y="462.1" text-anchor="end" font-size="7.4" fill="#262626">0.6</text>
<line x1="289" y1="622.1" x2="289" y2="624.3" stroke="#a2a2a2" stroke-width="0.8"/>
<line x1="70.3" y1="406.5" x2="72.5" y2="406.5" stroke="#a2a2a2" stroke-width="0.8"/>
<text x="289.3" y="629.4" text-anchor="middle" font-size="7.4" fill="#262626">0.8</text>
<text x="69.7" y="408.9" text-anchor="end" font-size="7.4" fill="#262626">0.8</text>
<line x1="342.5" y1="622.1" x2="342.5" y2="624.3" stroke="#a2a2a2" stroke-width="0.8"/>
<line x1="70.3" y1="353.4" x2="72.5" y2="353.4" stroke="#a2a2a2" stroke-width="0.8"/>
<text x="342.8" y="629.4" text-anchor="middle" font-size="7.4" fill="#262626">1.0</text>
<text x="69.7" y="355.8" text-anchor="end" font-size="7.4" fill="#262626">1.0</text>
<text x="208.7" y="640.1" text-anchor="middle" font-size="10.3" fill="#111" stroke="#111" stroke-width="0.2" textLength="82.5" lengthAdjust="spacingAndGlyphs">False Positive Rate</text>
<text transform="translate(56.2,486.2) rotate(-90)" x="0" y="0" text-anchor="middle" font-size="10.3" fill="#111" stroke="#111" stroke-width="0.2" textLength="80" lengthAdjust="spacingAndGlyphs">True Positive Rate</text>
<rect x="168.1" y="587.8" width="172.8" height="29.1" rx="1.6" fill="#ffffff" fill-opacity="0.85" stroke="#d6d6d6" stroke-width="0.8"/>
<line x1="171.4" y1="595.1" x2="189.8" y2="595.1" stroke="#4040f0" stroke-width="1.1"/>
<rect x="171.4" y="605.5" width="18.4" height="6.8" fill="#d0d0d0"/>
<text x="197.2" y="598.5" font-size="10.0" fill="#111" stroke="#111" stroke-width="0.15" textLength="140.3" lengthAdjust="spacingAndGlyphs">Mean ROC (AUC = 0.71 ± 0.09)</text>
<text x="197.2" y="612.1" font-size="10.0" fill="#111" stroke="#111" stroke-width="0.15" textLength="57" lengthAdjust="spacingAndGlyphs">± 1 std. dev.</text>
<g><g fill="none" stroke-width="0.9" stroke-opacity="0.05"><path d="M411.4 620.6V454.4H444.9V354.7H478.4H511.9H545.5H579H612.5H646H679.5" stroke="#437394"/>
<path d="M411.4 620.6V487.6H432V437.8H452.6H473.3V421.2H493.9V404.6H514.5V371.3H535.1H555.8H576.4H597V354.7H617.6H638.3H658.9H679.5" stroke="#c88143"/>
<path d="M411.4 620.6V520.9H433.7V487.6H456.1V454.4H478.4V387.9H500.8H523.1H545.5H567.8V354.7H590.1H612.5H634.8H657.2H679.5" stroke="#3d7d3d"/>
<path d="M411.4 620.6V487.6H433.7V421.2H456.1V404.6H478.4V387.9H500.8H523.1V371.3H545.5H567.8V354.7H590.1H612.5H634.8H657.2H679.5" stroke="#a24142"/>
<path d="M411.4 620.6V413.8H425.5V354.7H439.6H453.7H467.8H482H496.1H510.2H524.3H538.4H552.5H566.6H580.7H594.8H608.9H623.1H637.2H651.3H665.4H679.5" stroke="#937baa"/>
<path d="M411.4 620.6V421.2H444.9V354.7H478.4H511.9H545.5H579H612.5H646H679.5" stroke="#7a5c56"/>
<path d="M411.4 620.6V474.4H441.2H471V447.8H500.8V407.9H530.6V368H560.3H590.1V354.7H619.9H649.7H679.5" stroke="#ce92bc"/>
<path d="M411.4 620.6V443.3H435.8V399H460.1V354.7H484.5H508.9H533.3H557.6H582H606.4H630.8H655.1H679.5" stroke="#7f7f7f"/>
<path d="M411.4 620.6V514.2H428.2H444.9H461.7V461.1H478.4H495.2V443.3H511.9V425.6H528.7V407.9H545.5V390.2H562.2H579V372.4H595.7H612.5H629.2H646V354.7H662.7H679.5" stroke="#a5a650"/>
<path d="M411.4 620.6V532H426.3V425.6H441.2H456.1H471V390.2H485.9H500.8H515.7H530.6V372.4H545.5H560.3H575.2H590.1V354.7H605H619.9H634.8H649.7H664.6H679.5" stroke="#4ca8b1"/>
<path d="M411.4 620.6V421.2H430.5V371.3H449.7V354.7H468.8H488H507.1H526.3H545.5H564.6H583.8H602.9H622H641.2H660.4H679.5" stroke="#437394"/>
<path d="M411.4 620.6V532H430.5V509.8H449.7H468.8V465.5H488V421.2H507.1V399H526.3H545.5H564.6V376.9H583.8H602.9H622V354.7H641.2H660.4H679.5" stroke="#c88143"/>
<path d="M411.4 620.6V487.6H425.5V461.1H439.6H453.7V434.5H467.8H482H496.1V381.3H510.2H524.3H538.4H552.5V354.7H566.6H580.7H594.8H608.9H623.1H637.2H651.3H665.4H679.5" stroke="#3d7d3d"/>
<path d="M411.4 620.6V554.1H432H452.6V520.9H473.3V487.6H493.9V454.4H514.5H535.1V421.2H555.8V387.9H576.4H597H617.6V354.7H638.3H658.9H679.5" stroke="#a24142"/>
<path d="M411.4 620.6V564.6H427.2V522.6H442.9V480.7H458.7V438.7H474.5H490.3H506V410.7H521.8H537.6V382.7H553.3H569.1H584.9V368.7H600.6H616.4H632.2V354.7H648H663.7H679.5" stroke="#937baa"/>
<path d="M411.4 620.6V487.6H438.2V434.5H465V407.9H491.8V381.3H518.6V354.7H545.5H572.3H599.1H625.9H652.7H679.5" stroke="#7a5c56"/>
<path d="M411.4 620.6V404.6H432V387.9H452.6V371.3H473.3V354.7H493.9H514.5H535.1H555.8H576.4H597H617.6H638.3H658.9H679.5" stroke="#ce92bc"/>
<path d="M411.4 620.6V421.2H441.2V399H471V354.7H500.8H530.6H560.3H590.1H619.9H649.7H679.5" stroke="#7f7f7f"/>
<path d="M411.4 620.6V579.7H433.7H456.1V559.2H478.4V477.4H500.8V457H523.1V436.5H545.5V416.1H567.8V395.6H590.1V375.2H612.5H634.8V354.7H657.2H679.5" stroke="#a5a650"/>
<path d="M411.4 620.6V506.6H427.2V468.7H442.9V430.7H458.7V411.7H474.5H490.3V392.7H506H521.8V373.7H537.6V354.7H553.3H569.1H584.9H600.6H616.4H632.2H648H663.7H679.5" stroke="#4ca8b1"/>
<path d="M411.4 620.6V499.7H441.2V403H471H500.8H530.6V378.9H560.3H590.1V354.7H619.9H649.7H679.5" stroke="#437394"/>
<path d="M411.4 620.6V496.5H432V443.3H452.6H473.3V425.6H493.9V407.9H514.5V372.4H535.1H555.8H576.4V354.7H597H617.6H638.3H658.9H679.5" stroke="#c88143"/>
<path d="M411.4 620.6V461.1H438.2V443.3H465V390.2H491.8H518.6V354.7H545.5H572.3H599.1H625.9H652.7H679.5" stroke="#3d7d3d"/>
<path d="M411.4 620.6V427.2H444.9V378.9H478.4H511.9V354.7H545.5H579H612.5H646H679.5" stroke="#a24142"/>
<path d="M411.4 620.6V514.2H438.2V461.1H465V381.3H491.8H518.6H545.5V354.7H572.3H599.1H625.9H652.7H679.5" stroke="#937baa"/>
<path d="M411.4 620.6V487.6H433.7V387.9H456.1H478.4V354.7H500.8H523.1H545.5H567.8H590.1H612.5H634.8H657.2H679.5" stroke="#7a5c56"/>
<path d="M411.4 620.6V451.4H433.7V427.2H456.1V378.9H478.4H500.8V354.7H523.1H545.5H567.8H590.1H612.5H634.8H657.2H679.5" stroke="#ce92bc"/>
<path d="M411.4 620.6V538.8H435.8V436.5H460.1H484.5V395.6H508.9V375.2H533.3H557.6H582V354.7H606.4H630.8H655.1H679.5" stroke="#7f7f7f"/>
<path d="M411.4 620.6V434.5H427.2V407.9H442.9H458.7H474.5V381.3H490.3V354.7H506H521.8H537.6H553.3H569.1H584.9H600.6H616.4H632.2H648H663.7H679.5" stroke="#a5a650"/>
<path d="M411.4 620.6V502.4H424.8V443.3H438.2H451.6V413.8H465H478.4V384.2H491.8H505.2H518.6H532V354.7H545.5H558.9H572.3H585.7H599.1H612.5H625.9H639.3H652.7H666.1H679.5" stroke="#4ca8b1"/>
<path d="M411.4 620.6V487.6H429.3V421.2H447.1H465V387.9H482.9H500.8H518.6H536.5V354.7H554.4H572.3H590.1H608H625.9H643.8H661.6H679.5" stroke="#437394"/>
<path d="M411.4 620.6V509.8H435.8V443.3H460.1V421.2H484.5V399H508.9V376.9H533.3H557.6V354.7H582H606.4H630.8H655.1H679.5" stroke="#c88143"/>
<path d="M411.4 620.6V544.6H441.2V449.7H471V430.7H500.8H530.6V392.7H560.3V373.7H590.1H619.9V354.7H649.7H679.5" stroke="#3d7d3d"/>
<path d="M411.4 620.6V594H428.2V487.6H444.9H461.7V461.1H478.4H495.2V434.5H511.9V407.9H528.7H545.5H562.2V381.3H579H595.7H612.5H629.2V354.7H646H662.7H679.5" stroke="#a24142"/>
<path d="M411.4 620.6V499.7H430.5V451.4H449.7V378.9H468.8H488H507.1H526.3V354.7H545.5H564.6H583.8H602.9H622H641.2H660.4H679.5" stroke="#937baa"/>
<path d="M411.4 620.6V487.6H426.3H441.2V474.4H456.1V461.1H471V447.8H485.9V421.2H500.8V407.9H515.7V381.3H530.6H545.5V368H560.3H575.2H590.1H605V354.7H619.9H634.8H649.7H664.6H679.5" stroke="#7a5c56"/>
<path d="M411.4 620.6V587.4H438.2V520.9H465V421.2H491.8H518.6V387.9H545.5H572.3H599.1V354.7H625.9H652.7H679.5" stroke="#ce92bc"/>
<path d="M411.4 620.6V523.9H435.8V451.4H460.1H484.5V403H508.9H533.3V378.9H557.6H582V354.7H606.4H630.8H655.1H679.5" stroke="#7f7f7f"/>
<path d="M411.4 620.6V487.6H426.3H441.2V421.2H456.1H471H485.9V387.9H500.8H515.7H530.6H545.5H560.3V354.7H575.2H590.1H605H619.9H634.8H649.7H664.6H679.5" stroke="#a5a650"/>
<path d="M411.4 620.6V373.7H428.2H444.9V354.7H461.7H478.4H495.2H511.9H528.7H545.5H562.2H579H595.7H612.5H629.2H646H662.7H679.5" stroke="#4ca8b1"/>
<path d="M411.4 620.6V477.4H429.3V436.5H447.1V416.1H465V375.2H482.9V354.7H500.8H518.6H536.5H554.4H572.3H590.1H608H625.9H643.8H661.6H679.5" stroke="#437394"/>
<path d="M411.4 620.6V585.1H426.3V532H441.2V461.1H456.1H471H485.9H500.8V425.6H515.7V407.9H530.6H545.5H560.3V390.2H575.2V372.4H590.1H605H619.9H634.8H649.7V354.7H664.6H679.5" stroke="#c88143"/>
<path d="M411.4 620.6V479.8H428.2H444.9V432.9H461.7H478.4V386H495.2H511.9H528.7V370.3H545.5H562.2H579H595.7V354.7H612.5H629.2H646H662.7H679.5" stroke="#3d7d3d"/>
<path d="M411.4 620.6V511.1H435.8V464.2H460.1V417.3H484.5V401.6H508.9V386H533.3H557.6V370.3H582H606.4V354.7H630.8H655.1H679.5" stroke="#a24142"/>
<path d="M411.4 620.6V494.6H424.8V480.7H438.2V466.7H451.6V424.7H465H478.4H491.8V410.7H505.2H518.6V382.7H532H545.5H558.9H572.3V368.7H585.7H599.1H612.5V354.7H625.9H639.3H652.7H666.1H679.5" stroke="#937baa"/>
<path d="M411.4 620.6V472.9H432H452.6V443.3H473.3V384.2H493.9H514.5H535.1V354.7H555.8H576.4H597H617.6H638.3H658.9H679.5" stroke="#7a5c56"/>
<path d="M411.4 620.6V497.9H435.8V477.4H460.1V436.5H484.5V416.1H508.9V395.6H533.3H557.6H582V375.2H606.4H630.8V354.7H655.1H679.5" stroke="#ce92bc"/>
<path d="M411.4 620.6V487.6H432V434.5H452.6V407.9H473.3V381.3H493.9H514.5H535.1H555.8V354.7H576.4H597H617.6H638.3H658.9H679.5" stroke="#7f7f7f"/>
<path d="M411.4 620.6V480.7H425.5V438.7H439.6H453.7V424.7H467.8V396.7H482H496.1H510.2V382.7H524.3H538.4H552.5V368.7H566.6V354.7H580.7H594.8H608.9H623.1H637.2H651.3H665.4H679.5" stroke="#a5a650"/>
<path d="M411.4 620.6V461.1H426.3V434.5H441.2V394.6H456.1H471V381.3H485.9V354.7H500.8H515.7H530.6H545.5H560.3H575.2H590.1H605H619.9H634.8H649.7H664.6H679.5" stroke="#4ca8b1"/>
<path d="M411.4 620.6V517.2H427.2V487.6H442.9V458.1H458.7V428.6H474.5H490.3V369.5H506V354.7H521.8H537.6H553.3H569.1H584.9H600.6H616.4H632.2H648H663.7H679.5" stroke="#437394"/>
<path d="M411.4 620.6V443.3H425.5H439.6V413.8H453.7V384.2H467.8H482H496.1H510.2V354.7H524.3H538.4H552.5H566.6H580.7H594.8H608.9H623.1H637.2H651.3H665.4H679.5" stroke="#c88143"/>
<path d="M411.4 620.6V449.7H444.9V430.7H478.4V392.7H511.9V373.7H545.5H579H612.5V354.7H646H679.5" stroke="#3d7d3d"/>
<path d="M411.4 620.6V573.7H430.5V526.8H449.7V479.8H468.8V464.2H488V417.3H507.1H526.3V401.6H545.5H564.6V386H583.8H602.9V370.3H622H641.2V354.7H660.4H679.5" stroke="#a24142"/>
<path d="M411.4 620.6V520.9H426.3V454.4H441.2H456.1H471V387.9H485.9H500.8H515.7H530.6H545.5H560.3V354.7H575.2H590.1H605H619.9H634.8H649.7H664.6H679.5" stroke="#937baa"/>
<path d="M411.4 620.6V443.3H433.7V413.8H456.1H478.4V354.7H500.8H523.1H545.5H567.8H590.1H612.5H634.8H657.2H679.5" stroke="#7a5c56"/>
<path d="M411.4 620.6V434.5H441.2V394.6H471V381.3H500.8V368H530.6H560.3V354.7H590.1H619.9H649.7H679.5" stroke="#ce92bc"/>
<path d="M411.4 620.6V594H426.3V527.5H441.2H456.1V487.6H471V474.4H485.9V434.5H500.8V407.9H515.7V394.6H530.6H545.5H560.3V381.3H575.2V368H590.1H605H619.9H634.8H649.7V354.7H664.6H679.5" stroke="#7f7f7f"/>
<path d="M411.4 620.6V443.3H429.3H447.1V372.4H465H482.9V354.7H500.8H518.6H536.5H554.4H572.3H590.1H608H625.9H643.8H661.6H679.5" stroke="#a5a650"/>
<path d="M411.4 620.6V480.7H441.2V410.7H471H500.8V382.7H530.6V368.7H560.3H590.1H619.9V354.7H649.7H679.5" stroke="#4ca8b1"/>
<path d="M411.4 620.6V525.6H426.3V487.6H441.2V468.7H456.1V430.7H471H485.9V411.7H500.8V392.7H515.7H530.6H545.5V373.7H560.3H575.2V354.7H590.1H605H619.9H634.8H649.7H664.6H679.5" stroke="#437394"/>
<path d="M411.4 620.6V502.4H438.2V472.9H465V443.3H491.8V413.8H518.6V384.2H545.5H572.3H599.1V354.7H625.9H652.7H679.5" stroke="#c88143"/>
<path d="M411.4 620.6V376.9H426.3V354.7H441.2H456.1H471H485.9H500.8H515.7H530.6H545.5H560.3H575.2H590.1H605H619.9H634.8H649.7H664.6H679.5" stroke="#3d7d3d"/>
<path d="M411.4 620.6V457H444.9V395.6H478.4H511.9V375.2H545.5H579V354.7H612.5H646H679.5" stroke="#a24142"/>
<path d="M411.4 620.6V508.6H435.8V480.7H460.1V410.7H484.5H508.9V382.7H533.3H557.6V368.7H582H606.4H630.8V354.7H655.1H679.5" stroke="#937baa"/>
<path d="M411.4 620.6V502.4H426.3H441.2V443.3H456.1V413.8H471V384.2H485.9H500.8H515.7H530.6H545.5V354.7H560.3H575.2H590.1H605H619.9H634.8H649.7H664.6H679.5" stroke="#7a5c56"/>
<path d="M411.4 620.6V514.2H433.7V434.5H456.1H478.4H500.8V407.9H523.1V354.7H545.5H567.8H590.1H612.5H634.8H657.2H679.5" stroke="#ce92bc"/>
<path d="M411.4 620.6V434.5H444.9V354.7H478.4H511.9H545.5H579H612.5H646H679.5" stroke="#7f7f7f"/>
<path d="M411.4 620.6V518.3H433.7V497.9H456.1V457H478.4V416.1H500.8V395.6H523.1H545.5V375.2H567.8H590.1V354.7H612.5H634.8H657.2H679.5" stroke="#a5a650"/>
<path d="M411.4 620.6V487.6H438.2V454.4H465H491.8V421.2H518.6V387.9H545.5H572.3H599.1V354.7H625.9H652.7H679.5" stroke="#4ca8b1"/>
<path d="M411.4 620.6V430.7H427.2V411.7H442.9V392.7H458.7V354.7H474.5H490.3H506H521.8H537.6H553.3H569.1H584.9H600.6H616.4H632.2H648H663.7H679.5" stroke="#437394"/>
<path d="M411.4 620.6V354.7H429.3H447.1H465H482.9H500.8H518.6H536.5H554.4H572.3H590.1H608H625.9H643.8H661.6H679.5" stroke="#c88143"/>
<path d="M411.4 620.6V461.1H425.5V434.5H439.6H453.7H467.8V381.3H482H496.1H510.2H524.3H538.4H552.5V354.7H566.6H580.7H594.8H608.9H623.1H637.2H651.3H665.4H679.5" stroke="#3d7d3d"/>
<path d="M411.4 620.6V454.4H435.8V437.8H460.1H484.5V387.9H508.9H533.3H557.6H582V371.3H606.4V354.7H630.8H655.1H679.5" stroke="#a24142"/>
<path d="M411.4 620.6V496.5H425.5V478.8H439.6V461.1H453.7V425.6H467.8H482V372.4H496.1H510.2H524.3H538.4V354.7H552.5H566.6H580.7H594.8H608.9H623.1H637.2H651.3H665.4H679.5" stroke="#937baa"/>
<path d="M411.4 620.6V509.8H427.2V487.6H442.9H458.7V421.2H474.5H490.3H506V399H521.8H537.6H553.3V376.9H569.1H584.9V354.7H600.6H616.4H632.2H648H663.7H679.5" stroke="#7a5c56"/>
<path d="M411.4 620.6V532H433.7V413.8H456.1H478.4V399H500.8V384.2H523.1H545.5V369.5H567.8H590.1H612.5V354.7H634.8H657.2H679.5" stroke="#ce92bc"/>
<path d="M411.4 620.6V495.5H428.2V432.9H444.9V386H461.7H478.4V370.3H495.2H511.9V354.7H528.7H545.5H562.2H579H595.7H612.5H629.2H646H662.7H679.5" stroke="#7f7f7f"/>
<path d="M411.4 620.6V525.6H427.2V506.6H442.9V468.7H458.7V430.7H474.5H490.3V411.7H506V354.7H521.8H537.6H553.3H569.1H584.9H600.6H616.4H632.2H648H663.7H679.5" stroke="#a5a650"/>
<path d="M411.4 620.6V461.1H428.2V407.9H444.9V381.3H461.7V354.7H478.4H495.2H511.9H528.7H545.5H562.2H579H595.7H612.5H629.2H646H662.7H679.5" stroke="#4ca8b1"/>
<path d="M411.4 620.6V536.6H429.3V466.7H447.1V452.7H465V424.7H482.9V410.7H500.8V382.7H518.6H536.5H554.4H572.3V368.7H590.1V354.7H608H625.9H643.8H661.6H679.5" stroke="#437394"/>
<path d="M411.4 620.6V464.2H425.5V448.5H439.6V417.3H453.7H467.8H482V401.6H496.1H510.2V386H524.3V370.3H538.4H552.5V354.7H566.6H580.7H594.8H608.9H623.1H637.2H651.3H665.4H679.5" stroke="#c88143"/>
<path d="M411.4 620.6V509.8H444.9V465.5H478.4V421.2H511.9V399H545.5H579V376.9H612.5V354.7H646H679.5" stroke="#3d7d3d"/>
<path d="M411.4 620.6V487.6H432V437.8H452.6V387.9H473.3V371.3H493.9H514.5H535.1H555.8V354.7H576.4H597H617.6H638.3H658.9H679.5" stroke="#a24142"/>
<path d="M411.4 620.6V526.8H438.2V464.2H465V417.3H491.8H518.6V370.3H545.5H572.3H599.1V354.7H625.9H652.7H679.5" stroke="#937baa"/>
<path d="M411.4 620.6V514.2H438.2V447.8H465V407.9H491.8V394.6H518.6V368H545.5V354.7H572.3H599.1H625.9H652.7H679.5" stroke="#7a5c56"/>
<path d="M411.4 620.6V465.5H438.2H465V421.2H491.8V376.9H518.6V354.7H545.5H572.3H599.1H625.9H652.7H679.5" stroke="#ce92bc"/>
<path d="M411.4 620.6V472.9H438.2V443.3H465V399H491.8H518.6V369.5H545.5V354.7H572.3H599.1H625.9H652.7H679.5" stroke="#7f7f7f"/>
<path d="M411.4 620.6V454.4H424.8V421.2H438.2V387.9H451.6H465V354.7H478.4H491.8H505.2H518.6H532H545.5H558.9H572.3H585.7H599.1H612.5H625.9H639.3H652.7H666.1H679.5" stroke="#a5a650"/>
<path d="M411.4 620.6V425.6H433.7V390.2H456.1V354.7H478.4H500.8H523.1H545.5H567.8H590.1H612.5H634.8H657.2H679.5" stroke="#4ca8b1"/>
<path d="M411.4 620.6V567.4H441.2V434.5H471V407.9H500.8H530.6V381.3H560.3H590.1V354.7H619.9H649.7H679.5" stroke="#437394"/>
<path d="M411.4 620.6V413.8H433.7V354.7H456.1H478.4H500.8H523.1H545.5H567.8H590.1H612.5H634.8H657.2H679.5" stroke="#c88143"/>
<path d="M411.4 620.6V502.4H433.7V487.6H456.1V472.9H478.4V428.6H500.8V384.2H523.1H545.5H567.8V369.5H590.1H612.5H634.8V354.7H657.2H679.5" stroke="#3d7d3d"/>
<path d="M411.4 620.6V518.3H426.3V497.9H441.2V436.5H456.1H471V395.6H485.9H500.8H515.7V375.2H530.6H545.5H560.3V354.7H575.2H590.1H605H619.9H634.8H649.7H664.6H679.5" stroke="#a24142"/>
<path d="M411.4 620.6V522.6H424.8V494.6H438.2V452.7H451.6V438.7H465V424.7H478.4V410.7H491.8V396.7H505.2H518.6V382.7H532V354.7H545.5H558.9H572.3H585.7H599.1H612.5H625.9H639.3H652.7H666.1H679.5" stroke="#937baa"/>
<path d="M411.4 620.6V570.7H429.3V504.3H447.1H465H482.9V487.6H500.8V421.2H518.6V404.6H536.5H554.4H572.3V387.9H590.1V371.3H608H625.9H643.8V354.7H661.6H679.5" stroke="#7a5c56"/>
<path d="M411.4 620.6V487.6H429.3V468.7H447.1V449.7H465V430.7H482.9V411.7H500.8V354.7H518.6H536.5H554.4H572.3H590.1H608H625.9H643.8H661.6H679.5" stroke="#ce92bc"/>
<path d="M411.4 620.6V411.7H429.3V373.7H447.1V354.7H465H482.9H500.8H518.6H536.5H554.4H572.3H590.1H608H625.9H643.8H661.6H679.5" stroke="#7f7f7f"/>
<path d="M411.4 620.6V454.4H433.7V421.2H456.1H478.4V387.9H500.8H523.1V354.7H545.5H567.8H590.1H612.5H634.8H657.2H679.5" stroke="#a5a650"/>
<path d="M411.4 620.6V522.6H426.3V494.6H441.2V466.7H456.1H471V410.7H485.9V382.7H500.8H515.7H530.6V368.7H545.5H560.3H575.2H590.1H605V354.7H619.9H634.8H649.7H664.6H679.5" stroke="#4ca8b1"/>
<path d="M411.4 620.6V410.7H427.2H442.9V396.7H458.7V354.7H474.5H490.3H506H521.8H537.6H553.3H569.1H584.9H600.6H616.4H632.2H648H663.7H679.5" stroke="#437394"/>
<path d="M411.4 620.6V474.4H426.3H441.2V461.1H456.1V434.5H471V407.9H485.9V394.6H500.8V381.3H515.7H530.6V368H545.5V354.7H560.3H575.2H590.1H605H619.9H634.8H649.7H664.6H679.5" stroke="#c88143"/>
<path d="M411.4 620.6V526.8H444.9V464.2H478.4V432.9H511.9V386H545.5H579V370.3H612.5V354.7H646H679.5" stroke="#3d7d3d"/>
<path d="M411.4 620.6V471H425.5H439.6V454.4H453.7V421.2H467.8V404.6H482H496.1V371.3H510.2H524.3V354.7H538.4H552.5H566.6H580.7H594.8H608.9H623.1H637.2H651.3H665.4H679.5" stroke="#a24142"/>
<path d="M411.4 620.6V487.6H432V399H452.6H473.3V369.5H493.9V354.7H514.5H535.1H555.8H576.4H597H617.6H638.3H658.9H679.5" stroke="#937baa"/>
<path d="M411.4 620.6V477.4H424.8H438.2V436.5H451.6V416.1H465V395.6H478.4H491.8V375.2H505.2H518.6H532H545.5H558.9V354.7H572.3H585.7H599.1H612.5H625.9H639.3H652.7H666.1H679.5" stroke="#7a5c56"/>
<path d="M411.4 620.6V416.1H438.2H465V375.2H491.8V354.7H518.6H545.5H572.3H599.1H625.9H652.7H679.5" stroke="#ce92bc"/>
<path d="M411.4 620.6V443.3H429.3V428.6H447.1V399H465H482.9V354.7H500.8H518.6H536.5H554.4H572.3H590.1H608H625.9H643.8H661.6H679.5" stroke="#7f7f7f"/>
<path d="M411.4 620.6V554.1H430.5V487.6H449.7V454.4H468.8V421.2H488H507.1V387.9H526.3H545.5H564.6H583.8V354.7H602.9H622H641.2H660.4H679.5" stroke="#a5a650"/>
<path d="M411.4 620.6V387.9H435.8V354.7H460.1H484.5H508.9H533.3H557.6H582H606.4H630.8H655.1H679.5" stroke="#4ca8b1"/>
<path d="M411.4 620.6V480.7H426.3V452.7H441.2V424.7H456.1H471H485.9V382.7H500.8V368.7H515.7H530.6V354.7H545.5H560.3H575.2H590.1H605H619.9H634.8H649.7H664.6H679.5" stroke="#437394"/>
<path d="M411.4 620.6V416.1H435.8V354.7H460.1H484.5H508.9H533.3H557.6H582H606.4H630.8H655.1H679.5" stroke="#c88143"/>
<path d="M411.4 620.6V527.5H433.7V447.8H456.1V421.2H478.4V407.9H500.8V394.6H523.1V381.3H545.5H567.8V368H590.1H612.5H634.8V354.7H657.2H679.5" stroke="#3d7d3d"/>
<path d="M411.4 620.6V572.3H427.2V523.9H442.9V499.7H458.7H474.5V451.4H490.3V427.2H506V403H521.8H537.6H553.3V378.9H569.1H584.9H600.6H616.4H632.2V354.7H648H663.7H679.5" stroke="#a24142"/>
<path d="M411.4 620.6V572.3H444.9V499.7H478.4V451.4H511.9V403H545.5V378.9H579H612.5H646V354.7H679.5" stroke="#937baa"/>
<path d="M411.4 620.6V487.6H428.2V354.7H444.9H461.7H478.4H495.2H511.9H528.7H545.5H562.2H579H595.7H612.5H629.2H646H662.7H679.5" stroke="#7a5c56"/>
<path d="M411.4 620.6V606.6H441.2V536.6H471V480.7H500.8V438.7H530.6V424.7H560.3V396.7H590.1V382.7H619.9V368.7H649.7V354.7H679.5" stroke="#ce92bc"/>
<path d="M411.4 620.6V447.8H444.9V434.5H478.4V407.9H511.9V368H545.5H579H612.5V354.7H646H679.5" stroke="#7f7f7f"/>
<path d="M411.4 620.6V532H425.5V517.2H439.6V502.4H453.7V443.3H467.8H482V413.8H496.1H510.2H524.3H538.4V384.2H552.5V369.5H566.6H580.7H594.8H608.9H623.1H637.2V354.7H651.3H665.4H679.5" stroke="#a5a650"/>
<path d="M411.4 620.6V376.9H432H452.6V354.7H473.3H493.9H514.5H535.1H555.8H576.4H597H617.6H638.3H658.9H679.5" stroke="#4ca8b1"/>
<path d="M411.4 620.6V454.4H433.7V437.8H456.1V387.9H478.4V371.3H500.8H523.1H545.5V354.7H567.8H590.1H612.5H634.8H657.2H679.5" stroke="#437394"/>
<path d="M411.4 620.6V532H428.2V517.2H444.9H461.7V458.1H478.4V428.6H495.2H511.9V384.2H528.7H545.5H562.2H579H595.7V369.5H612.5H629.2H646V354.7H662.7H679.5" stroke="#c88143"/>
<path d="M411.4 620.6V514.2H444.9V434.5H478.4H511.9V381.3H545.5H579H612.5V354.7H646H679.5" stroke="#3d7d3d"/>
<path d="M411.4 620.6V499.7H425.5V475.6H439.6H453.7V427.2H467.8V403H482H496.1H510.2H524.3V378.9H538.4V354.7H552.5H566.6H580.7H594.8H608.9H623.1H637.2H651.3H665.4H679.5" stroke="#a24142"/>
<path d="M411.4 620.6V567.4H426.3H441.2V496.5H456.1V461.1H471H485.9H500.8V425.6H515.7V407.9H530.6H545.5V390.2H560.3H575.2V372.4H590.1H605H619.9V354.7H634.8H649.7H664.6H679.5" stroke="#937baa"/>
<path d="M411.4 620.6V582.6H424.8V525.6H438.2H451.6V506.6H465V487.6H478.4V468.7H491.8V449.7H505.2H518.6V430.7H532V411.7H545.5H558.9V392.7H572.3H585.7H599.1V373.7H612.5H625.9H639.3H652.7V354.7H666.1H679.5" stroke="#7a5c56"/>
<path d="M411.4 620.6V472.9H424.8V413.8H438.2V399H451.6V354.7H465H478.4H491.8H505.2H518.6H532H545.5H558.9H572.3H585.7H599.1H612.5H625.9H639.3H652.7H666.1H679.5" stroke="#ce92bc"/>
<path d="M411.4 620.6V514.2H432V461.1H452.6V434.5H473.3H493.9V381.3H514.5H535.1H555.8H576.4V354.7H597H617.6H638.3H658.9H679.5" stroke="#7f7f7f"/>
<path d="M411.4 620.6V487.6H428.2V461.1H444.9H461.7V434.5H478.4V407.9H495.2H511.9V381.3H528.7V354.7H545.5H562.2H579H595.7H612.5H629.2H646H662.7H679.5" stroke="#a5a650"/>
<path d="M411.4 620.6V487.6H429.3V443.3H447.1V399H465H482.9H500.8H518.6V376.9H536.5H554.4H572.3V354.7H590.1H608H625.9H643.8H661.6H679.5" stroke="#4ca8b1"/>
<path d="M411.4 620.6V520.9H428.2V487.6H444.9V454.4H461.7H478.4V404.6H495.2V387.9H511.9H528.7H545.5V371.3H562.2H579V354.7H595.7H612.5H629.2H646H662.7H679.5" stroke="#437394"/>
<path d="M411.4 620.6V461.1H427.2V434.5H442.9H458.7V407.9H474.5H490.3H506H521.8V381.3H537.6H553.3V354.7H569.1H584.9H600.6H616.4H632.2H648H663.7H679.5" stroke="#c88143"/>
<path d="M411.4 620.6V564.6H435.8V550.6H460.1V494.6H484.5V466.7H508.9V424.7H533.3V410.7H557.6V396.7H582V368.7H606.4H630.8H655.1V354.7H679.5" stroke="#3d7d3d"/>
<path d="M411.4 620.6V514.2H433.7V478.8H456.1V425.6H478.4V407.9H500.8V372.4H523.1H545.5H567.8H590.1V354.7H612.5H634.8H657.2H679.5" stroke="#a24142"/>
<path d="M411.4 620.6V461.1H435.8H460.1V407.9H484.5H508.9V381.3H533.3V354.7H557.6H582H606.4H630.8H655.1H679.5" stroke="#937baa"/>
<path d="M411.4 620.6V517.2H426.3V472.9H441.2V458.1H456.1V428.6H471V399H485.9H500.8V384.2H515.7H530.6H545.5H560.3V369.5H575.2H590.1H605V354.7H619.9H634.8H649.7H664.6H679.5" stroke="#7a5c56"/>
<path d="M411.4 620.6V542.4H426.3V526.8H441.2V511.1H456.1V479.8H471V448.5H485.9V432.9H500.8H515.7V417.3H530.6H545.5V401.6H560.3V386H575.2H590.1H605V370.3H619.9H634.8H649.7V354.7H664.6H679.5" stroke="#ce92bc"/>
<path d="M411.4 620.6V509.8H441.2V443.3H471H500.8V399H530.6H560.3V376.9H590.1V354.7H619.9H649.7H679.5" stroke="#7f7f7f"/>
<path d="M411.4 620.6V401.6H428.2V386H444.9V354.7H461.7H478.4H495.2H511.9H528.7H545.5H562.2H579H595.7H612.5H629.2H646H662.7H679.5" stroke="#a5a650"/>
<path d="M411.4 620.6V487.6H427.2V461.1H442.9V434.5H458.7V407.9H474.5H490.3H506V381.3H521.8V354.7H537.6H553.3H569.1H584.9H600.6H616.4H632.2H648H663.7H679.5" stroke="#4ca8b1"/>
<path d="M411.4 620.6V523.9H424.8V475.6H438.2H451.6H465V451.4H478.4H491.8V427.2H505.2V403H518.6H532H545.5V378.9H558.9H572.3V354.7H585.7H599.1H612.5H625.9H639.3H652.7H666.1H679.5" stroke="#437394"/>
<path d="M411.4 620.6V494.6H432V466.7H452.6V438.7H473.3V368.7H493.9H514.5V354.7H535.1H555.8H576.4H597H617.6H638.3H658.9H679.5" stroke="#c88143"/>
<path d="M411.4 620.6V487.6H424.8V449.7H438.2V430.7H451.6V411.7H465H478.4V392.7H491.8V354.7H505.2H518.6H532H545.5H558.9H572.3H585.7H599.1H612.5H625.9H639.3H652.7H666.1H679.5" stroke="#3d7d3d"/>
<path d="M411.4 620.6V523.9H427.2V499.7H442.9V451.4H458.7V427.2H474.5H490.3V378.9H506H521.8H537.6H553.3V354.7H569.1H584.9H600.6H616.4H632.2H648H663.7H679.5" stroke="#a24142"/>
<path d="M411.4 620.6V438.7H441.2V382.7H471V354.7H500.8H530.6H560.3H590.1H619.9H649.7H679.5" stroke="#937baa"/>
<path d="M411.4 620.6H424.8V587.4H438.2V554.1H451.6V487.6H465H478.4H491.8H505.2V454.4H518.6H532V421.2H545.5H558.9V387.9H572.3H585.7H599.1H612.5H625.9V354.7H639.3H652.7H666.1H679.5" stroke="#7a5c56"/>
<path d="M411.4 620.6V532H428.2H444.9V487.6H461.7H478.4V465.5H495.2V443.3H511.9V399H528.7H545.5H562.2V376.9H579H595.7H612.5V354.7H629.2H646H662.7H679.5" stroke="#ce92bc"/>
<path d="M411.4 620.6V540.8H424.8V487.6H438.2V461.1H451.6H465V434.5H478.4V407.9H491.8H505.2H518.6H532V381.3H545.5H558.9H572.3H585.7H599.1V354.7H612.5H625.9H639.3H652.7H666.1H679.5" stroke="#7f7f7f"/>
<path d="M411.4 620.6V497.9H432V477.4H452.6V436.5H473.3V395.6H493.9H514.5V375.2H535.1H555.8H576.4H597V354.7H617.6H638.3H658.9H679.5" stroke="#a5a650"/>
<path d="M411.4 620.6V461.1H429.3V447.8H447.1V394.6H465V368H482.9H500.8H518.6H536.5V354.7H554.4H572.3H590.1H608H625.9H643.8H661.6H679.5" stroke="#4ca8b1"/>
<path d="M411.4 620.6V458.1H438.2V399H465H491.8V384.2H518.6V354.7H545.5H572.3H599.1H625.9H652.7H679.5" stroke="#437394"/>
<path d="M411.4 620.6V487.6H435.8V381.3H460.1H484.5V354.7H508.9H533.3H557.6H582H606.4H630.8H655.1H679.5" stroke="#c88143"/>
<path d="M411.4 620.6V522.6H428.2V494.6H444.9V410.7H461.7H478.4H495.2V396.7H511.9H528.7V382.7H545.5H562.2V368.7H579V354.7H595.7H612.5H629.2H646H662.7H679.5" stroke="#3d7d3d"/>
<path d="M411.4 620.6V454.4H432V421.2H452.6V371.3H473.3H493.9V354.7H514.5H535.1H555.8H576.4H597H617.6H638.3H658.9H679.5" stroke="#a24142"/>
<path d="M411.4 620.6V478.8H432V407.9H452.6H473.3H493.9V390.2H514.5V372.4H535.1H555.8V354.7H576.4H597H617.6H638.3H658.9H679.5" stroke="#937baa"/>
<path d="M411.4 620.6V421.2H432V387.9H452.6H473.3H493.9V354.7H514.5H535.1H555.8H576.4H597H617.6H638.3H658.9H679.5" stroke="#7a5c56"/>
<path d="M411.4 620.6V457H433.7V436.5H456.1V416.1H478.4V354.7H500.8H523.1H545.5H567.8H590.1H612.5H634.8H657.2H679.5" stroke="#ce92bc"/>
<path d="M411.4 620.6V591.1H425.5V546.7H439.6H453.7V517.2H467.8V487.6H482H496.1V458.1H510.2V413.8H524.3H538.4H552.5V399H566.6H580.7V384.2H594.8V369.5H608.9H623.1H637.2H651.3V354.7H665.4H679.5" stroke="#7f7f7f"/>
<path d="M411.4 620.6V443.3H430.5V413.8H449.7H468.8H488V384.2H507.1V354.7H526.3H545.5H564.6H583.8H602.9H622H641.2H660.4H679.5" stroke="#a5a650"/>
<path d="M411.4 620.6V546.7H432V487.6H452.6V428.6H473.3V413.8H493.9V399H514.5V384.2H535.1V369.5H555.8H576.4H597V354.7H617.6H638.3H658.9H679.5" stroke="#4ca8b1"/>
<path d="M411.4 620.6V413.8H424.8V399H438.2V354.7H451.6H465H478.4H491.8H505.2H518.6H532H545.5H558.9H572.3H585.7H599.1H612.5H625.9H639.3H652.7H666.1H679.5" stroke="#437394"/>
<path d="M411.4 620.6V454.4H435.8V421.2H460.1V354.7H484.5H508.9H533.3H557.6H582H606.4H630.8H655.1H679.5" stroke="#c88143"/>
<path d="M411.4 620.6V544.6H428.2H444.9V506.6H461.7H478.4H495.2V468.7H511.9V430.7H528.7H545.5V411.7H562.2V392.7H579H595.7H612.5V373.7H629.2H646V354.7H662.7H679.5" stroke="#3d7d3d"/>
<path d="M411.4 620.6V454.4H438.2V437.8H465V421.2H491.8V387.9H518.6V371.3H545.5V354.7H572.3H599.1H625.9H652.7H679.5" stroke="#a24142"/>
<path d="M411.4 620.6V478.8H441.2V425.6H471V390.2H500.8V372.4H530.6H560.3V354.7H590.1H619.9H649.7H679.5" stroke="#937baa"/>
<path d="M411.4 620.6V554.1H426.3V509.8H441.2H456.1V487.6H471V465.5H485.9V421.2H500.8H515.7V376.9H530.6H545.5H560.3H575.2H590.1H605H619.9V354.7H634.8H649.7H664.6H679.5" stroke="#7a5c56"/>
<path d="M411.4 620.6V496.5H425.5V461.1H439.6H453.7H467.8V390.2H482H496.1H510.2H524.3H538.4V372.4H552.5H566.6V354.7H580.7H594.8H608.9H623.1H637.2H651.3H665.4H679.5" stroke="#ce92bc"/>
<path d="M411.4 620.6V465.5H441.2H471V399H500.8H530.6V376.9H560.3V354.7H590.1H619.9H649.7H679.5" stroke="#7f7f7f"/>
<path d="M411.4 620.6V540.8H424.8V434.5H438.2V407.9H451.6H465H478.4V381.3H491.8H505.2H518.6H532H545.5H558.9V354.7H572.3H585.7H599.1H612.5H625.9H639.3H652.7H666.1H679.5" stroke="#a5a650"/>
<path d="M411.4 620.6V499.7H427.2H442.9V475.6H458.7V451.4H474.5V427.2H490.3V378.9H506H521.8H537.6H553.3H569.1V354.7H584.9H600.6H616.4H632.2H648H663.7H679.5" stroke="#4ca8b1"/>
<path d="M411.4 620.6V477.4H433.7V457H456.1V416.1H478.4V395.6H500.8V354.7H523.1H545.5H567.8H590.1H612.5H634.8H657.2H679.5" stroke="#437394"/>
<path d="M411.4 620.6H429.3V554.1H447.1H465V520.9H482.9H500.8V487.6H518.6V454.4H536.5V421.2H554.4H572.3V387.9H590.1H608H625.9V354.7H643.8H661.6H679.5" stroke="#c88143"/>
<path d="M411.4 620.6V443.3H438.2V421.2H465V354.7H491.8H518.6H545.5H572.3H599.1H625.9H652.7H679.5" stroke="#3d7d3d"/>
<path d="M411.4 620.6V354.7H433.7H456.1H478.4H500.8H523.1H545.5H567.8H590.1H612.5H634.8H657.2H679.5" stroke="#a24142"/>
<path d="M411.4 620.6V587.4H424.8V554.1H438.2V504.3H451.6H465H478.4V437.8H491.8H505.2H518.6V421.2H532H545.5V387.9H558.9H572.3H585.7H599.1V371.3H612.5H625.9H639.3V354.7H652.7H666.1H679.5" stroke="#937baa"/>
<path d="M411.4 620.6V443.3H444.9H478.4V354.7H511.9H545.5H579H612.5H646H679.5" stroke="#7a5c56"/>
<path d="M411.4 620.6V458.1H444.9V399H478.4V369.5H511.9H545.5V354.7H579H612.5H646H679.5" stroke="#ce92bc"/>
<path d="M411.4 620.6V520.9H425.5V504.3H439.6H453.7H467.8V404.6H482H496.1H510.2H524.3V387.9H538.4H552.5H566.6H580.7V371.3H594.8H608.9H623.1V354.7H637.2H651.3H665.4H679.5" stroke="#7f7f7f"/>
<path d="M411.4 620.6V525.6H438.2V468.7H465V449.7H491.8V411.7H518.6V373.7H545.5H572.3H599.1H625.9V354.7H652.7H679.5" stroke="#a5a650"/>
<path d="M411.4 620.6V443.3H441.2V369.5H471H500.8H530.6H560.3V354.7H590.1H619.9H649.7H679.5" stroke="#4ca8b1"/></g></g>
<polygon points="411.4,620.6 414.1,450.2 424.2,450.2 425,440 427,430 429.3,424.7 435.2,420.7 438.7,415.4 441,407.2 445.7,402.6 450.4,397.9 455,392 459.7,387.4 464.4,382.7 469.1,378 473.7,374.5 478.4,371 483.1,368.1 487.7,365.2 492.4,361.7 500,359.3 507,357.5 515,355.5 521.4,354.7 679.5,354.7 679.5,354.5 673.8,354.6 664.6,355.9 658.1,357.9 651.5,359.8 647.6,361.1 641,363.1 634.4,364.8 627.8,366.4 621.3,368.4 614.7,369.7 608.1,371.6 601.6,373 595,374.9 587.6,377 580.3,379.9 573,382.1 565.7,385 558.4,388 551.1,390.9 543.8,393.8 536.5,396.7 529.2,400.4 521.9,404 516.4,409.3 511.3,413.4 506.2,417.5 501.1,419.5 498,423.6 493.9,427.7 490.9,432.8 485.8,438.9 480.7,445.1 474.8,451.9 469.4,458.3 464.1,465.9 458.7,472.3 453.3,479.9 449,488.5 444.7,493.9 440.3,502.5 436,510.1 430.6,511.2 427.9,515.5 425.8,526.2 423.1,537.8 414.1,537.8" fill="#808080" fill-opacity="0.37"/>
<line x1="411.4" y1="620.6" x2="679.5" y2="354.7" stroke="#ff4d4d" stroke-width="1.3" stroke-dasharray="2.98 1.35" stroke-dashoffset="-0.2"/>
<polyline points="411.5,620.6 412.8,560 414,493.4 422.6,493.4 424.2,488.5 425.8,482 427.4,471.3 430.1,466.4 435,464.8 437.1,462.6 440.3,455.1 442.5,450.8 446.8,444.3 450,441.5 455.1,432.8 460.2,427.7 465.3,421.6 470.4,415.4 474.5,413.4 478.6,407.8 481.7,406.2 485.8,402.7 489.9,399.6 493.6,395 500,389.1 507.3,385 514.6,381.4 521.9,378.5 530.7,375.5 538,373.1 543.8,372.6 548.2,370.4 554,369.7 561.3,367.2 568.6,365.8 575.9,364.2 583.2,363.1 590.5,361.7 595,361.1 601.6,360.1 608.1,359.6 614.7,358.8 621.3,358.2 627.8,357.5 634.4,356.5 641,355.9 647.6,355.2 654.1,354.6 679.7,354.3" fill="none" stroke="#4040f0" stroke-width="1.25" stroke-linejoin="round"/>
<rect x="408.7" y="352" width="273.9" height="271.6" fill="none" stroke="#a2a2a2" stroke-width="1.25"/>
<line x1="411.4" y1="623.6" x2="411.4" y2="625.8" stroke="#a2a2a2" stroke-width="0.8"/>
<line x1="406.9" y1="620.6" x2="409.1" y2="620.6" stroke="#a2a2a2" stroke-width="0.8"/>
<text x="411.7" y="630.9" text-anchor="middle" font-size="7.4" fill="#262626">0.0</text>
<text x="406.3" y="623" text-anchor="end" font-size="7.4" fill="#262626">0.0</text>
<line x1="465" y1="623.6" x2="465" y2="625.8" stroke="#a2a2a2" stroke-width="0.8"/>
<line x1="406.9" y1="567.4" x2="409.1" y2="567.4" stroke="#a2a2a2" stroke-width="0.8"/>
<text x="465.3" y="630.9" text-anchor="middle" font-size="7.4" fill="#262626">0.2</text>
<text x="406.3" y="569.8" text-anchor="end" font-size="7.4" fill="#262626">0.2</text>
<line x1="518.6" y1="623.6" x2="518.6" y2="625.8" stroke="#a2a2a2" stroke-width="0.8"/>
<line x1="406.9" y1="514.2" x2="409.1" y2="514.2" stroke="#a2a2a2" stroke-width="0.8"/>
<text x="518.9" y="630.9" text-anchor="middle" font-size="7.4" fill="#262626">0.4</text>
<text x="406.3" y="516.6" text-anchor="end" font-size="7.4" fill="#262626">0.4</text>
<line x1="572.3" y1="623.6" x2="572.3" y2="625.8" stroke="#a2a2a2" stroke-width="0.8"/>
<line x1="406.9" y1="461.1" x2="409.1" y2="461.1" stroke="#a2a2a2" stroke-width="0.8"/>
<text x="572.6" y="630.9" text-anchor="middle" font-size="7.4" fill="#262626">0.6</text>
<text x="406.3" y="463.5" text-anchor="end" font-size="7.4" fill="#262626">0.6</text>
<line x1="625.9" y1="623.6" x2="625.9" y2="625.8" stroke="#a2a2a2" stroke-width="0.8"/>
<line x1="406.9" y1="407.9" x2="409.1" y2="407.9" stroke="#a2a2a2" stroke-width="0.8"/>
<text x="626.2" y="630.9" text-anchor="middle" font-size="7.4" fill="#262626">0.8</text>
<text x="406.3" y="410.3" text-anchor="end" font-size="7.4" fill="#262626">0.8</text>
<line x1="679.5" y1="623.6" x2="679.5" y2="625.8" stroke="#a2a2a2" stroke-width="0.8"/>
<line x1="406.9" y1="354.7" x2="409.1" y2="354.7" stroke="#a2a2a2" stroke-width="0.8"/>
<text x="679.8" y="630.9" text-anchor="middle" font-size="7.4" fill="#262626">1.0</text>
<text x="406.3" y="357.1" text-anchor="end" font-size="7.4" fill="#262626">1.0</text>
<text x="545.5" y="641.6" text-anchor="middle" font-size="10.3" fill="#111" stroke="#111" stroke-width="0.2" textLength="82.5" lengthAdjust="spacingAndGlyphs">False Positive Rate</text>
<text transform="translate(392.8,487.6) rotate(-90)" x="0" y="0" text-anchor="middle" font-size="10.3" fill="#111" stroke="#111" stroke-width="0.2" textLength="80" lengthAdjust="spacingAndGlyphs">True Positive Rate</text>
<rect x="504.7" y="589.3" width="173.2" height="29.1" rx="1.6" fill="#ffffff" fill-opacity="0.85" stroke="#d6d6d6" stroke-width="0.8"/>
<line x1="508" y1="596.6" x2="526.4" y2="596.6" stroke="#4040f0" stroke-width="1.1"/>
<rect x="508" y="607" width="18.4" height="6.8" fill="#d0d0d0"/>
<text x="533.8" y="600" font-size="10.0" fill="#111" stroke="#111" stroke-width="0.15" textLength="140.3" lengthAdjust="spacingAndGlyphs">Mean ROC (AUC = 0.87 ± 0.06)</text>
<text x="533.8" y="613.6" font-size="10.0" fill="#111" stroke="#111" stroke-width="0.15" textLength="57" lengthAdjust="spacingAndGlyphs">± 1 std. dev.</text>
<g><g fill="none" stroke-width="0.9" stroke-opacity="0.05"><path d="M78.3 951.7V925.2H94V858.8H109.8V805.7H125.5V792.4H141.2H157H172.7H188.4V779.1H204.2V765.9H219.9V752.6H235.7V739.3H251.4H267.1H282.9V726H298.6H314.3V712.8H330.1V699.5H345.8V686.2" stroke="#437394"/>
<path d="M78.3 951.7V879.3H92.4V831H106.5H120.5V806.9H134.6V782.7H148.7H162.8V758.6H176.9H190.9V734.5H205H219.1H233.2H247.2H261.3V710.3H275.4H289.5H303.6V686.2H317.6H331.7H345.8" stroke="#c88143"/>
<path d="M78.3 951.7V829.2H91.7H105V767.9H118.4H131.8V747.5H145.2H158.6H171.9H185.3V727H198.7H212.1H225.4H238.8H252.2V706.6H265.6H278.9H292.3H305.7V686.2H319.1H332.4H345.8" stroke="#3d7d3d"/>
<path d="M78.3 951.7V863.2H111.7V804.2H145.2V774.7H178.6V745.2H212.1H245.5V715.7H278.9H312.4V686.2H345.8" stroke="#a24142"/>
<path d="M78.3 951.7V875.8H93.2V837.9H108V800H122.9V781H137.7V762.1H152.6H167.5H182.3V724.1H197.2H212.1V705.2H226.9H241.8H256.6H271.5H286.4H301.2V686.2H316.1H330.9H345.8" stroke="#937baa"/>
<path d="M78.3 951.7V855.2H111.7V806.9H145.2V782.7H178.6V758.6H212.1H245.5V734.5H278.9V710.3H312.4H345.8V686.2" stroke="#7a5c56"/>
<path d="M78.3 951.7V826.8H96.1V764.3H114H131.8V733.1H149.6H167.5V701.8H185.3H203.1H221H238.8V686.2H256.6H274.5H292.3H310.1H328H345.8" stroke="#ce92bc"/>
<path d="M78.3 951.7V804.2H96.1V760H114H131.8V730.5H149.6H167.5H185.3V701H203.1H221H238.8H256.6H274.5V686.2H292.3H310.1H328H345.8" stroke="#7f7f7f"/>
<path d="M78.3 951.7V918.5H92.4V885.3H106.5V852.1H120.5V819H134.6V785.8H148.7H162.8H176.9H190.9V752.6H205H219.1H233.2H247.2V719.4H261.3H275.4H289.5H303.6H317.6H331.7V686.2H345.8" stroke="#a5a650"/>
<path d="M78.3 951.7V835.5H98.9V785.8H119.5H140V752.6H160.6H181.2V736H201.8H222.3H242.9V702.8H263.5V686.2H284.1H304.6H325.2H345.8" stroke="#4ca8b1"/>
<path d="M78.3 951.7V831H108V782.7H137.7H167.5V734.5H197.2H226.9V710.3H256.6V686.2H286.4H316.1H345.8" stroke="#437394"/>
<path d="M78.3 951.7V842.4H111.7V811.1H145.2V795.5H178.6V764.3H212.1H245.5V748.7H278.9V733.1H312.4V701.8H345.8V686.2" stroke="#c88143"/>
<path d="M78.3 951.7V785.8H93.2H108H122.9V752.6H137.7V719.4H152.6H167.5H182.3H197.2H212.1H226.9V686.2H241.8H256.6H271.5H286.4H301.2H316.1H330.9H345.8" stroke="#3d7d3d"/>
<path d="M78.3 951.7V881.8H91.7V839.9H105V812H118.4V798H131.8H145.2H158.6V770H171.9H185.3H198.7V756.1H212.1V742.1H225.4H238.8H252.2V728.1H265.6H278.9H292.3V714.1H305.7V700.2H319.1H332.4H345.8V686.2" stroke="#a24142"/>
<path d="M78.3 951.7V868.7H94V835.5H109.8V819H125.5V769.2H141.2H157H172.7V752.6H188.4V736H204.2V719.4H219.9H235.7H251.4H267.1H282.9V702.8H298.6H314.3V686.2H330.1H345.8" stroke="#937baa"/>
<path d="M78.3 951.7V927.6H96.1V855.2H114V831H131.8V782.7H149.6H167.5V758.6H185.3H203.1H221H238.8H256.6V734.5H274.5H292.3V710.3H310.1H328H345.8V686.2" stroke="#7a5c56"/>
<path d="M78.3 951.7V739.3H111.7V726H145.2V712.8H178.6H212.1V686.2H245.5H278.9H312.4H345.8" stroke="#ce92bc"/>
<path d="M78.3 951.7V819H111.7V762.1H145.2V724.1H178.6H212.1V705.2H245.5H278.9V686.2H312.4H345.8" stroke="#7f7f7f"/>
<path d="M78.3 951.7V841.1H105V796.8H131.8V752.6H158.6H185.3V730.5H212.1V708.3H238.8H265.6H292.3H319.1V686.2H345.8" stroke="#a5a650"/>
<path d="M78.3 951.7V845.5H96.1V827.8H114V792.4H131.8V757H149.6H167.5H185.3V721.6H203.1H221H238.8H256.6H274.5V703.9H292.3V686.2H310.1H328H345.8" stroke="#4ca8b1"/>
<path d="M78.3 951.7V873.6H102.6V811.1H126.9V779.9H151.3V748.7H175.6H199.9V733.1H224.2H248.5V717.4H272.8H297.2V701.8H321.5V686.2H345.8" stroke="#437394"/>
<path d="M78.3 951.7V831H91.7V806.9H105V758.6H118.4H131.8V734.5H145.2H158.6H171.9H185.3V710.3H198.7H212.1H225.4H238.8V686.2H252.2H265.6H278.9H292.3H305.7H319.1H332.4H345.8" stroke="#c88143"/>
<path d="M78.3 951.7V872.1H97.4V819H116.5V779.1H135.6V765.9H154.7H173.8V752.6H192.9V739.3H212.1H231.2V726H250.3V712.8H269.4V699.5H288.5H307.6H326.7V686.2H345.8" stroke="#3d7d3d"/>
<path d="M78.3 951.7V835.5H105V802.4H131.8V752.6H158.6H185.3H212.1V736H238.8V719.4H265.6H292.3V702.8H319.1V686.2H345.8" stroke="#a24142"/>
<path d="M78.3 951.7V792.4H111.7V765.9H145.2V739.3H178.6V712.8H212.1H245.5V686.2H278.9H312.4H345.8" stroke="#937baa"/>
<path d="M78.3 951.7V849.6H108V788.3H137.7V767.9H167.5H197.2V747.5H226.9H256.6V727H286.4H316.1V686.2H345.8" stroke="#7a5c56"/>
<path d="M78.3 951.7V832.2H97.4V819H116.5V779.1H135.6V765.9H154.7V752.6H173.8H192.9V726H212.1H231.2H250.3V699.5H269.4H288.5H307.6H326.7V686.2H345.8" stroke="#ce92bc"/>
<path d="M78.3 951.7V878H91.7V848.5H105V804.2H118.4V789.5H131.8V774.7H145.2H158.6H171.9V745.2H185.3H198.7V730.5H212.1V715.7H225.4H238.8H252.2H265.6H278.9H292.3V701H305.7H319.1V686.2H332.4H345.8" stroke="#7f7f7f"/>
<path d="M78.3 951.7V894.8H93.2V819H108V800H122.9H137.7H152.6H167.5V762.1H182.3H197.2V743.1H212.1H226.9H241.8V724.1H256.6V705.2H271.5H286.4H301.2H316.1H330.9V686.2H345.8" stroke="#a5a650"/>
<path d="M78.3 951.7V872.1H102.6V765.9H126.9V739.3H151.3H175.6H199.9V712.8H224.2H248.5H272.8H297.2V686.2H321.5H345.8" stroke="#4ca8b1"/>
<path d="M78.3 951.7V715.7H111.7V701H145.2H178.6V686.2H212.1H245.5H278.9H312.4H345.8" stroke="#437394"/>
<path d="M78.3 951.7V819H97.4V785.8H116.5V752.6H135.6H154.7V719.4H173.8H192.9H212.1H231.2H250.3H269.4V686.2H288.5H307.6H326.7H345.8" stroke="#c88143"/>
<path d="M78.3 951.7V845.5H108V792.4H137.7V739.3H167.5V726H197.2H226.9V712.8H256.6V699.5H286.4V686.2H316.1H345.8" stroke="#3d7d3d"/>
<path d="M78.3 951.7V870H102.6V829.2H126.9V788.3H151.3H175.6V767.9H199.9V747.5H224.2V727H248.5H272.8H297.2V706.6H321.5V686.2H345.8" stroke="#a24142"/>
<path d="M78.3 951.7V819H92.4V781H106.5V762.1H120.5H134.6V743.1H148.7H162.8H176.9V724.1H190.9H205V705.2H219.1H233.2H247.2H261.3V686.2H275.4H289.5H303.6H317.6H331.7H345.8" stroke="#937baa"/>
<path d="M78.3 951.7V898.6H93.2V863.2H108V827.8H122.9V810.1H137.7H152.6V792.4H167.5V774.7H182.3V757H197.2H212.1H226.9V739.3H241.8H256.6H271.5V721.6H286.4H301.2H316.1H330.9V686.2H345.8" stroke="#7a5c56"/>
<path d="M78.3 951.7V856.9H95V837.9H111.7V800H128.5H145.2V781H161.9V743.1H178.6H195.3H212.1H228.8H245.5V724.1H262.2V705.2H278.9H295.6H312.4H329.1V686.2H345.8" stroke="#ce92bc"/>
<path d="M78.3 951.7V819H95V796.8H111.7V774.7H128.5H145.2V752.6H161.9V730.5H178.6H195.3H212.1H228.8V708.3H245.5H262.2H278.9V686.2H295.6H312.4H329.1H345.8" stroke="#7f7f7f"/>
<path d="M78.3 951.7V784H111.7V756.1H145.2V742.1H178.6V714.1H212.1H245.5V700.2H278.9V686.2H312.4H345.8" stroke="#a5a650"/>
<path d="M78.3 951.7V863.2H96.1V804.2H114H131.8V774.7H149.6V745.2H167.5H185.3H203.1V715.7H221H238.8H256.6H274.5H292.3V686.2H310.1H328H345.8" stroke="#4ca8b1"/>
<path d="M78.3 951.7V782.7H94V734.5H109.8H125.5H141.2H157V710.3H172.7H188.4H204.2H219.9V686.2H235.7H251.4H267.1H282.9H298.6H314.3H330.1H345.8" stroke="#437394"/>
<path d="M78.3 951.7V870H97.4V849.6H116.5V808.7H135.6H154.7V767.9H173.8H192.9V747.5H212.1V727H231.2H250.3H269.4V706.6H288.5H307.6H326.7V686.2H345.8" stroke="#c88143"/>
<path d="M78.3 951.7V811.1H92.4H106.5V748.7H120.5H134.6H148.7H162.8H176.9V717.4H190.9H205H219.1V701.8H233.2H247.2H261.3V686.2H275.4H289.5H303.6H317.6H331.7H345.8" stroke="#3d7d3d"/>
<path d="M78.3 951.7V909.8H96.1V867.9H114V825.9H131.8V812H149.6V784H167.5H185.3V770H203.1V756.1H221H238.8V742.1H256.6V728.1H274.5H292.3H310.1V714.1H328V700.2H345.8V686.2" stroke="#a24142"/>
<path d="M78.3 951.7V810.1H108V792.4H137.7V757H167.5H197.2V739.3H226.9V703.9H256.6H286.4H316.1V686.2H345.8" stroke="#937baa"/>
<path d="M78.3 951.7V879.3H94V855.2H109.8H125.5V806.9H141.2V782.7H157H172.7H188.4V758.6H204.2H219.9H235.7H251.4V734.5H267.1H282.9H298.6V710.3H314.3H330.1V686.2H345.8" stroke="#7a5c56"/>
<path d="M78.3 951.7V841.1H92.4V819H106.5V774.7H120.5H134.6H148.7H162.8V752.6H176.9H190.9V730.5H205H219.1V708.3H233.2H247.2H261.3H275.4H289.5V686.2H303.6H317.6H331.7H345.8" stroke="#ce92bc"/>
<path d="M78.3 951.7V863.2H94V833.7H109.8V804.2H125.5V774.7H141.2H157V745.2H172.7H188.4H204.2V715.7H219.9H235.7H251.4H267.1H282.9H298.6H314.3V686.2H330.1H345.8" stroke="#7f7f7f"/>
<path d="M78.3 951.7V835.5H97.4V802.4H116.5V769.2H135.6V752.6H154.7H173.8V719.4H192.9H212.1H231.2H250.3V702.8H269.4H288.5H307.6V686.2H326.7H345.8" stroke="#a5a650"/>
<path d="M78.3 951.7V788.3H102.6V767.9H126.9V727H151.3H175.6V706.6H199.9H224.2H248.5V686.2H272.8H297.2H321.5H345.8" stroke="#4ca8b1"/>
<path d="M78.3 951.7V819H108V769.2H137.7V736H167.5V702.8H197.2H226.9H256.6V686.2H286.4H316.1H345.8" stroke="#437394"/>
<path d="M78.3 951.7V910.9H100.6V849.6H122.9V829.2H145.2V808.7H167.5H189.8V767.9H212.1H234.3V747.5H256.6H278.9V727H301.2V706.6H323.5H345.8V686.2" stroke="#c88143"/>
<path d="M78.3 951.7V827.8H98.9V774.7H119.5H140V757H160.6V739.3H181.2H201.8V703.9H222.3H242.9H263.5H284.1H304.6V686.2H325.2H345.8" stroke="#3d7d3d"/>
<path d="M78.3 951.7H96.1V898.6H114V872.1H131.8V858.8H149.6V832.2H167.5H185.3V819H203.1V805.7H221V779.1H238.8H256.6V765.9H274.5V752.6H292.3H310.1V739.3H328V699.5H345.8V686.2" stroke="#a24142"/>
<path d="M78.3 951.7V802.4H108V785.8H137.7V769.2H167.5H197.2V752.6H226.9V736H256.6V702.8H286.4H316.1V686.2H345.8" stroke="#937baa"/>
<path d="M78.3 951.7V789.5H102.6V730.5H126.9V715.7H151.3V701H175.6H199.9H224.2V686.2H248.5H272.8H297.2H321.5H345.8" stroke="#7a5c56"/>
<path d="M78.3 951.7V873.6H97.4V795.5H116.5H135.6V764.3H154.7H173.8V733.1H192.9H212.1H231.2V717.4H250.3H269.4V701.8H288.5H307.6V686.2H326.7H345.8" stroke="#ce92bc"/>
<path d="M78.3 951.7V812H97.4V756.1H116.5H135.6V742.1H154.7H173.8H192.9V714.1H212.1H231.2V700.2H250.3V686.2H269.4H288.5H307.6H326.7H345.8" stroke="#7f7f7f"/>
<path d="M78.3 951.7V774.7H94V730.5H109.8H125.5V708.3H141.2H157H172.7V686.2H188.4H204.2H219.9H235.7H251.4H267.1H282.9H298.6H314.3H330.1H345.8" stroke="#a5a650"/>
<path d="M78.3 951.7V879.3H108V806.9H137.7V758.6H167.5H197.2V734.5H226.9H256.6H286.4V710.3H316.1V686.2H345.8" stroke="#4ca8b1"/>
<path d="M78.3 951.7V872.1H95V845.5H111.7V805.7H128.5H145.2V779.1H161.9H178.6V765.9H195.3V739.3H212.1H228.8V712.8H245.5H262.2H278.9H295.6H312.4V699.5H329.1V686.2H345.8" stroke="#437394"/>
<path d="M78.3 951.7V845.5H102.6V792.4H126.9V765.9H151.3V739.3H175.6H199.9V712.8H224.2H248.5H272.8V686.2H297.2H321.5H345.8" stroke="#c88143"/>
<path d="M78.3 951.7V889.2H98.9V795.5H119.5V779.9H140H160.6V748.7H181.2H201.8V733.1H222.3V717.4H242.9H263.5H284.1H304.6V701.8H325.2V686.2H345.8" stroke="#3d7d3d"/>
<path d="M78.3 951.7V752.6H94H109.8H125.5V730.5H141.2H157H172.7V708.3H188.4H204.2H219.9H235.7H251.4V686.2H267.1H282.9H298.6H314.3H330.1H345.8" stroke="#a24142"/>
<path d="M78.3 951.7V918.5H94V852.1H109.8V819H125.5V785.8H141.2H157H172.7H188.4V752.6H204.2H219.9V719.4H235.7H251.4H267.1H282.9H298.6H314.3V686.2H330.1H345.8" stroke="#937baa"/>
<path d="M78.3 951.7V745.2H108V715.7H137.7H167.5V686.2H197.2H226.9H256.6H286.4H316.1H345.8" stroke="#7a5c56"/>
<path d="M78.3 951.7V819H95V774.7H111.7V760H128.5H145.2V745.2H161.9V730.5H178.6H195.3H212.1V701H228.8H245.5H262.2H278.9V686.2H295.6H312.4H329.1H345.8" stroke="#ce92bc"/>
<path d="M78.3 951.7V804.2H102.6V745.2H126.9H151.3V715.7H175.6H199.9H224.2H248.5V686.2H272.8H297.2H321.5H345.8" stroke="#7f7f7f"/>
<path d="M78.3 951.7V785.8H100.6V752.6H122.9H145.2H167.5H189.8H212.1V719.4H234.3H256.6H278.9H301.2V686.2H323.5H345.8" stroke="#a5a650"/>
<path d="M78.3 951.7V845.5H97.4V827.8H116.5V810.1H135.6V792.4H154.7V774.7H173.8H192.9V757H212.1H231.2V739.3H250.3H269.4V721.6H288.5H307.6V703.9H326.7V686.2H345.8" stroke="#4ca8b1"/>
<path d="M78.3 951.7V827.8H96.1V810.1H114V774.7H131.8H149.6V757H167.5V739.3H185.3H203.1V721.6H221H238.8H256.6H274.5V703.9H292.3H310.1H328V686.2H345.8" stroke="#437394"/>
<path d="M78.3 951.7V798H100.6V770H122.9V756.1H145.2V728.1H167.5H189.8V714.1H212.1H234.3V700.2H256.6H278.9V686.2H301.2H323.5H345.8" stroke="#c88143"/>
<path d="M78.3 951.7V810.1H111.7V757H145.2H178.6V721.6H212.1V703.9H245.5H278.9H312.4V686.2H345.8" stroke="#3d7d3d"/>
<path d="M78.3 951.7V894.8H95V856.9H111.7H128.5V800H145.2V781H161.9H178.6H195.3H212.1V762.1H228.8V743.1H245.5V724.1H262.2H278.9H295.6H312.4V705.2H329.1H345.8V686.2" stroke="#a24142"/>
<path d="M78.3 951.7V806.9H111.7V758.6H145.2V734.5H178.6V710.3H212.1H245.5H278.9V686.2H312.4H345.8" stroke="#937baa"/>
<path d="M78.3 951.7V873.6H94V842.4H109.8V811.1H125.5V795.5H141.2V779.9H157V764.3H172.7V748.7H188.4H204.2H219.9V733.1H235.7H251.4H267.1V717.4H282.9H298.6H314.3V701.8H330.1H345.8V686.2" stroke="#7a5c56"/>
<path d="M78.3 951.7V819H105V796.8H131.8V752.6H158.6H185.3H212.1V708.3H238.8H265.6H292.3H319.1V686.2H345.8" stroke="#ce92bc"/>
<path d="M78.3 951.7V885.3H108V819H137.7V796.8H167.5V774.7H197.2V752.6H226.9H256.6V730.5H286.4V708.3H316.1H345.8V686.2" stroke="#7f7f7f"/>
<path d="M78.3 951.7V831H100.6V782.7H122.9V758.6H145.2H167.5H189.8V734.5H212.1H234.3V710.3H256.6H278.9H301.2H323.5V686.2H345.8" stroke="#a5a650"/>
<path d="M78.3 951.7V845.5H102.6V819H126.9V792.4H151.3V765.9H175.6H199.9H224.2V739.3H248.5V712.8H272.8H297.2H321.5V686.2H345.8" stroke="#4ca8b1"/>
<path d="M78.3 951.7V819H108V785.8H137.7H167.5V752.6H197.2V719.4H226.9H256.6H286.4V686.2H316.1H345.8" stroke="#437394"/>
<path d="M78.3 951.7V852.1H97.4V752.6H116.5H135.6H154.7V719.4H173.8H192.9H212.1H231.2V686.2H250.3H269.4H288.5H307.6H326.7H345.8" stroke="#c88143"/>
<path d="M78.3 951.7V802.4H96.1V769.2H114H131.8V752.6H149.6V736H167.5V702.8H185.3V686.2H203.1H221H238.8H256.6H274.5H292.3H310.1H328H345.8" stroke="#3d7d3d"/>
<path d="M78.3 951.7V804.2H100.6V745.2H122.9H145.2H167.5H189.8V715.7H212.1H234.3H256.6H278.9V686.2H301.2H323.5H345.8" stroke="#a24142"/>
<path d="M78.3 951.7V827.8H94V792.4H109.8H125.5V774.7H141.2H157H172.7V721.6H188.4H204.2H219.9H235.7H251.4V703.9H267.1H282.9V686.2H298.6H314.3H330.1H345.8" stroke="#937baa"/>
<path d="M78.3 951.7V842.4H111.7V795.5H145.2V748.7H178.6H212.1V733.1H245.5H278.9V701.8H312.4H345.8V686.2" stroke="#7a5c56"/>
<path d="M78.3 951.7V810.1H111.7V757H145.2V739.3H178.6V721.6H212.1V703.9H245.5V686.2H278.9H312.4H345.8" stroke="#ce92bc"/>
<path d="M78.3 951.7V841.1H92.4V819H106.5H120.5V796.8H134.6H148.7V752.6H162.8H176.9V730.5H190.9H205H219.1H233.2V708.3H247.2H261.3H275.4H289.5H303.6H317.6H331.7V686.2H345.8" stroke="#7f7f7f"/>
<path d="M78.3 951.7V804.2H96.1V774.7H114V745.2H131.8H149.6V715.7H167.5H185.3H203.1H221H238.8V686.2H256.6H274.5H292.3H310.1H328H345.8" stroke="#a5a650"/>
<path d="M78.3 951.7V831H91.7V806.9H105V782.7H118.4H131.8V758.6H145.2H158.6V734.5H171.9H185.3V710.3H198.7H212.1H225.4H238.8H252.2H265.6H278.9V686.2H292.3H305.7H319.1H332.4H345.8" stroke="#4ca8b1"/>
<path d="M78.3 951.7V837.9H96.1V800H114V762.1H131.8H149.6V724.1H167.5H185.3V705.2H203.1H221H238.8V686.2H256.6H274.5H292.3H310.1H328H345.8" stroke="#437394"/>
<path d="M78.3 951.7V819H98.9V760H119.5H140V745.2H160.6H181.2V715.7H201.8H222.3H242.9V701H263.5V686.2H284.1H304.6H325.2H345.8" stroke="#c88143"/>
<path d="M78.3 951.7V792.4H92.4H106.5H120.5V765.9H134.6V739.3H148.7H162.8H176.9V712.8H190.9H205H219.1H233.2H247.2H261.3V686.2H275.4H289.5H303.6H317.6H331.7H345.8" stroke="#3d7d3d"/>
<path d="M78.3 951.7V837.9H97.4V800H116.5V781H135.6V762.1H154.7V743.1H173.8H192.9V724.1H212.1H231.2V705.2H250.3H269.4H288.5V686.2H307.6H326.7H345.8" stroke="#a24142"/>
<path d="M78.3 951.7V765.9H95V752.6H111.7V712.8H128.5V699.5H145.2H161.9H178.6H195.3V686.2H212.1H228.8H245.5H262.2H278.9H295.6H312.4H329.1H345.8" stroke="#937baa"/>
<path d="M78.3 951.7V849.6H100.6V808.7H122.9V788.3H145.2H167.5V767.9H189.8H212.1V747.5H234.3V727H256.6V706.6H278.9H301.2H323.5V686.2H345.8" stroke="#7a5c56"/>
<path d="M78.3 951.7V911.9H98.9V858.8H119.5V819H140H160.6V779.1H181.2V765.9H201.8H222.3V752.6H242.9H263.5V726H284.1H304.6H325.2V699.5H345.8V686.2" stroke="#ce92bc"/>
<path d="M78.3 951.7V810.1H95V792.4H111.7V757H128.5V739.3H145.2H161.9H178.6V703.9H195.3H212.1H228.8H245.5V686.2H262.2H278.9H295.6H312.4H329.1H345.8" stroke="#7f7f7f"/>
<path d="M78.3 951.7V885.3H102.6V819H126.9V774.7H151.3H175.6V752.6H199.9V730.5H224.2H248.5V708.3H272.8H297.2H321.5V686.2H345.8" stroke="#a5a650"/>
<path d="M78.3 951.7V804.2H91.7V774.7H105H118.4V745.2H131.8H145.2H158.6H171.9H185.3V715.7H198.7H212.1H225.4H238.8V686.2H252.2H265.6H278.9H292.3H305.7H319.1H332.4H345.8" stroke="#4ca8b1"/>
<path d="M78.3 951.7V784H96.1H114V756.1H131.8V742.1H149.6H167.5V728.1H185.3V714.1H203.1H221H238.8V700.2H256.6H274.5V686.2H292.3H310.1H328H345.8" stroke="#437394"/>
<path d="M78.3 951.7V885.3H98.9V819H119.5V785.8H140H160.6H181.2V752.6H201.8H222.3H242.9H263.5V719.4H284.1H304.6H325.2V686.2H345.8" stroke="#c88143"/>
<path d="M78.3 951.7V852.1H93.2H108V785.8H122.9H137.7H152.6V752.6H167.5H182.3H197.2H212.1V719.4H226.9H241.8H256.6H271.5H286.4H301.2V686.2H316.1H330.9H345.8" stroke="#3d7d3d"/>
<path d="M78.3 951.7V802.4H96.1V785.8H114V769.2H131.8V736H149.6H167.5H185.3H203.1H221V719.4H238.8V702.8H256.6H274.5H292.3V686.2H310.1H328H345.8" stroke="#a24142"/>
<path d="M78.3 951.7V898.6H94V872.1H109.8V792.4H125.5H141.2H157V765.9H172.7H188.4H204.2H219.9V739.3H235.7H251.4H267.1V712.8H282.9H298.6V686.2H314.3H330.1H345.8" stroke="#937baa"/>
<path d="M78.3 951.7V832.2H100.6V765.9H122.9H145.2V712.8H167.5H189.8H212.1H234.3V686.2H256.6H278.9H301.2H323.5H345.8" stroke="#7a5c56"/>
<path d="M78.3 951.7V811.1H111.7V779.9H145.2V764.3H178.6V748.7H212.1V733.1H245.5V717.4H278.9V701.8H312.4H345.8V686.2" stroke="#ce92bc"/>
<path d="M78.3 951.7V826.8H97.4V779.9H116.5V748.7H135.6H154.7V733.1H173.8V717.4H192.9H212.1H231.2V701.8H250.3H269.4H288.5V686.2H307.6H326.7H345.8" stroke="#7f7f7f"/>
<path d="M78.3 951.7V788.3H92.4H106.5V767.9H120.5H134.6V747.5H148.7V727H162.8H176.9H190.9H205V706.6H219.1H233.2H247.2V686.2H261.3H275.4H289.5H303.6H317.6H331.7H345.8" stroke="#a5a650"/>
<path d="M78.3 951.7V835.5H95V785.8H111.7V769.2H128.5H145.2H161.9H178.6V736H195.3H212.1V719.4H228.8V702.8H245.5H262.2H278.9H295.6V686.2H312.4H329.1H345.8" stroke="#4ca8b1"/>
<path d="M78.3 951.7V782.7H105V758.6H131.8V734.5H158.6V710.3H185.3H212.1H238.8H265.6V686.2H292.3H319.1H345.8" stroke="#437394"/>
<path d="M78.3 951.7V819H91.7V739.3H105H118.4H131.8H145.2H158.6V726H171.9H185.3H198.7V712.8H212.1H225.4V699.5H238.8V686.2H252.2H265.6H278.9H292.3H305.7H319.1H332.4H345.8" stroke="#c88143"/>
<path d="M78.3 951.7V804.2H108V745.2H137.7H167.5H197.2V715.7H226.9H256.6V686.2H286.4H316.1H345.8" stroke="#3d7d3d"/>
<path d="M78.3 951.7V819H98.9V802.4H119.5V752.6H140V736H160.6V719.4H181.2H201.8H222.3H242.9V702.8H263.5V686.2H284.1H304.6H325.2H345.8" stroke="#a24142"/>
<path d="M78.3 951.7V819H91.7V785.8H105V752.6H118.4H131.8H145.2H158.6V719.4H171.9V686.2H185.3H198.7H212.1H225.4H238.8H252.2H265.6H278.9H292.3H305.7H319.1H332.4H345.8" stroke="#937baa"/>
<path d="M78.3 951.7V863.2H100.6V774.7H122.9H145.2V745.2H167.5H189.8V715.7H212.1H234.3H256.6H278.9H301.2V686.2H323.5H345.8" stroke="#7a5c56"/>
<path d="M78.3 951.7V752.6H97.4H116.5V719.4H135.6H154.7V686.2H173.8H192.9H212.1H231.2H250.3H269.4H288.5H307.6H326.7H345.8" stroke="#ce92bc"/>
<path d="M78.3 951.7V863.2H108V819H137.7V789.5H167.5V774.7H197.2V745.2H226.9H256.6V730.5H286.4V715.7H316.1V701H345.8V686.2" stroke="#7f7f7f"/>
<path d="M78.3 951.7V863.2H98.9V789.5H119.5V774.7H140V730.5H160.6H181.2V715.7H201.8H222.3H242.9V701H263.5H284.1H304.6V686.2H325.2H345.8" stroke="#a5a650"/>
<path d="M78.3 951.7V819H95V792.4H111.7H128.5V765.9H145.2V739.3H161.9H178.6H195.3H212.1V712.8H228.8H245.5H262.2H278.9H295.6V686.2H312.4H329.1H345.8" stroke="#4ca8b1"/>
<path d="M78.3 951.7V792.4H100.6H122.9V752.6H145.2V712.8H167.5H189.8H212.1V699.5H234.3V686.2H256.6H278.9H301.2H323.5H345.8" stroke="#437394"/>
<path d="M78.3 951.7V885.3H92.4V819H106.5H120.5V785.8H134.6H148.7H162.8V752.6H176.9H190.9H205H219.1H233.2V719.4H247.2H261.3H275.4H289.5H303.6H317.6V686.2H331.7H345.8" stroke="#c88143"/>
<path d="M78.3 951.7V837.9H102.6V762.1H126.9H151.3H175.6V724.1H199.9H224.2H248.5V705.2H272.8H297.2V686.2H321.5H345.8" stroke="#3d7d3d"/>
<path d="M78.3 951.7V845.5H111.7V792.4H145.2V765.9H178.6V739.3H212.1V712.8H245.5H278.9H312.4V686.2H345.8" stroke="#a24142"/>
<path d="M78.3 951.7V895.8H96.1V867.9H114V812H131.8H149.6V798H167.5V784H185.3V770H203.1V756.1H221H238.8H256.6V742.1H274.5V728.1H292.3H310.1V714.1H328V700.2H345.8V686.2" stroke="#937baa"/>
<path d="M78.3 951.7V898.6H92.4V819H106.5V792.4H120.5V765.9H134.6H148.7H162.8H176.9V739.3H190.9H205H219.1V712.8H233.2H247.2H261.3H275.4H289.5H303.6H317.6V686.2H331.7H345.8" stroke="#7a5c56"/>
<path d="M78.3 951.7V870H96.1V849.6H114V808.7H131.8V788.3H149.6V767.9H167.5H185.3H203.1V747.5H221H238.8V727H256.6H274.5V706.6H292.3H310.1H328V686.2H345.8" stroke="#ce92bc"/>
<path d="M78.3 951.7V852.1H93.2V819H108V785.8H122.9H137.7V752.6H152.6H167.5H182.3H197.2H212.1H226.9V719.4H241.8H256.6H271.5H286.4H301.2H316.1V686.2H330.9H345.8" stroke="#7f7f7f"/>
<path d="M78.3 951.7V819H93.2V792.4H108H122.9V765.9H137.7V739.3H152.6H167.5H182.3H197.2H212.1V712.8H226.9H241.8V686.2H256.6H271.5H286.4H301.2H316.1H330.9H345.8" stroke="#a5a650"/>
<path d="M78.3 951.7V898.6H102.6V792.4H126.9H151.3V765.9H175.6H199.9V739.3H224.2H248.5V712.8H272.8H297.2H321.5V686.2H345.8" stroke="#4ca8b1"/>
<path d="M78.3 951.7V788.3H102.6V767.9H126.9H151.3V727H175.6H199.9H224.2V706.6H248.5H272.8V686.2H297.2H321.5H345.8" stroke="#437394"/>
<path d="M78.3 951.7V826.8H91.7H105V779.9H118.4H131.8V764.3H145.2H158.6V748.7H171.9H185.3V733.1H198.7H212.1H225.4H238.8H252.2H265.6V701.8H278.9H292.3H305.7H319.1H332.4V686.2H345.8" stroke="#c88143"/>
<path d="M78.3 951.7V918.5H102.6V852.1H126.9V819H151.3V785.8H175.6H199.9V752.6H224.2H248.5H272.8V719.4H297.2H321.5V686.2H345.8" stroke="#3d7d3d"/>
<path d="M78.3 951.7V798H98.9V742.1H119.5V728.1H140H160.6V700.2H181.2H201.8H222.3H242.9V686.2H263.5H284.1H304.6H325.2H345.8" stroke="#a24142"/>
<path d="M78.3 951.7V870H95V808.7H111.7H128.5V767.9H145.2V747.5H161.9H178.6V727H195.3H212.1H228.8V706.6H245.5H262.2H278.9H295.6H312.4H329.1V686.2H345.8" stroke="#937baa"/>
<path d="M78.3 951.7V873.6H95H111.7V842.4H128.5V811.1H145.2V795.5H161.9V779.9H178.6H195.3H212.1H228.8V764.3H245.5V748.7H262.2V733.1H278.9H295.6V717.4H312.4H329.1V701.8H345.8V686.2" stroke="#7a5c56"/>
<path d="M78.3 951.7V918.5H94V852.1H109.8V835.5H125.5H141.2V802.4H157H172.7V785.8H188.4V769.2H204.2H219.9V752.6H235.7H251.4H267.1V736H282.9V719.4H298.6H314.3H330.1V686.2H345.8" stroke="#ce92bc"/>
<path d="M78.3 951.7V848.5H94V833.7H109.8V804.2H125.5V789.5H141.2V774.7H157H172.7V760H188.4V745.2H204.2V730.5H219.9H235.7H251.4V715.7H267.1H282.9H298.6V701H314.3H330.1V686.2H345.8" stroke="#7f7f7f"/>
<path d="M78.3 951.7V806.9H93.2V758.6H108H122.9H137.7V734.5H152.6H167.5H182.3H197.2V710.3H212.1H226.9H241.8H256.6V686.2H271.5H286.4H301.2H316.1H330.9H345.8" stroke="#a5a650"/>
<path d="M78.3 951.7V911.9H95V832.2H111.7V819H128.5V792.4H145.2H161.9V765.9H178.6H195.3V752.6H212.1H228.8V739.3H245.5V726H262.2H278.9V712.8H295.6V699.5H312.4H329.1H345.8V686.2" stroke="#4ca8b1"/>
<path d="M78.3 951.7V858H105V826.8H131.8V795.5H158.6V779.9H185.3V764.3H212.1V733.1H238.8H265.6V717.4H292.3H319.1V686.2H345.8" stroke="#437394"/>
<path d="M78.3 951.7V872.1H93.2V805.7H108H122.9V792.4H137.7V765.9H152.6V752.6H167.5H182.3H197.2V739.3H212.1V726H226.9H241.8H256.6H271.5V712.8H286.4H301.2V699.5H316.1V686.2H330.9H345.8" stroke="#c88143"/>
<path d="M78.3 951.7V812H94V770H109.8V756.1H125.5H141.2V728.1H157H172.7H188.4V700.2H204.2H219.9H235.7H251.4V686.2H267.1H282.9H298.6H314.3H330.1H345.8" stroke="#3d7d3d"/>
<path d="M78.3 951.7V907.5H95V819H111.7V804.2H128.5V789.5H145.2V760H161.9H178.6H195.3V745.2H212.1H228.8V715.7H245.5H262.2H278.9H295.6H312.4V701H329.1V686.2H345.8" stroke="#a24142"/>
<path d="M78.3 951.7V829.2H95V788.3H111.7V767.9H128.5V747.5H145.2H161.9V727H178.6V706.6H195.3H212.1H228.8H245.5V686.2H262.2H278.9H295.6H312.4H329.1H345.8" stroke="#937baa"/>
<path d="M78.3 951.7V832.2H102.6V765.9H126.9V752.6H151.3V739.3H175.6V726H199.9H224.2H248.5V712.8H272.8V699.5H297.2H321.5V686.2H345.8" stroke="#7a5c56"/>
<path d="M78.3 951.7V894.8H95V856.9H111.7V819H128.5V800H145.2H161.9V781H178.6V762.1H195.3H212.1V743.1H228.8H245.5H262.2H278.9V705.2H295.6H312.4H329.1V686.2H345.8" stroke="#ce92bc"/>
<path d="M78.3 951.7V892.7H95V819H111.7V804.2H128.5V774.7H145.2V760H161.9H178.6H195.3V745.2H212.1V730.5H228.8V715.7H245.5V701H262.2H278.9H295.6H312.4H329.1V686.2H345.8" stroke="#7f7f7f"/>
<path d="M78.3 951.7V867.9H94V825.9H109.8H125.5V784H141.2V770H157H172.7H188.4V742.1H204.2H219.9H235.7H251.4V728.1H267.1H282.9V714.1H298.6V700.2H314.3H330.1H345.8V686.2" stroke="#a5a650"/>
<path d="M78.3 951.7V892.7H93.2V833.7H108H122.9V819H137.7V789.5H152.6V774.7H167.5H182.3H197.2V760H212.1V745.2H226.9H241.8H256.6H271.5H286.4V730.5H301.2V715.7H316.1H330.9V701H345.8V686.2" stroke="#4ca8b1"/>
<path d="M78.3 951.7V788.3H100.6V767.9H122.9V747.5H145.2V727H167.5H189.8V686.2H212.1H234.3H256.6H278.9H301.2H323.5H345.8" stroke="#437394"/>
<path d="M78.3 951.7V872.1H93.2V819H108H122.9H137.7V792.4H152.6H167.5V765.9H182.3H197.2H212.1V739.3H226.9H241.8H256.6H271.5H286.4V712.8H301.2H316.1V686.2H330.9H345.8" stroke="#c88143"/>
<path d="M78.3 951.7V792.4H94H109.8V757H125.5H141.2H157V739.3H172.7H188.4V721.6H204.2H219.9H235.7V703.9H251.4H267.1H282.9V686.2H298.6H314.3H330.1H345.8" stroke="#3d7d3d"/>
<path d="M78.3 951.7V937.7H108V853.9H137.7V825.9H167.5V798H197.2V784H226.9V770H256.6V756.1H286.4V742.1H316.1V714.1H345.8V700.2V686.2" stroke="#a24142"/>
<path d="M78.3 951.7V837.9H111.7V781H145.2V762.1H178.6V743.1H212.1V724.1H245.5H278.9V705.2H312.4V686.2H345.8" stroke="#937baa"/>
<path d="M78.3 951.7V819H93.2V765.9H108H122.9V739.3H137.7H152.6H167.5V712.8H182.3H197.2H212.1H226.9H241.8H256.6V686.2H271.5H286.4H301.2H316.1H330.9H345.8" stroke="#7a5c56"/>
<path d="M78.3 951.7V856.9H94V819H109.8H125.5V800H141.2V781H157V762.1H172.7H188.4V743.1H204.2H219.9V724.1H235.7H251.4H267.1V705.2H282.9H298.6H314.3H330.1V686.2H345.8" stroke="#ce92bc"/>
<path d="M78.3 951.7V802.4H92.4V769.2H106.5V752.6H120.5H134.6V736H148.7H162.8V719.4H176.9V702.8H190.9H205H219.1V686.2H233.2H247.2H261.3H275.4H289.5H303.6H317.6H331.7H345.8" stroke="#7f7f7f"/>
<path d="M78.3 951.7V789.5H102.6V774.7H126.9V760H151.3V745.2H175.6V715.7H199.9H224.2V701H248.5H272.8V686.2H297.2H321.5H345.8" stroke="#a5a650"/>
<path d="M78.3 951.7V885.3H111.7V819H145.2V752.6H178.6H212.1H245.5H278.9V719.4H312.4H345.8V686.2" stroke="#4ca8b1"/>
<path d="M78.3 951.7V819H93.2V781H108V762.1H122.9H137.7H152.6H167.5V743.1H182.3V724.1H197.2H212.1H226.9H241.8V705.2H256.6H271.5H286.4H301.2V686.2H316.1H330.9H345.8" stroke="#437394"/>
<path d="M78.3 951.7V782.7H95V734.5H111.7H128.5H145.2H161.9V710.3H178.6H195.3H212.1V686.2H228.8H245.5H262.2H278.9H295.6H312.4H329.1H345.8" stroke="#c88143"/>
<path d="M78.3 951.7V712.8H102.6H126.9V686.2H151.3H175.6H199.9H224.2H248.5H272.8H297.2H321.5H345.8" stroke="#3d7d3d"/>
<path d="M78.3 951.7V837.9H92.4V819H106.5V781H120.5V762.1H134.6H148.7V743.1H162.8H176.9H190.9V724.1H205H219.1H233.2H247.2V705.2H261.3H275.4H289.5V686.2H303.6H317.6H331.7H345.8" stroke="#a24142"/>
<path d="M78.3 951.7V918.5H105V852.1H131.8V819H158.6H185.3V785.8H212.1H238.8V752.6H265.6H292.3V719.4H319.1V686.2H345.8" stroke="#937baa"/>
<path d="M78.3 951.7V909.8H102.6V853.9H126.9V812H151.3V784H175.6V770H199.9V756.1H224.2V742.1H248.5H272.8V728.1H297.2V714.1H321.5V686.2H345.8" stroke="#7a5c56"/>
<path d="M78.3 951.7V918.5H95V885.3H111.7V819H128.5H145.2V785.8H161.9H178.6H195.3H212.1V752.6H228.8H245.5H262.2V719.4H278.9H295.6H312.4H329.1V686.2H345.8" stroke="#ce92bc"/>
<path d="M78.3 951.7V858.8H111.7V792.4H145.2V765.9H178.6V752.6H212.1V739.3H245.5V712.8H278.9H312.4V699.5H345.8V686.2" stroke="#7f7f7f"/>
<path d="M78.3 951.7V769.2H97.4V752.6H116.5V719.4H135.6H154.7H173.8V702.8H192.9H212.1H231.2V686.2H250.3H269.4H288.5H307.6H326.7H345.8" stroke="#a5a650"/>
<path d="M78.3 951.7V856.9H92.4V837.9H106.5V762.1H120.5H134.6H148.7H162.8H176.9V743.1H190.9V724.1H205H219.1H233.2H247.2H261.3V705.2H275.4H289.5H303.6H317.6H331.7V686.2H345.8" stroke="#4ca8b1"/>
<path d="M78.3 951.7V835.5H108V785.8H137.7V736H167.5H197.2V719.4H226.9H256.6H286.4V702.8H316.1V686.2H345.8" stroke="#437394"/>
<path d="M78.3 951.7V825.9H96.1V756.1H114V728.1H131.8H149.6V714.1H167.5H185.3H203.1H221V700.2H238.8V686.2H256.6H274.5H292.3H310.1H328H345.8" stroke="#c88143"/>
<path d="M78.3 951.7V890.4H93.2V870H108V849.6H122.9V808.7H137.7H152.6V788.3H167.5V767.9H182.3H197.2H212.1H226.9V747.5H241.8H256.6H271.5H286.4V727H301.2H316.1V706.6H330.9H345.8V686.2" stroke="#3d7d3d"/>
<path d="M78.3 951.7V796.8H94H109.8V774.7H125.5H141.2V730.5H157H172.7V708.3H188.4H204.2H219.9H235.7H251.4H267.1V686.2H282.9H298.6H314.3H330.1H345.8" stroke="#a24142"/>
<path d="M78.3 951.7V907.5H95V885.3H111.7V841.1H128.5H145.2V819H161.9V774.7H178.6H195.3H212.1V752.6H228.8H245.5H262.2H278.9V730.5H295.6H312.4V708.3H329.1V686.2H345.8" stroke="#937baa"/>
<path d="M78.3 951.7V785.8H95V752.6H111.7V736H128.5H145.2V702.8H161.9V686.2H178.6H195.3H212.1H228.8H245.5H262.2H278.9H295.6H312.4H329.1H345.8" stroke="#7a5c56"/>
<path d="M78.3 951.7V769.2H96.1H114V752.6H131.8H149.6V719.4H167.5V702.8H185.3H203.1H221H238.8H256.6V686.2H274.5H292.3H310.1H328H345.8" stroke="#ce92bc"/>
<path d="M78.3 951.7V852.1H94V802.4H109.8V769.2H125.5V752.6H141.2H157V736H172.7H188.4V702.8H204.2H219.9H235.7H251.4H267.1H282.9H298.6H314.3V686.2H330.1H345.8" stroke="#7f7f7f"/>
<path d="M78.3 951.7V845.5H98.9V792.4H119.5V765.9H140V739.3H160.6H181.2H201.8V712.8H222.3H242.9H263.5V686.2H284.1H304.6H325.2H345.8" stroke="#a5a650"/>
<path d="M78.3 951.7V819H94H109.8V785.8H125.5V752.6H141.2H157H172.7H188.4H204.2H219.9V719.4H235.7H251.4H267.1H282.9V686.2H298.6H314.3H330.1H345.8" stroke="#4ca8b1"/></g></g>
<polygon points="78.3,951.7 81,814.3 89.8,814.3 93.5,790.2 100.9,784.7 108.3,771.7 119.4,762.5 130.4,755.1 141.5,748.6 152.6,743.1 163.7,737.6 174.8,731.1 180,726.4 186.6,722.4 193.1,719.8 199.7,717.8 206.3,715.2 212.8,713.9 219.4,711.2 226,708.6 232.6,706.7 239.1,704.7 245.7,702.1 252.3,700.1 258.8,698.1 265,697 271.2,695.9 277.4,694 283.6,692.4 289.8,690.9 296,689.7 302.2,688.4 308.4,687.5 314.6,686.6 320.8,686.2 345.8,686.2 345.8,686.2 345.8,697.1 332,697.1 330.8,700.9 327,704.6 320.8,707.7 314.6,710.8 308.4,712.6 302.2,715.1 296,717.6 289.8,720.1 283.6,722.6 277.4,725.1 271.2,727.5 265,730.5 258.8,733.6 252.3,736.9 245.7,739.5 239.1,742.1 232.6,744.1 226,746.1 219.4,748.7 212.8,752.6 206.3,757.2 199.7,760.5 193.1,764.5 186.6,768.4 180,772.3 174,775.5 167.4,779.1 158.2,785.6 148.9,792.1 139.7,798.5 130.4,806.9 123.1,814.3 115.7,823.5 108.3,832.7 102.7,843.8 97.2,854.9 92.6,866 89.8,891.9 81,891.9" fill="#808080" fill-opacity="0.37"/>
<line x1="78.3" y1="951.7" x2="345.8" y2="686.2" stroke="#ff4d4d" stroke-width="1.3" stroke-dasharray="2.98 1.35" stroke-dashoffset="-0.2"/>
<polyline points="78.4,951.7 79.6,900 80.5,853.1 88.9,853.1 91.6,840.1 94.4,827.2 97.2,821.6 100.9,818 104.6,811.5 108.3,803.2 113.8,797.6 119.4,791.2 124.9,784.7 132.3,778.2 139.7,773.6 145.2,769.5 148,769 152.6,765.3 158.2,762.5 167.4,755.5 171.1,754.7 177.6,751.8 184,746.8 191.4,743.1 197,738.9 205.2,735.4 209.9,735.4 213.4,731.9 220.4,730.2 228.5,726.3 236.7,723.9 246.1,720.2 251.9,719.2 257.7,716.2 267.1,712.7 276.4,709.9 288.1,706.4 299.8,702.2 311.5,698.7 317.3,696.4 323.1,694 327.8,693.5 331.3,691.2 334.8,688.9 343,688.9 345.8,686.2" fill="none" stroke="#4040f0" stroke-width="1.25" stroke-linejoin="round"/>
<rect x="76" y="683.4" width="272.9" height="271.3" fill="none" stroke="#a2a2a2" stroke-width="1.25"/>
<line x1="78.3" y1="954.7" x2="78.3" y2="956.9" stroke="#a2a2a2" stroke-width="0.8"/>
<line x1="73.8" y1="951.7" x2="76" y2="951.7" stroke="#a2a2a2" stroke-width="0.8"/>
<text x="78.6" y="962" text-anchor="middle" font-size="7.4" fill="#262626">0.0</text>
<text x="73.2" y="954.1" text-anchor="end" font-size="7.4" fill="#262626">0.0</text>
<line x1="131.8" y1="954.7" x2="131.8" y2="956.9" stroke="#a2a2a2" stroke-width="0.8"/>
<line x1="73.8" y1="898.6" x2="76" y2="898.6" stroke="#a2a2a2" stroke-width="0.8"/>
<text x="132.1" y="962" text-anchor="middle" font-size="7.4" fill="#262626">0.2</text>
<text x="73.2" y="901" text-anchor="end" font-size="7.4" fill="#262626">0.2</text>
<line x1="185.3" y1="954.7" x2="185.3" y2="956.9" stroke="#a2a2a2" stroke-width="0.8"/>
<line x1="73.8" y1="845.5" x2="76" y2="845.5" stroke="#a2a2a2" stroke-width="0.8"/>
<text x="185.6" y="962" text-anchor="middle" font-size="7.4" fill="#262626">0.4</text>
<text x="73.2" y="847.9" text-anchor="end" font-size="7.4" fill="#262626">0.4</text>
<line x1="238.8" y1="954.7" x2="238.8" y2="956.9" stroke="#a2a2a2" stroke-width="0.8"/>
<line x1="73.8" y1="792.4" x2="76" y2="792.4" stroke="#a2a2a2" stroke-width="0.8"/>
<text x="239.1" y="962" text-anchor="middle" font-size="7.4" fill="#262626">0.6</text>
<text x="73.2" y="794.8" text-anchor="end" font-size="7.4" fill="#262626">0.6</text>
<line x1="292.3" y1="954.7" x2="292.3" y2="956.9" stroke="#a2a2a2" stroke-width="0.8"/>
<line x1="73.8" y1="739.3" x2="76" y2="739.3" stroke="#a2a2a2" stroke-width="0.8"/>
<text x="292.6" y="962" text-anchor="middle" font-size="7.4" fill="#262626">0.8</text>
<text x="73.2" y="741.7" text-anchor="end" font-size="7.4" fill="#262626">0.8</text>
<line x1="345.8" y1="954.7" x2="345.8" y2="956.9" stroke="#a2a2a2" stroke-width="0.8"/>
<line x1="73.8" y1="686.2" x2="76" y2="686.2" stroke="#a2a2a2" stroke-width="0.8"/>
<text x="346.1" y="962" text-anchor="middle" font-size="7.4" fill="#262626">1.0</text>
<text x="73.2" y="688.6" text-anchor="end" font-size="7.4" fill="#262626">1.0</text>
<text x="212.1" y="972.7" text-anchor="middle" font-size="10.3" fill="#111" stroke="#111" stroke-width="0.2" textLength="82.5" lengthAdjust="spacingAndGlyphs">False Positive Rate</text>
<text transform="translate(59.7,819) rotate(-90)" x="0" y="0" text-anchor="middle" font-size="10.3" fill="#111" stroke="#111" stroke-width="0.2" textLength="80" lengthAdjust="spacingAndGlyphs">True Positive Rate</text>
<rect x="171.6" y="920.4" width="172.6" height="29.1" rx="1.6" fill="#ffffff" fill-opacity="0.85" stroke="#d6d6d6" stroke-width="0.8"/>
<line x1="174.9" y1="927.7" x2="193.3" y2="927.7" stroke="#4040f0" stroke-width="1.1"/>
<rect x="174.9" y="938.1" width="18.4" height="6.8" fill="#d0d0d0"/>
<text x="200.7" y="931.1" font-size="10.0" fill="#111" stroke="#111" stroke-width="0.15" textLength="140.3" lengthAdjust="spacingAndGlyphs">Mean ROC (AUC = 0.78 ± 0.05)</text>
<text x="200.7" y="944.7" font-size="10.0" fill="#111" stroke="#111" stroke-width="0.15" textLength="57" lengthAdjust="spacingAndGlyphs">± 1 std. dev.</text>
<g><g fill="none" stroke-width="0.9" stroke-opacity="0.05"><path d="M412.4 953.4V940.1H425.8V860.4H439.1V820.6H452.5V807.3H465.9V794H479.3H492.6V767.5H506V754.2H519.4H532.8H546.1V727.6H559.5H572.9V714.4H586.3H599.6V701.1H613H626.4H639.8V687.8H653.1H666.5H679.9" stroke="#437394"/>
<path d="M412.4 953.4V923.9H430.2V805.8H448.1V776.3H465.9H483.7V746.8H501.6V717.3H519.4H537.2H555.1H572.9V687.8H590.7H608.6H626.4H644.2H662.1H679.9" stroke="#c88143"/>
<path d="M412.4 953.4V798.5H445.8V754.2H479.3V709.9H512.7H546.1H579.6V687.8H613H646.5H679.9" stroke="#3d7d3d"/>
<path d="M412.4 953.4V757.7H431.5V687.8H450.6H469.7H488.8H507.9H527H546.1H565.3H584.4H603.5H622.6H641.7H660.8H679.9" stroke="#a24142"/>
<path d="M412.4 953.4V926.8H430.2V820.6H448.1H465.9V767.5H483.7H501.6H519.4H537.2V714.4H555.1H572.9H590.7H608.6V687.8H626.4H644.2H662.1H679.9" stroke="#937baa"/>
<path d="M412.4 953.4V923.9H429.1V835.4H445.8H462.6V776.3H479.3H496V746.8H512.7H529.4H546.1H562.9V717.3H579.6H596.3V687.8H613H629.7H646.5H663.2H679.9" stroke="#7a5c56"/>
<path d="M412.4 953.4V870.4H445.8V804H479.3V770.8H512.7V737.6H546.1V704.4H579.6H613V687.8H646.5H679.9" stroke="#ce92bc"/>
<path d="M412.4 953.4V736.1H445.8V711.9H479.3V687.8H512.7H546.1H579.6H613H646.5H679.9" stroke="#7f7f7f"/>
<path d="M412.4 953.4V721H436.7H461V687.8H485.4H509.7H534H558.3H582.6H606.9H631.3H655.6H679.9" stroke="#a5a650"/>
<path d="M412.4 953.4H425.8V864.9H439.1V842.7H452.5V820.6H465.9V798.5H479.3H492.6V754.2H506H519.4H532.8V732.1H546.1H559.5V709.9H572.9H586.3H599.6H613V687.8H626.4H639.8H653.1H666.5H679.9" stroke="#4ca8b1"/>
<path d="M412.4 953.4V853.8H425.8H439.1V787.4H452.5H465.9V754.2H479.3H492.6V721H506H519.4H532.8H546.1V687.8H559.5H572.9H586.3H599.6H613H626.4H639.8H653.1H666.5H679.9" stroke="#437394"/>
<path d="M412.4 953.4V855.5H445.8V799.6H479.3V757.7H512.7V729.7H546.1H579.6V701.8H613H646.5V687.8H679.9" stroke="#c88143"/>
<path d="M412.4 953.4V732.1H445.8V687.8H479.3H512.7H546.1H579.6H613H646.5H679.9" stroke="#3d7d3d"/>
<path d="M412.4 953.4V810.4H445.8V769.5H479.3V749.1H512.7V708.2H546.1H579.6V687.8H613H646.5H679.9" stroke="#a24142"/>
<path d="M412.4 953.4V887H436.7V820.6H461H485.4V754.2H509.7H534V721H558.3H582.6H606.9V687.8H631.3H655.6H679.9" stroke="#937baa"/>
<path d="M412.4 953.4V837.2H439.1V754.2H465.9V737.6H492.6V721H519.4V704.4H546.1H572.9V687.8H599.6H626.4H653.1H679.9" stroke="#7a5c56"/>
<path d="M412.4 953.4V687.8H427.3H442.1H457H471.8H486.7H501.6H516.4H531.3H546.1H561H575.9H590.7H605.6H620.5H635.3H650.2H665H679.9" stroke="#ce92bc"/>
<path d="M412.4 953.4V813.6H427.3V771.7H442.1V743.7H457V729.7H471.8V715.8H486.7H501.6H516.4H531.3V701.8H546.1H561H575.9H590.7V687.8H605.6H620.5H635.3H650.2H665H679.9" stroke="#7f7f7f"/>
<path d="M412.4 953.4V794H436.7H461V767.5H485.4V740.9H509.7H534H558.3V714.4H582.6V687.8H606.9H631.3H655.6H679.9" stroke="#a5a650"/>
<path d="M412.4 953.4V820.6H429.1V754.2H445.8H462.6H479.3V709.9H496H512.7H529.4H546.1V687.8H562.9H579.6H596.3H613H629.7H646.5H663.2H679.9" stroke="#4ca8b1"/>
<path d="M412.4 953.4V763.7H434.7V744.7H457V706.8H479.3H501.6V687.8H523.9H546.1H568.4H590.7H613H635.3H657.6H679.9" stroke="#437394"/>
<path d="M412.4 953.4V864.9H427.3V776.3H442.1H457H471.8V746.8H486.7H501.6H516.4H531.3V717.3H546.1H561H575.9V687.8H590.7H605.6H620.5H635.3H650.2H665H679.9" stroke="#c88143"/>
<path d="M412.4 953.4V799.6H427.3H442.1H457V785.7H471.8V743.7H486.7H501.6V729.7H516.4H531.3V715.8H546.1H561V687.8H575.9H590.7H605.6H620.5H635.3H650.2H665H679.9" stroke="#3d7d3d"/>
<path d="M412.4 953.4H433V887H453.6V853.8H474.1V820.6H494.7H515.3V787.4H535.9H556.4V754.2H577V721H597.6H618.2V687.8H638.7H659.3H679.9" stroke="#a24142"/>
<path d="M412.4 953.4V785.7H434.7V715.8H457V701.8H479.3H501.6V687.8H523.9H546.1H568.4H590.7H613H635.3H657.6H679.9" stroke="#937baa"/>
<path d="M412.4 953.4V785.7H425.8H439.1V771.7H452.5V757.7H465.9V715.8H479.3H492.6V701.8H506H519.4H532.8H546.1H559.5H572.9V687.8H586.3H599.6H613H626.4H639.8H653.1H666.5H679.9" stroke="#7a5c56"/>
<path d="M412.4 953.4V873.7H445.8V820.6H479.3V794H512.7V767.5H546.1V740.9H579.6V714.4H613V687.8H646.5H679.9" stroke="#ce92bc"/>
<path d="M412.4 953.4H426.5V894.4H440.6V835.4H454.6V805.8H468.7H482.8V791.1H496.9V776.3H511H525H539.1V746.8H553.2H567.3V717.3H581.3V702.6H595.4H609.5H623.6H637.7V687.8H651.7H665.8H679.9" stroke="#7f7f7f"/>
<path d="M412.4 953.4V820.6H442.1V798.5H471.8V732.1H501.6H531.3V709.9H561H590.7V687.8H620.5H650.2H679.9" stroke="#a5a650"/>
<path d="M412.4 953.4V709.9H442.1H471.8H501.6H531.3H561V687.8H590.7H620.5H650.2H679.9" stroke="#4ca8b1"/>
<path d="M412.4 953.4V715.8H442.1H471.8H501.6V687.8H531.3H561H590.7H620.5H650.2H679.9" stroke="#437394"/>
<path d="M412.4 953.4V805.8H429.1V746.8H445.8H462.6V702.6H479.3H496H512.7V687.8H529.4H546.1H562.9H579.6H596.3H613H629.7H646.5H663.2H679.9" stroke="#c88143"/>
<path d="M412.4 953.4V909.1H429.1V820.6H445.8V805.8H462.6V776.3H479.3V761.6H496H512.7V746.8H529.4V732.1H546.1V702.6H562.9H579.6H596.3H613H629.7V687.8H646.5H663.2H679.9" stroke="#3d7d3d"/>
<path d="M412.4 953.4V864.9H429.1V835.4H445.8V776.3H462.6H479.3H496V746.8H512.7H529.4H546.1V717.3H562.9H579.6H596.3H613V687.8H629.7H646.5H663.2H679.9" stroke="#a24142"/>
<path d="M412.4 953.4V835.4H433V761.6H453.6V732.1H474.1H494.7H515.3V717.3H535.9V687.8H556.4H577H597.6H618.2H638.7H659.3H679.9" stroke="#937baa"/>
<path d="M412.4 953.4V856.8H425.8V808.5H439.1V784.4H452.5H465.9V760.2H479.3H492.6V736.1H506H519.4V711.9H532.8H546.1H559.5H572.9H586.3H599.6V687.8H613H626.4H639.8H653.1H666.5H679.9" stroke="#7a5c56"/>
<path d="M412.4 953.4V842.7H433V776.3H453.6H474.1V754.2H494.7H515.3V732.1H535.9V709.9H556.4H577V687.8H597.6H618.2H638.7H659.3H679.9" stroke="#ce92bc"/>
<path d="M412.4 953.4V687.8H433H453.6H474.1H494.7H515.3H535.9H556.4H577H597.6H618.2H638.7H659.3H679.9" stroke="#7f7f7f"/>
<path d="M412.4 953.4V767.5H436.7V687.8H461H485.4H509.7H534H558.3H582.6H606.9H631.3H655.6H679.9" stroke="#a5a650"/>
<path d="M412.4 953.4V750.3H429.1H445.8H462.6V734.7H479.3H496V703.4H512.7H529.4H546.1V687.8H562.9H579.6H596.3H613H629.7H646.5H663.2H679.9" stroke="#4ca8b1"/>
<path d="M412.4 953.4V732.1H425.8V687.8H439.1H452.5H465.9H479.3H492.6H506H519.4H532.8H546.1H559.5H572.9H586.3H599.6H613H626.4H639.8H653.1H666.5H679.9" stroke="#437394"/>
<path d="M412.4 953.4V903.6H433V853.8H453.6V787.4H474.1H494.7H515.3V754.2H535.9V737.6H556.4V704.4H577H597.6H618.2H638.7V687.8H659.3H679.9" stroke="#c88143"/>
<path d="M412.4 953.4V820.6H429.1V754.2H445.8H462.6H479.3H496V687.8H512.7H529.4H546.1H562.9H579.6H596.3H613H629.7H646.5H663.2H679.9" stroke="#3d7d3d"/>
<path d="M412.4 953.4V687.8H431.5H450.6H469.7H488.8H507.9H527H546.1H565.3H584.4H603.5H622.6H641.7H660.8H679.9" stroke="#a24142"/>
<path d="M412.4 953.4V701.1H445.8H479.3V687.8H512.7H546.1H579.6H613H646.5H679.9" stroke="#937baa"/>
<path d="M412.4 953.4V711.9H436.7H461H485.4H509.7V687.8H534H558.3H582.6H606.9H631.3H655.6H679.9" stroke="#7a5c56"/>
<path d="M412.4 953.4V687.8H433H453.6H474.1H494.7H515.3H535.9H556.4H577H597.6H618.2H638.7H659.3H679.9" stroke="#ce92bc"/>
<path d="M412.4 953.4V833.9H431.5V740.9H450.6H469.7V727.6H488.8V701.1H507.9H527H546.1H565.3V687.8H584.4H603.5H622.6H641.7H660.8H679.9" stroke="#7f7f7f"/>
<path d="M412.4 953.4V687.8H445.8H479.3H512.7H546.1H579.6H613H646.5H679.9" stroke="#a5a650"/>
<path d="M412.4 953.4V740.9H433V687.8H453.6H474.1H494.7H515.3H535.9H556.4H577H597.6H618.2H638.7H659.3H679.9" stroke="#4ca8b1"/>
<path d="M412.4 953.4V882.6H431.5V794H450.6H469.7V758.6H488.8H507.9V740.9H527V723.2H546.1V705.5H565.3H584.4H603.5H622.6V687.8H641.7H660.8H679.9" stroke="#437394"/>
<path d="M412.4 953.4V771.7H431.5V743.7H450.6V715.8H469.7H488.8H507.9V701.8H527H546.1V687.8H565.3H584.4H603.5H622.6H641.7H660.8H679.9" stroke="#c88143"/>
<path d="M412.4 953.4V782.7H426.5V744.7H440.6V706.8H454.6V687.8H468.7H482.8H496.9H511H525H539.1H553.2H567.3H581.3H595.4H609.5H623.6H637.7H651.7H665.8H679.9" stroke="#3d7d3d"/>
<path d="M412.4 953.4V687.8H426.5H440.6H454.6H468.7H482.8H496.9H511H525H539.1H553.2H567.3H581.3H595.4H609.5H623.6H637.7H651.7H665.8H679.9" stroke="#a24142"/>
<path d="M412.4 953.4V798.5H431.5V709.9H450.6H469.7H488.8H507.9V687.8H527H546.1H565.3H584.4H603.5H622.6H641.7H660.8H679.9" stroke="#937baa"/>
<path d="M412.4 953.4V784.4H431.5V687.8H450.6H469.7H488.8H507.9H527H546.1H565.3H584.4H603.5H622.6H641.7H660.8H679.9" stroke="#7a5c56"/>
<path d="M412.4 953.4V714.4H431.5V687.8H450.6H469.7H488.8H507.9H527H546.1H565.3H584.4H603.5H622.6H641.7H660.8H679.9" stroke="#ce92bc"/>
<path d="M412.4 953.4V842.7H427.3H442.1V820.6H457V776.3H471.8V754.2H486.7V732.1H501.6H516.4H531.3V709.9H546.1H561H575.9H590.7H605.6V687.8H620.5H635.3H650.2H665H679.9" stroke="#7f7f7f"/>
<path d="M412.4 953.4V855.5H425.8V813.6H439.1V799.6H452.5V771.7H465.9H479.3V757.7H492.6H506H519.4V729.7H532.8H546.1H559.5V715.8H572.9V701.8H586.3H599.6H613H626.4V687.8H639.8H653.1H666.5H679.9" stroke="#a5a650"/>
<path d="M412.4 953.4V787.4H442.1V721H471.8V687.8H501.6H531.3H561H590.7H620.5H650.2H679.9" stroke="#4ca8b1"/>
<path d="M412.4 953.4H439.1V839.6H465.9V801.6H492.6H519.4V763.7H546.1V744.7H572.9V725.7H599.6V706.8H626.4V687.8H653.1H679.9" stroke="#437394"/>
<path d="M412.4 953.4V909.1H427.3V835.4H442.1V805.8H457V776.3H471.8H486.7V761.6H501.6H516.4V746.8H531.3H546.1V702.6H561H575.9H590.7H605.6H620.5V687.8H635.3H650.2H665H679.9" stroke="#c88143"/>
<path d="M412.4 953.4V887H439.1V820.6H465.9V798.5H492.6V754.2H519.4V732.1H546.1V709.9H572.9H599.6H626.4V687.8H653.1H679.9" stroke="#3d7d3d"/>
<path d="M412.4 953.4V812.8H434.7V750.3H457V734.7H479.3H501.6V719H523.9V703.4H546.1V687.8H568.4H590.7H613H635.3H657.6H679.9" stroke="#a24142"/>
<path d="M412.4 953.4V787.4H425.8V721H439.1H452.5H465.9H479.3V687.8H492.6H506H519.4H532.8H546.1H559.5H572.9H586.3H599.6H613H626.4H639.8H653.1H666.5H679.9" stroke="#937baa"/>
<path d="M412.4 953.4V754.2H425.8V687.8H439.1H452.5H465.9H479.3H492.6H506H519.4H532.8H546.1H559.5H572.9H586.3H599.6H613H626.4H639.8H653.1H666.5H679.9" stroke="#7a5c56"/>
<path d="M412.4 953.4V926.8H431.5V847.2H450.6V767.5H469.7H488.8H507.9V740.9H527H546.1V714.4H565.3H584.4H603.5H622.6V687.8H641.7H660.8H679.9" stroke="#ce92bc"/>
<path d="M412.4 953.4V887H427.3V820.6H442.1H457V770.8H471.8H486.7H501.6V754.2H516.4H531.3V721H546.1H561H575.9H590.7V704.4H605.6H620.5H635.3V687.8H650.2H665H679.9" stroke="#7f7f7f"/>
<path d="M412.4 953.4V805.8H436.7V717.3H461H485.4H509.7V687.8H534H558.3H582.6H606.9H631.3H655.6H679.9" stroke="#a5a650"/>
<path d="M412.4 953.4V841.6H427.3V813.6H442.1V785.7H457V743.7H471.8H486.7V729.7H501.6V715.8H516.4H531.3V687.8H546.1H561H575.9H590.7H605.6H620.5H635.3H650.2H665H679.9" stroke="#4ca8b1"/>
<path d="M412.4 953.4V794H429.1V767.5H445.8V714.4H462.6H479.3H496H512.7V687.8H529.4H546.1H562.9H579.6H596.3H613H629.7H646.5H663.2H679.9" stroke="#437394"/>
<path d="M412.4 953.4V841.6H431.5V785.7H450.6V771.7H469.7V757.7H488.8H507.9V743.7H527V729.7H546.1V715.8H565.3H584.4V701.8H603.5H622.6V687.8H641.7H660.8H679.9" stroke="#c88143"/>
<path d="M412.4 953.4V832.7H439.1V736.1H465.9H492.6V711.9H519.4H546.1H572.9V687.8H599.6H626.4H653.1H679.9" stroke="#3d7d3d"/>
<path d="M412.4 953.4V744.7H425.8V725.7H439.1V687.8H452.5H465.9H479.3H492.6H506H519.4H532.8H546.1H559.5H572.9H586.3H599.6H613H626.4H639.8H653.1H666.5H679.9" stroke="#a24142"/>
<path d="M412.4 953.4V915.5H434.7V820.6H457V782.7H479.3H501.6V763.7H523.9V725.7H546.1H568.4H590.7V706.8H613H635.3V687.8H657.6H679.9" stroke="#937baa"/>
<path d="M412.4 953.4V776.3H429.1V746.8H445.8V687.8H462.6H479.3H496H512.7H529.4H546.1H562.9H579.6H596.3H613H629.7H646.5H663.2H679.9" stroke="#7a5c56"/>
<path d="M412.4 953.4V887H426.5V853.8H440.6V787.4H454.6H468.7V754.2H482.8H496.9H511V721H525H539.1H553.2H567.3H581.3H595.4V687.8H609.5H623.6H637.7H651.7H665.8H679.9" stroke="#ce92bc"/>
<path d="M412.4 953.4V875.3H430.2V812.8H448.1V765.9H465.9V750.3H483.7H501.6V719H519.4H537.2H555.1V703.4H572.9V687.8H590.7H608.6H626.4H644.2H662.1H679.9" stroke="#7f7f7f"/>
<path d="M412.4 953.4V763.7H427.3H442.1V725.7H457V706.8H471.8V687.8H486.7H501.6H516.4H531.3H546.1H561H575.9H590.7H605.6H620.5H635.3H650.2H665H679.9" stroke="#a5a650"/>
<path d="M412.4 953.4V820.6H428.1V770.8H443.9V737.6H459.6V704.4H475.3H491.1H506.8V687.8H522.5H538.3H554H569.8H585.5H601.2H617H632.7H648.4H664.2H679.9" stroke="#4ca8b1"/>
<path d="M412.4 953.4V754.2H442.1V704.4H471.8H501.6V687.8H531.3H561H590.7H620.5H650.2H679.9" stroke="#437394"/>
<path d="M412.4 953.4V820.6H436.7V725.7H461H485.4H509.7V706.8H534H558.3V687.8H582.6H606.9H631.3H655.6H679.9" stroke="#c88143"/>
<path d="M412.4 953.4V820.6H425.8V794H439.1V767.5H452.5H465.9H479.3V740.9H492.6H506V714.4H519.4H532.8H546.1H559.5H572.9V687.8H586.3H599.6H613H626.4H639.8H653.1H666.5H679.9" stroke="#3d7d3d"/>
<path d="M412.4 953.4V832.7H428.1V784.4H443.9V760.2H459.6H475.3V687.8H491.1H506.8H522.5H538.3H554H569.8H585.5H601.2H617H632.7H648.4H664.2H679.9" stroke="#a24142"/>
<path d="M412.4 953.4V687.8H426.5H440.6H454.6H468.7H482.8H496.9H511H525H539.1H553.2H567.3H581.3H595.4H609.5H623.6H637.7H651.7H665.8H679.9" stroke="#937baa"/>
<path d="M412.4 953.4V820.6H439.1V754.2H465.9H492.6V721H519.4H546.1V687.8H572.9H599.6H626.4H653.1H679.9" stroke="#7a5c56"/>
<path d="M412.4 953.4V717.3H430.2V687.8H448.1H465.9H483.7H501.6H519.4H537.2H555.1H572.9H590.7H608.6H626.4H644.2H662.1H679.9" stroke="#ce92bc"/>
<path d="M412.4 953.4V813.6H436.7V771.7H461V743.7H485.4V715.8H509.7V701.8H534H558.3H582.6V687.8H606.9H631.3H655.6H679.9" stroke="#7f7f7f"/>
<path d="M412.4 953.4V905.1H431.5V808.5H450.6H469.7V760.2H488.8H507.9V736.1H527H546.1V711.9H565.3V687.8H584.4H603.5H622.6H641.7H660.8H679.9" stroke="#a5a650"/>
<path d="M412.4 953.4V900.3H426.5V847.2H440.6V794H454.6V776.3H468.7H482.8H496.9H511V740.9H525H539.1H553.2V705.5H567.3H581.3H595.4H609.5H623.6V687.8H637.7H651.7H665.8H679.9" stroke="#4ca8b1"/>
<path d="M412.4 953.4V776.3H428.1H443.9V717.3H459.6V687.8H475.3H491.1H506.8H522.5H538.3H554H569.8H585.5H601.2H617H632.7H648.4H664.2H679.9" stroke="#437394"/>
<path d="M412.4 953.4V798.5H436.7V732.1H461V709.9H485.4V687.8H509.7H534H558.3H582.6H606.9H631.3H655.6H679.9" stroke="#c88143"/>
<path d="M412.4 953.4V820.6H427.3V782.7H442.1V725.7H457H471.8H486.7H501.6V706.8H516.4H531.3H546.1H561H575.9V687.8H590.7H605.6H620.5H635.3H650.2H665H679.9" stroke="#3d7d3d"/>
<path d="M412.4 953.4V767.5H429.1V714.4H445.8H462.6H479.3V687.8H496H512.7H529.4H546.1H562.9H579.6H596.3H613H629.7H646.5H663.2H679.9" stroke="#a24142"/>
<path d="M412.4 953.4V835.4H442.1V776.3H471.8H501.6V746.8H531.3H561V717.3H590.7H620.5V687.8H650.2H679.9" stroke="#937baa"/>
<path d="M412.4 953.4V909.1H426.5V864.9H440.6V820.6H454.6V798.5H468.7V776.3H482.8V754.2H496.9H511H525V709.9H539.1H553.2H567.3H581.3H595.4H609.5V687.8H623.6H637.7H651.7H665.8H679.9" stroke="#7a5c56"/>
<path d="M412.4 953.4V761.6H436.7V746.8H461V702.6H485.4V687.8H509.7H534H558.3H582.6H606.9H631.3H655.6H679.9" stroke="#ce92bc"/>
<path d="M412.4 953.4V829.5H428.1V758.6H443.9H459.6V740.9H475.3V705.5H491.1V687.8H506.8H522.5H538.3H554H569.8H585.5H601.2H617H632.7H648.4H664.2H679.9" stroke="#7f7f7f"/>
<path d="M412.4 953.4V702.6H442.1V687.8H471.8H501.6H531.3H561H590.7H620.5H650.2H679.9" stroke="#a5a650"/>
<path d="M412.4 953.4V737.6H428.1V721H443.9V704.4H459.6V687.8H475.3H491.1H506.8H522.5H538.3H554H569.8H585.5H601.2H617H632.7H648.4H664.2H679.9" stroke="#4ca8b1"/>
<path d="M412.4 953.4V887H431.5V842.7H450.6V798.5H469.7V776.3H488.8V754.2H507.9H527H546.1V732.1H565.3V709.9H584.4H603.5H622.6V687.8H641.7H660.8H679.9" stroke="#437394"/>
<path d="M412.4 953.4V787.4H442.1V754.2H471.8V704.4H501.6H531.3H561V687.8H590.7H620.5H650.2H679.9" stroke="#c88143"/>
<path d="M412.4 953.4V787.4H442.1V721H471.8H501.6V704.4H531.3H561H590.7V687.8H620.5H650.2H679.9" stroke="#3d7d3d"/>
<path d="M412.4 953.4V769.5H431.5V728.7H450.6V708.2H469.7H488.8H507.9V687.8H527H546.1H565.3H584.4H603.5H622.6H641.7H660.8H679.9" stroke="#a24142"/>
<path d="M412.4 953.4V830.8H434.7V769.5H457V728.7H479.3V708.2H501.6H523.9H546.1H568.4V687.8H590.7H613H635.3H657.6H679.9" stroke="#937baa"/>
<path d="M412.4 953.4V794H431.5V687.8H450.6H469.7H488.8H507.9H527H546.1H565.3H584.4H603.5H622.6H641.7H660.8H679.9" stroke="#7a5c56"/>
<path d="M412.4 953.4V744.7H429.1V687.8H445.8H462.6H479.3H496H512.7H529.4H546.1H562.9H579.6H596.3H613H629.7H646.5H663.2H679.9" stroke="#ce92bc"/>
<path d="M412.4 953.4V847.2H425.8V820.6H439.1H452.5H465.9V794H479.3V767.5H492.6V740.9H506H519.4H532.8H546.1H559.5V714.4H572.9H586.3H599.6H613V687.8H626.4H639.8H653.1H666.5H679.9" stroke="#7f7f7f"/>
<path d="M412.4 953.4H426.5V837.2H440.6V804H454.6V787.4H468.7V770.8H482.8H496.9V754.2H511H525V737.6H539.1H553.2V721H567.3H581.3V704.4H595.4H609.5V687.8H623.6H637.7H651.7H665.8H679.9" stroke="#a5a650"/>
<path d="M412.4 953.4V833.9H427.3V780.8H442.1H457V727.6H471.8H486.7H501.6V701.1H516.4H531.3H546.1H561H575.9H590.7H605.6V687.8H620.5H635.3H650.2H665H679.9" stroke="#4ca8b1"/>
<path d="M412.4 953.4V837.2H430.2V770.8H448.1V754.2H465.9H483.7V737.6H501.6H519.4V687.8H537.2H555.1H572.9H590.7H608.6H626.4H644.2H662.1H679.9" stroke="#437394"/>
<path d="M412.4 953.4V923.9H439.1V835.4H465.9V805.8H492.6V746.8H519.4H546.1H572.9V717.3H599.6V687.8H626.4H653.1H679.9" stroke="#c88143"/>
<path d="M412.4 953.4V746.8H442.1V717.3H471.8H501.6H531.3V687.8H561H590.7H620.5H650.2H679.9" stroke="#3d7d3d"/>
<path d="M412.4 953.4V887H434.7V820.6H457V754.2H479.3H501.6H523.9H546.1V721H568.4H590.7V687.8H613H635.3H657.6H679.9" stroke="#a24142"/>
<path d="M412.4 953.4V828.4H429.1V812.8H445.8V734.7H462.6H479.3H496V719H512.7H529.4V703.4H546.1H562.9H579.6H596.3V687.8H613H629.7H646.5H663.2H679.9" stroke="#937baa"/>
<path d="M412.4 953.4V875.3H427.3V828.4H442.1V781.5H457V765.9H471.8V750.3H486.7H501.6V734.7H516.4V719H531.3V703.4H546.1H561H575.9H590.7H605.6H620.5V687.8H635.3H650.2H665H679.9" stroke="#7a5c56"/>
<path d="M412.4 953.4V794H434.7V714.4H457H479.3H501.6H523.9V701.1H546.1V687.8H568.4H590.7H613H635.3H657.6H679.9" stroke="#ce92bc"/>
<path d="M412.4 953.4V812.8H426.5V734.7H440.6V719H454.6H468.7V703.4H482.8H496.9V687.8H511H525H539.1H553.2H567.3H581.3H595.4H609.5H623.6H637.7H651.7H665.8H679.9" stroke="#7f7f7f"/>
<path d="M412.4 953.4V844H428.1V765.9H443.9V734.7H459.6V719H475.3V703.4H491.1H506.8V687.8H522.5H538.3H554H569.8H585.5H601.2H617H632.7H648.4H664.2H679.9" stroke="#a5a650"/>
<path d="M412.4 953.4V905.1H439.1V832.7H465.9V784.4H492.6H519.4V760.2H546.1V736.1H572.9V711.9H599.6H626.4V687.8H653.1H679.9" stroke="#4ca8b1"/>
<path d="M412.4 953.4V776.3H439.1V754.2H465.9H492.6V709.9H519.4H546.1V687.8H572.9H599.6H626.4H653.1H679.9" stroke="#437394"/>
<path d="M412.4 953.4V797.2H439.1V765.9H465.9V750.3H492.6V719H519.4V703.4H546.1H572.9H599.6V687.8H626.4H653.1H679.9" stroke="#c88143"/>
<path d="M412.4 953.4V820.6H428.1H443.9V754.2H459.6H475.3H491.1V721H506.8H522.5V687.8H538.3H554H569.8H585.5H601.2H617H632.7H648.4H664.2H679.9" stroke="#3d7d3d"/>
<path d="M412.4 953.4V746.8H429.1V717.3H445.8H462.6H479.3V687.8H496H512.7H529.4H546.1H562.9H579.6H596.3H613H629.7H646.5H663.2H679.9" stroke="#a24142"/>
<path d="M412.4 953.4V839.6H434.7V782.7H457H479.3V744.7H501.6H523.9V725.7H546.1H568.4V706.8H590.7H613V687.8H635.3H657.6H679.9" stroke="#937baa"/>
<path d="M412.4 953.4V763.7H426.5H440.6V706.8H454.6H468.7V687.8H482.8H496.9H511H525H539.1H553.2H567.3H581.3H595.4H609.5H623.6H637.7H651.7H665.8H679.9" stroke="#7a5c56"/>
<path d="M412.4 953.4V900.3H425.8V820.6H439.1V767.5H452.5H465.9V740.9H479.3H492.6H506H519.4V714.4H532.8H546.1H559.5H572.9V687.8H586.3H599.6H613H626.4H639.8H653.1H666.5H679.9" stroke="#ce92bc"/>
<path d="M412.4 953.4V760.2H442.1V736.1H471.8H501.6V687.8H531.3H561H590.7H620.5H650.2H679.9" stroke="#7f7f7f"/>
<path d="M412.4 953.4V776.3H433V746.8H453.6V717.3H474.1H494.7V687.8H515.3H535.9H556.4H577H597.6H618.2H638.7H659.3H679.9" stroke="#a5a650"/>
<path d="M412.4 953.4V769.5H431.5V728.7H450.6V708.2H469.7V687.8H488.8H507.9H527H546.1H565.3H584.4H603.5H622.6H641.7H660.8H679.9" stroke="#4ca8b1"/>
<path d="M412.4 953.4V873.7H430.2V794H448.1V740.9H465.9H483.7H501.6V714.4H519.4H537.2H555.1H572.9V687.8H590.7H608.6H626.4H644.2H662.1H679.9" stroke="#437394"/>
<path d="M412.4 953.4V790H439.1V728.7H465.9V687.8H492.6H519.4H546.1H572.9H599.6H626.4H653.1H679.9" stroke="#c88143"/>
<path d="M412.4 953.4V820.6H431.5V787.4H450.6H469.7V721H488.8H507.9H527H546.1H565.3V687.8H584.4H603.5H622.6H641.7H660.8H679.9" stroke="#3d7d3d"/>
<path d="M412.4 953.4V717.3H445.8V687.8H479.3H512.7H546.1H579.6H613H646.5H679.9" stroke="#a24142"/>
<path d="M412.4 953.4V820.6H442.1V787.4H471.8V754.2H501.6H531.3V687.8H561H590.7H620.5H650.2H679.9" stroke="#937baa"/>
<path d="M412.4 953.4V787.4H436.7V770.8H461V754.2H485.4V737.6H509.7V704.4H534H558.3V687.8H582.6H606.9H631.3H655.6H679.9" stroke="#7a5c56"/>
<path d="M412.4 953.4V801.6H434.7V763.7H457V725.7H479.3H501.6H523.9V706.8H546.1V687.8H568.4H590.7H613H635.3H657.6H679.9" stroke="#ce92bc"/>
<path d="M412.4 953.4V732.1H425.8V709.9H439.1H452.5H465.9V687.8H479.3H492.6H506H519.4H532.8H546.1H559.5H572.9H586.3H599.6H613H626.4H639.8H653.1H666.5H679.9" stroke="#7f7f7f"/>
<path d="M412.4 953.4V711.9H427.3H442.1H457V687.8H471.8H486.7H501.6H516.4H531.3H546.1H561H575.9H590.7H605.6H620.5H635.3H650.2H665H679.9" stroke="#a5a650"/>
<path d="M412.4 953.4V794H431.5V767.5H450.6H469.7V714.4H488.8H507.9H527V687.8H546.1H565.3H584.4H603.5H622.6H641.7H660.8H679.9" stroke="#4ca8b1"/>
<path d="M412.4 953.4V873.7H433V794H453.6H474.1V740.9H494.7H515.3V714.4H535.9H556.4H577H597.6V687.8H618.2H638.7H659.3H679.9" stroke="#437394"/>
<path d="M412.4 953.4V911.5H427.3V841.6H442.1V813.6H457V785.7H471.8V757.7H486.7H501.6V743.7H516.4H531.3V729.7H546.1H561V715.8H575.9H590.7V701.8H605.6H620.5V687.8H635.3H650.2H665H679.9" stroke="#c88143"/>
<path d="M412.4 953.4H429.1H445.8V905.1H462.6V856.8H479.3V832.7H496H512.7V808.5H529.4V784.4H546.1V760.2H562.9H579.6V736.1H596.3V711.9H613H629.7H646.5V687.8H663.2H679.9" stroke="#3d7d3d"/>
<path d="M412.4 953.4V820.6H425.8H439.1V782.7H452.5H465.9H479.3V763.7H492.6H506H519.4V744.7H532.8V725.7H546.1H559.5H572.9V706.8H586.3V687.8H599.6H613H626.4H639.8H653.1H666.5H679.9" stroke="#a24142"/>
<path d="M412.4 953.4V820.6H426.5V780.8H440.6H454.6V767.5H468.7V754.2H482.8H496.9V714.4H511V701.1H525H539.1H553.2H567.3V687.8H581.3H595.4H609.5H623.6H637.7H651.7H665.8H679.9" stroke="#937baa"/>
<path d="M412.4 953.4V820.6H439.1V754.2H465.9V732.1H492.6V709.9H519.4H546.1H572.9V687.8H599.6H626.4H653.1H679.9" stroke="#7a5c56"/>
<path d="M412.4 953.4V864.9H445.8V776.3H479.3V746.8H512.7V732.1H546.1V717.3H579.6V702.6H613H646.5V687.8H679.9" stroke="#ce92bc"/>
<path d="M412.4 953.4V820.6H439.1V805.8H465.9V761.6H492.6V732.1H519.4H546.1V717.3H572.9V702.6H599.6V687.8H626.4H653.1H679.9" stroke="#7f7f7f"/>
<path d="M412.4 953.4V864.9H425.8V805.8H439.1V776.3H452.5H465.9V746.8H479.3H492.6H506V717.3H519.4H532.8H546.1H559.5V687.8H572.9H586.3H599.6H613H626.4H639.8H653.1H666.5H679.9" stroke="#a5a650"/>
<path d="M412.4 953.4V892.1H429.1V790H445.8V769.5H462.6V749.1H479.3H496H512.7H529.4V728.7H546.1H562.9V708.2H579.6H596.3H613V687.8H629.7H646.5H663.2H679.9" stroke="#4ca8b1"/>
<path d="M412.4 953.4V858.5H445.8V763.7H479.3V744.7H512.7V725.7H546.1V706.8H579.6H613V687.8H646.5H679.9" stroke="#437394"/>
<path d="M412.4 953.4V808.5H425.8V784.4H439.1V760.2H452.5V736.1H465.9H479.3V711.9H492.6H506H519.4V687.8H532.8H546.1H559.5H572.9H586.3H599.6H613H626.4H639.8H653.1H666.5H679.9" stroke="#c88143"/>
<path d="M412.4 953.4V829.5H436.7V758.6H461H485.4V705.5H509.7H534H558.3V687.8H582.6H606.9H631.3H655.6H679.9" stroke="#3d7d3d"/>
<path d="M412.4 953.4V864.9H431.5V776.3H450.6V746.8H469.7V702.6H488.8H507.9H527H546.1H565.3H584.4V687.8H603.5H622.6H641.7H660.8H679.9" stroke="#a24142"/>
<path d="M412.4 953.4V687.8H428.1H443.9H459.6H475.3H491.1H506.8H522.5H538.3H554H569.8H585.5H601.2H617H632.7H648.4H664.2H679.9" stroke="#937baa"/>
<path d="M412.4 953.4V781.5H430.2V765.9H448.1V750.3H465.9V719H483.7H501.6V703.4H519.4H537.2H555.1H572.9V687.8H590.7H608.6H626.4H644.2H662.1H679.9" stroke="#7a5c56"/>
<path d="M412.4 953.4V844H431.5V750.3H450.6H469.7H488.8V719H507.9H527H546.1V687.8H565.3H584.4H603.5H622.6H641.7H660.8H679.9" stroke="#ce92bc"/>
<path d="M412.4 953.4V754.2H433V727.6H453.6V701.1H474.1V687.8H494.7H515.3H535.9H556.4H577H597.6H618.2H638.7H659.3H679.9" stroke="#7f7f7f"/>
<path d="M412.4 953.4V820.6H427.3V780.8H442.1V767.5H457V740.9H471.8H486.7V727.6H501.6V701.1H516.4H531.3H546.1H561H575.9H590.7V687.8H605.6H620.5H635.3H650.2H665H679.9" stroke="#a5a650"/>
<path d="M412.4 953.4V841.6H442.1V757.7H471.8V729.7H501.6H531.3V715.8H561V701.8H590.7H620.5V687.8H650.2H679.9" stroke="#4ca8b1"/>
<path d="M412.4 953.4V918H430.2V847.2H448.1H465.9V811.7H483.7V794H501.6H519.4V758.6H537.2V740.9H555.1H572.9V723.2H590.7V705.5H608.6H626.4H644.2V687.8H662.1H679.9" stroke="#437394"/>
<path d="M412.4 953.4V810.4H428.1V749.1H443.9V728.7H459.6H475.3H491.1V708.2H506.8H522.5H538.3V687.8H554H569.8H585.5H601.2H617H632.7H648.4H664.2H679.9" stroke="#c88143"/>
<path d="M412.4 953.4V754.2H433V687.8H453.6H474.1H494.7H515.3H535.9H556.4H577H597.6H618.2H638.7H659.3H679.9" stroke="#3d7d3d"/>
<path d="M412.4 953.4V787.4H442.1V721H471.8V687.8H501.6H531.3H561H590.7H620.5H650.2H679.9" stroke="#a24142"/>
<path d="M412.4 953.4V875.3H436.7V765.9H461V734.7H485.4H509.7V719H534H558.3V703.4H582.6H606.9V687.8H631.3H655.6H679.9" stroke="#937baa"/>
<path d="M412.4 953.4V787.4H426.5V754.2H440.6H454.6H468.7V721H482.8H496.9H511V687.8H525H539.1H553.2H567.3H581.3H595.4H609.5H623.6H637.7H651.7H665.8H679.9" stroke="#7a5c56"/>
<path d="M412.4 953.4V754.2H431.5V727.6H450.6V714.4H469.7V701.1H488.8H507.9H527V687.8H546.1H565.3H584.4H603.5H622.6H641.7H660.8H679.9" stroke="#ce92bc"/>
<path d="M412.4 953.4V827.6H425.8V799.6H439.1V771.7H452.5V743.7H465.9H479.3V729.7H492.6H506H519.4H532.8V715.8H546.1V701.8H559.5H572.9H586.3V687.8H599.6H613H626.4H639.8H653.1H666.5H679.9" stroke="#7f7f7f"/>
<path d="M412.4 953.4V754.2H430.2V721H448.1V687.8H465.9H483.7H501.6H519.4H537.2H555.1H572.9H590.7H608.6H626.4H644.2H662.1H679.9" stroke="#a5a650"/>
<path d="M412.4 953.4V763.7H427.3V687.8H442.1H457H471.8H486.7H501.6H516.4H531.3H546.1H561H575.9H590.7H605.6H620.5H635.3H650.2H665H679.9" stroke="#4ca8b1"/>
<path d="M412.4 953.4V790H439.1V728.7H465.9H492.6V708.2H519.4V687.8H546.1H572.9H599.6H626.4H653.1H679.9" stroke="#437394"/>
<path d="M412.4 953.4H428.1V890.9H443.9V844H459.6V828.4H475.3V812.8H491.1H506.8V781.5H522.5H538.3V765.9H554V734.7H569.8H585.5V719H601.2H617V703.4H632.7H648.4V687.8H664.2H679.9" stroke="#c88143"/>
<path d="M412.4 953.4V746.8H442.1V717.3H471.8V687.8H501.6H531.3H561H590.7H620.5H650.2H679.9" stroke="#3d7d3d"/>
<path d="M412.4 953.4V820.6H427.3V770.8H442.1V754.2H457H471.8V737.6H486.7H501.6H516.4V721H531.3H546.1H561V704.4H575.9H590.7V687.8H605.6H620.5H635.3H650.2H665H679.9" stroke="#a24142"/>
<path d="M412.4 953.4V719H426.5H440.6V687.8H454.6H468.7H482.8H496.9H511H525H539.1H553.2H567.3H581.3H595.4H609.5H623.6H637.7H651.7H665.8H679.9" stroke="#937baa"/>
<path d="M412.4 953.4V900.3H439.1V847.2H465.9V794H492.6H519.4V767.5H546.1V714.4H572.9H599.6H626.4V687.8H653.1H679.9" stroke="#7a5c56"/>
<path d="M412.4 953.4V835.4H429.1V805.8H445.8V776.3H462.6H479.3V746.8H496H512.7H529.4V717.3H546.1H562.9H579.6H596.3V687.8H613H629.7H646.5H663.2H679.9" stroke="#ce92bc"/>
<path d="M412.4 953.4V830.8H425.8V810.4H439.1V728.7H452.5H465.9H479.3H492.6H506H519.4V708.2H532.8H546.1H559.5V687.8H572.9H586.3H599.6H613H626.4H639.8H653.1H666.5H679.9" stroke="#7f7f7f"/>
<path d="M412.4 953.4V805.8H429.1H445.8V746.8H462.6H479.3H496V717.3H512.7V687.8H529.4H546.1H562.9H579.6H596.3H613H629.7H646.5H663.2H679.9" stroke="#a5a650"/>
<path d="M412.4 953.4V760.2H445.8H479.3H512.7V736.1H546.1V711.9H579.6V687.8H613H646.5H679.9" stroke="#4ca8b1"/></g></g>
<polygon points="412.4,953.4 415.1,764.1 424,764.1 427,739.1 429,737.1 437,735 441,724 449,718 459,712 469.1,707 479.1,702 489.1,698 500,694 507,690.5 515,689 522,688 679.9,687.8 679.7,687.6 667.3,688.2 660.7,689.1 654.1,689.9 647.6,690.9 641,692.2 634.4,694.1 627.8,696.1 621.3,698.1 614.7,699.4 608.1,700.7 601.6,701.5 594.9,702.5 587.6,704.9 580.3,707.8 573,711.5 565.7,713.7 558.4,716.3 551.1,719.5 543.8,722.4 536.5,726.8 529.2,730.4 521.9,734.1 514.6,737.7 507.3,741.4 500,745.8 494.5,749 489.1,753.1 481.1,759.1 471.1,765.1 463.1,775.1 455,785.1 447,795.1 441,805.1 437,818.1 429,825.1 426,837.2 424,870.2 415.1,870.2" fill="#808080" fill-opacity="0.37"/>
<line x1="412.4" y1="953.4" x2="679.9" y2="687.8" stroke="#ff4d4d" stroke-width="1.3" stroke-dasharray="2.98 1.35" stroke-dashoffset="-0.2"/>
<polyline points="412.4,953.4 413.4,880 414.6,817.5 423,817.5 425,809.1 428,783.1 431,777.5 435,775.5 439,770.1 442,761.1 449,755.1 457,748.1 465.1,741.1 472.1,735.4 479.1,732 487.1,727 495.1,723 500,720.2 507.3,716.9 514.6,713.7 521.9,710.7 529.2,708.5 535,707.1 539.4,705.6 544.5,704.9 547.4,702.3 552.6,702 556.2,700.2 562.8,698.3 570.1,696.9 577.4,695.4 584.7,693.9 590.5,692.6 601.6,691.5 608.1,690.5 614.7,689.9 621.3,689.5 627.8,688.9 634.4,688.4 641,688 679.7,687.6" fill="none" stroke="#4040f0" stroke-width="1.25" stroke-linejoin="round"/>
<rect x="409.7" y="685.4" width="273.2" height="270.9" fill="none" stroke="#a2a2a2" stroke-width="1.25"/>
<line x1="412.4" y1="956.4" x2="412.4" y2="958.6" stroke="#a2a2a2" stroke-width="0.8"/>
<line x1="407.9" y1="953.4" x2="410.1" y2="953.4" stroke="#a2a2a2" stroke-width="0.8"/>
<text x="412.7" y="963.7" text-anchor="middle" font-size="7.4" fill="#262626">0.0</text>
<text x="407.3" y="955.8" text-anchor="end" font-size="7.4" fill="#262626">0.0</text>
<line x1="465.9" y1="956.4" x2="465.9" y2="958.6" stroke="#a2a2a2" stroke-width="0.8"/>
<line x1="407.9" y1="900.3" x2="410.1" y2="900.3" stroke="#a2a2a2" stroke-width="0.8"/>
<text x="466.2" y="963.7" text-anchor="middle" font-size="7.4" fill="#262626">0.2</text>
<text x="407.3" y="902.7" text-anchor="end" font-size="7.4" fill="#262626">0.2</text>
<line x1="519.4" y1="956.4" x2="519.4" y2="958.6" stroke="#a2a2a2" stroke-width="0.8"/>
<line x1="407.9" y1="847.2" x2="410.1" y2="847.2" stroke="#a2a2a2" stroke-width="0.8"/>
<text x="519.7" y="963.7" text-anchor="middle" font-size="7.4" fill="#262626">0.4</text>
<text x="407.3" y="849.6" text-anchor="end" font-size="7.4" fill="#262626">0.4</text>
<line x1="572.9" y1="956.4" x2="572.9" y2="958.6" stroke="#a2a2a2" stroke-width="0.8"/>
<line x1="407.9" y1="794" x2="410.1" y2="794" stroke="#a2a2a2" stroke-width="0.8"/>
<text x="573.2" y="963.7" text-anchor="middle" font-size="7.4" fill="#262626">0.6</text>
<text x="407.3" y="796.4" text-anchor="end" font-size="7.4" fill="#262626">0.6</text>
<line x1="626.4" y1="956.4" x2="626.4" y2="958.6" stroke="#a2a2a2" stroke-width="0.8"/>
<line x1="407.9" y1="740.9" x2="410.1" y2="740.9" stroke="#a2a2a2" stroke-width="0.8"/>
<text x="626.7" y="963.7" text-anchor="middle" font-size="7.4" fill="#262626">0.8</text>
<text x="407.3" y="743.3" text-anchor="end" font-size="7.4" fill="#262626">0.8</text>
<line x1="679.9" y1="956.4" x2="679.9" y2="958.6" stroke="#a2a2a2" stroke-width="0.8"/>
<line x1="407.9" y1="687.8" x2="410.1" y2="687.8" stroke="#a2a2a2" stroke-width="0.8"/>
<text x="680.2" y="963.7" text-anchor="middle" font-size="7.4" fill="#262626">1.0</text>
<text x="407.3" y="690.2" text-anchor="end" font-size="7.4" fill="#262626">1.0</text>
<text x="546.1" y="974.4" text-anchor="middle" font-size="10.3" fill="#111" stroke="#111" stroke-width="0.2" textLength="82.5" lengthAdjust="spacingAndGlyphs">False Positive Rate</text>
<text transform="translate(393.8,820.6) rotate(-90)" x="0" y="0" text-anchor="middle" font-size="10.3" fill="#111" stroke="#111" stroke-width="0.2" textLength="80" lengthAdjust="spacingAndGlyphs">True Positive Rate</text>
<rect x="505.7" y="922.1" width="172.6" height="29.1" rx="1.6" fill="#ffffff" fill-opacity="0.85" stroke="#d6d6d6" stroke-width="0.8"/>
<line x1="509" y1="929.4" x2="527.4" y2="929.4" stroke="#4040f0" stroke-width="1.1"/>
<rect x="509" y="939.8" width="18.4" height="6.8" fill="#d0d0d0"/>
<text x="534.8" y="932.8" font-size="10.0" fill="#111" stroke="#111" stroke-width="0.15" textLength="140.3" lengthAdjust="spacingAndGlyphs">Mean ROC (AUC = 0.89 ± 0.05)</text>
<text x="534.8" y="946.4" font-size="10.0" fill="#111" stroke="#111" stroke-width="0.15" textLength="57" lengthAdjust="spacingAndGlyphs">± 1 std. dev.</text>
<text x="202.5" y="17.4" text-anchor="middle" font-size="23.7" fill="#000" textLength="198" lengthAdjust="spacingAndGlyphs">PD-MCI vs. PD-CN</text>
<text x="548.1" y="17.4" text-anchor="middle" font-size="23.7" fill="#000" textLength="162" lengthAdjust="spacingAndGlyphs">PDD vs. PD-CN</text>
<text transform="translate(18.9,168.4) rotate(-90)" text-anchor="middle" font-size="25.7" fill="#000" textLength="38" lengthAdjust="spacingAndGlyphs">GM</text>
<text transform="translate(17.2,481.25) rotate(-90)" text-anchor="middle" font-size="25.7" fill="#000" textLength="38.3" lengthAdjust="spacingAndGlyphs">MD</text>
<text transform="translate(19.8,825.25) rotate(-90)" text-anchor="middle" font-size="25.7" fill="#000" textLength="60.5" lengthAdjust="spacingAndGlyphs">SUVR</text>
</svg>
</body></html>
